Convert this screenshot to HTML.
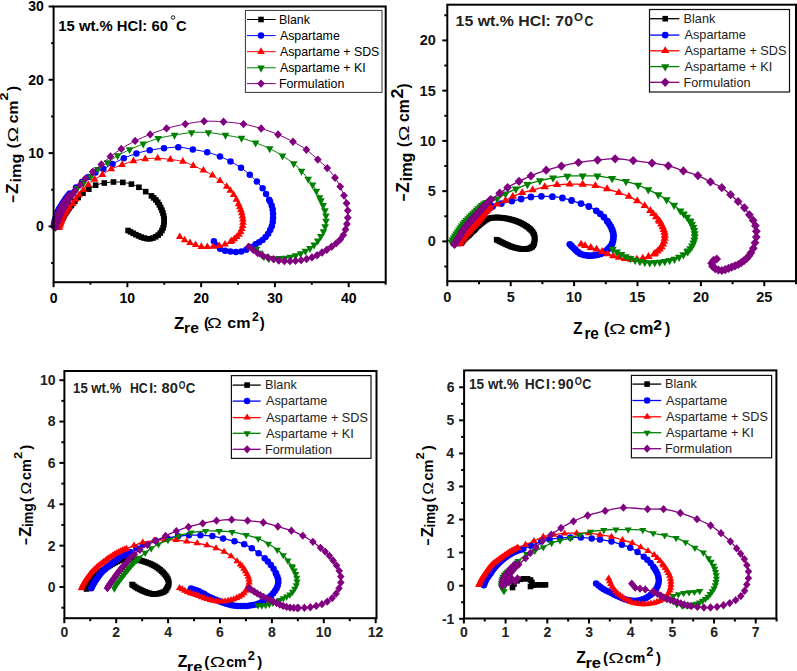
<!DOCTYPE html>
<html><head><meta charset="utf-8"><title>Nyquist plots</title>
<style>html,body{margin:0;padding:0;background:#fff;overflow:hidden}svg{display:block}text{font-family:"Liberation Sans",sans-serif;fill:#000}</style>
</head><body>
<svg width="797" height="671" viewBox="0 0 797 671">
<rect width="797" height="671" fill="#fff"/>
<g fill="#000000"><path d="M58 227 L58.17 226.64 L58.42 226.13 L58.7 225.56 L58.96 225.02 L59.21 224.53 L59.45 224.03 L59.69 223.54 L59.94 223.05 L60.19 222.56 L60.44 222.07 L60.69 221.58 L60.95 221.1 L61.21 220.61 L61.48 220.13 L61.75 219.65 L62.02 219.17 L62.29 218.7 L62.57 218.22 L62.85 217.75 L63.13 217.27 L63.41 216.8 L63.69 216.33 L63.98 215.86 L64.26 215.39 L64.55 214.92 L64.83 214.45 L65.12 213.98 L65.41 213.51 L65.7 213.04 L65.99 212.58 L66.28 212.11 L66.57 211.65 L66.87 211.18 L67.17 210.72 L67.48 210.26 L67.79 209.81 L68.1 209.36 L68.43 208.91 L68.75 208.47 L69.08 208.03 L69.43 207.59 L69.78 207.14 L70.13 206.71 L70.45 206.31 L70.68 206.01 L70.85 205.78 L71.09 205.49 L71.5 205 L72.16 204.25 L73 203.31 L73.92 202.29 L74.8 201.3 L75.61 200.37 L76.41 199.44 L77.25 198.49 L78.2 197.5 L79.28 196.43 L80.45 195.31 L81.7 194.18 L83 193.1 L84.36 192.09 L85.78 191.12 L87.26 190.17 L88.8 189.2 L90.39 188.16 L92.02 187.09 L93.74 186.08 L95.6 185.2 L97.63 184.5 L99.8 183.91 L102.05 183.42 L104.3 183 L106.56 182.63 L108.86 182.34 L111.18 182.12 L113.5 182 L115.83 181.97 L118.19 182.03 L120.52 182.18 L122.8 182.4 L125.02 182.7 L127.21 183.08 L129.34 183.54 L131.4 184.1 L133.37 184.77 L135.26 185.54 L137.1 186.39 L138.9 187.3 L140.67 188.3 L142.41 189.38 L144.09 190.5 L145.7 191.6 L147.28 192.73 L148.83 193.9 L150.24 194.99 L151.4 195.9 L152.21 196.55 L152.75 197.03 L153.18 197.43 L153.66 197.87 L154.22 198.37 L154.78 198.87 L155.33 199.38 L155.86 199.91 L156.36 200.47 L156.84 201.04 L157.3 201.63 L157.74 202.24 L158.15 202.87 L158.54 203.51 L158.91 204.16 L159.28 204.82 L159.64 205.47 L160 206.13 L160.36 206.79 L160.69 207.46 L161.02 208.14 L161.33 208.82 L161.63 209.51 L161.92 210.2 L162.2 210.9 L162.46 211.6 L162.71 212.31 L162.94 213.02 L163.16 213.74 L163.36 214.46 L163.54 215.19 L163.7 215.92 L163.85 216.65 L163.97 217.4 L164.07 218.14 L164.14 218.88 L164.19 219.63 L164.22 220.38 L164.22 221.13 L164.19 221.88 L164.13 222.63 L164.05 223.37 L163.94 224.12 L163.81 224.86 L163.66 225.59 L163.49 226.32 L163.3 227.05 L163.08 227.76 L162.83 228.47 L162.55 229.17 L162.25 229.86 L161.92 230.53 L161.55 231.18 L161.16 231.82 L160.73 232.44 L160.27 233.03 L159.79 233.59 L159.26 234.14 L158.72 234.65 L158.15 235.14 L157.55 235.59 L156.93 236.02 L156.3 236.42 L155.65 236.8 L154.99 237.16 L154.32 237.5 L153.64 237.81 L152.95 238.08 L152.24 238.32 L151.51 238.54 L150.78 238.7 L150.05 238.81 L149.3 238.85 L148.55 238.84 L147.8 238.78 L147.06 238.69 L146.32 238.57 L145.58 238.43 L144.85 238.25 L144.12 238.06 L143.41 237.85 L142.69 237.62 L141.98 237.37 L141.28 237.11 L140.59 236.83 L139.9 236.53 L139.21 236.22 L138.53 235.92 L137.84 235.61 L137.16 235.3 L136.48 234.98 L135.8 234.66 L135.13 234.33 L134.47 233.98 L133.8 233.63 L133.14 233.28 L132.47 232.93 L131.8 232.57 L131.14 232.21 L130.5 231.85 L129.83 231.48 L129.14 231.09 L128.53 230.74 L128.1 230.5" fill="none" stroke="#000000" stroke-width="1"/>
<rect x="55.2" y="224.2" width="5.6" height="5.6"/>
<rect x="56.16" y="222.22" width="5.6" height="5.6"/>
<rect x="57.14" y="220.25" width="5.6" height="5.6"/>
<rect x="58.15" y="218.3" width="5.6" height="5.6"/>
<rect x="59.22" y="216.37" width="5.6" height="5.6"/>
<rect x="60.33" y="214.47" width="5.6" height="5.6"/>
<rect x="61.46" y="212.59" width="5.6" height="5.6"/>
<rect x="62.61" y="210.71" width="5.6" height="5.6"/>
<rect x="63.77" y="208.85" width="5.6" height="5.6"/>
<rect x="64.99" y="207.01" width="5.6" height="5.6"/>
<rect x="66.28" y="205.23" width="5.6" height="5.6"/>
<rect x="67.65" y="203.51" width="5.6" height="5.6"/>
<rect x="68.7" y="202.2" width="5.6" height="5.6"/>
<rect x="72" y="198.5" width="5.6" height="5.6"/>
<rect x="75.4" y="194.7" width="5.6" height="5.6"/>
<rect x="80.2" y="190.3" width="5.6" height="5.6"/>
<rect x="86" y="186.4" width="5.6" height="5.6"/>
<rect x="92.8" y="182.4" width="5.6" height="5.6"/>
<rect x="101.5" y="180.2" width="5.6" height="5.6"/>
<rect x="110.7" y="179.2" width="5.6" height="5.6"/>
<rect x="120" y="179.6" width="5.6" height="5.6"/>
<rect x="128.6" y="181.3" width="5.6" height="5.6"/>
<rect x="136.1" y="184.5" width="5.6" height="5.6"/>
<rect x="142.9" y="188.8" width="5.6" height="5.6"/>
<rect x="148.6" y="193.1" width="5.6" height="5.6"/>
<rect x="150.86" y="195.07" width="5.6" height="5.6"/>
<rect x="153.06" y="197.11" width="5.6" height="5.6"/>
<rect x="154.94" y="199.44" width="5.6" height="5.6"/>
<rect x="156.48" y="202.02" width="5.6" height="5.6"/>
<rect x="157.89" y="204.66" width="5.6" height="5.6"/>
<rect x="159.12" y="207.4" width="5.6" height="5.6"/>
<rect x="160.14" y="210.22" width="5.6" height="5.6"/>
<rect x="160.9" y="213.12" width="5.6" height="5.6"/>
<rect x="161.34" y="216.08" width="5.6" height="5.6"/>
<rect x="161.39" y="219.08" width="5.6" height="5.6"/>
<rect x="161.01" y="222.06" width="5.6" height="5.6"/>
<rect x="160.28" y="224.96" width="5.6" height="5.6"/>
<rect x="159.12" y="227.73" width="5.6" height="5.6"/>
<rect x="157.47" y="230.23" width="5.6" height="5.6"/>
<rect x="155.35" y="232.34" width="5.6" height="5.6"/>
<rect x="152.85" y="234" width="5.6" height="5.6"/>
<rect x="150.15" y="235.28" width="5.6" height="5.6"/>
<rect x="147.25" y="236.01" width="5.6" height="5.6"/>
<rect x="144.26" y="235.89" width="5.6" height="5.6"/>
<rect x="141.32" y="235.26" width="5.6" height="5.6"/>
<rect x="138.48" y="234.31" width="5.6" height="5.6"/>
<rect x="135.73" y="233.12" width="5.6" height="5.6"/>
<rect x="133" y="231.86" width="5.6" height="5.6"/>
<rect x="130.34" y="230.48" width="5.6" height="5.6"/>
<rect x="127.7" y="229.05" width="5.6" height="5.6"/>
<rect x="125.3" y="227.7" width="5.6" height="5.6"/>
</g>
<g fill="#0000ff"><path d="M54 224 L54.1 223.62 L54.24 223.07 L54.39 222.45 L54.54 221.87 L54.68 221.33 L54.81 220.8 L54.95 220.27 L55.1 219.74 L55.25 219.21 L55.4 218.68 L55.56 218.15 L55.71 217.63 L55.87 217.1 L56.03 216.57 L56.19 216.05 L56.36 215.52 L56.52 215 L56.69 214.47 L56.86 213.95 L57.04 213.43 L57.23 212.92 L57.42 212.4 L57.62 211.89 L57.83 211.38 L58.06 210.88 L58.3 210.38 L58.54 209.89 L58.8 209.41 L59.07 208.92 L59.34 208.45 L59.63 207.98 L59.91 207.51 L60.2 207.04 L60.5 206.58 L60.79 206.11 L61.09 205.65 L61.38 205.18 L61.68 204.72 L61.97 204.25 L62.27 203.79 L62.56 203.33 L62.86 202.87 L63.16 202.4 L63.47 201.95 L63.77 201.49 L64.08 201.03 L64.39 200.58 L64.7 200.13 L65.02 199.68 L65.34 199.23 L65.66 198.78 L65.99 198.34 L66.32 197.9 L66.65 197.46 L66.99 197.03 L67.33 196.6 L67.68 196.16 L68.03 195.71 L68.37 195.28 L68.7 194.88 L68.87 194.62 L68.95 194.46 L69.17 194.16 L69.8 193.5 L71 192.31 L72.59 190.76 L74.34 189.07 L76 187.5 L77.5 186.08 L78.98 184.69 L80.47 183.33 L82 182 L83.58 180.7 L85.19 179.44 L86.83 178.2 L88.5 177 L90.19 175.82 L91.91 174.66 L93.67 173.55 L95.5 172.5 L97.38 171.57 L99.32 170.73 L101.32 169.87 L103.4 168.9 L105.54 167.79 L107.74 166.59 L110.04 165.32 L112.5 164 L115.14 162.59 L117.93 161.09 L120.83 159.59 L123.8 158.2 L126.84 156.91 L129.98 155.69 L133.17 154.55 L136.4 153.5 L139.65 152.55 L142.94 151.68 L146.29 150.9 L149.7 150.2 L153.2 149.59 L156.79 149.06 L160.4 148.6 L164 148.2 L167.57 147.8 L171.14 147.44 L174.71 147.2 L178.3 147.2 L181.91 147.51 L185.54 148.06 L189.18 148.73 L192.8 149.4 L196.44 150.02 L200.11 150.67 L203.71 151.38 L207.2 152.2 L210.57 153.15 L213.84 154.21 L217 155.34 L220 156.5 L222.79 157.67 L225.39 158.87 L227.93 160.14 L230.5 161.5 L233.16 162.97 L235.86 164.53 L238.49 166.15 L241 167.8 L243.36 169.51 L245.62 171.27 L247.77 173.05 L249.8 174.8 L251.7 176.52 L253.49 178.22 L255.18 179.91 L256.8 181.6 L258.39 183.31 L259.92 185.02 L261.34 186.7 L262.6 188.3 L263.63 189.78 L264.49 191.17 L265.26 192.53 L266.04 193.93 L266.9 195.46 L267.76 197.07 L268.55 198.56 L269.17 199.74 L269.54 200.44 L269.73 200.79 L269.87 201.08 L270.1 201.6 L270.46 202.43 L270.88 203.41 L271.3 204.46 L271.67 205.49 L271.98 206.5 L272.26 207.51 L272.5 208.53 L272.7 209.56 L272.84 210.6 L272.94 211.64 L273.01 212.69 L273.06 213.74 L273.09 214.79 L273.11 215.84 L273.11 216.89 L273.08 217.94 L273.03 218.99 L272.97 220.04 L272.88 221.09 L272.74 222.12 L272.56 223.16 L272.34 224.19 L272.09 225.21 L271.79 226.21 L271.44 227.2 L271.05 228.17 L270.63 229.14 L270.18 230.09 L269.71 231.02 L269.21 231.95 L268.69 232.86 L268.13 233.75 L267.54 234.61 L266.92 235.46 L266.26 236.29 L265.58 237.08 L264.87 237.85 L264.12 238.59 L263.35 239.3 L262.55 239.98 L261.71 240.62 L260.84 241.22 L259.96 241.79 L259.08 242.34 L258.24 242.84 L257.41 243.3 L256.55 243.76 L255.6 244.3 L254.52 244.94 L253.36 245.64 L252.16 246.37 L250.96 247.07 L249.8 247.75 L248.63 248.43 L247.44 249.08 L246.24 249.68 L245.01 250.25 L243.77 250.78 L242.5 251.24 L241.22 251.6 L239.9 251.83 L238.55 251.94 L237.19 251.99 L235.84 251.99 L234.49 251.96 L233.15 251.87 L231.8 251.74 L230.46 251.59 L229.12 251.42 L227.78 251.23 L226.45 250.99 L225.14 250.69 L223.83 250.34 L222.52 249.95 L221.26 249.47 L220.09 248.86 L219 248.07 L217.98 247.13 L217.05 246.12 L216.21 245.13 L215.47 244.07 L214.82 242.93 L214.28 241.91 L213.9 241.2" fill="none" stroke="#0000ff" stroke-width="1"/>
<circle cx="54" cy="224" r="3.25"/>
<circle cx="54.54" cy="221.87" r="3.25"/>
<circle cx="55.1" cy="219.74" r="3.25"/>
<circle cx="55.71" cy="217.63" r="3.25"/>
<circle cx="56.36" cy="215.52" r="3.25"/>
<circle cx="57.04" cy="213.43" r="3.25"/>
<circle cx="57.83" cy="211.38" r="3.25"/>
<circle cx="58.8" cy="209.41" r="3.25"/>
<circle cx="59.91" cy="207.51" r="3.25"/>
<circle cx="61.09" cy="205.65" r="3.25"/>
<circle cx="62.27" cy="203.79" r="3.25"/>
<circle cx="63.47" cy="201.95" r="3.25"/>
<circle cx="64.7" cy="200.13" r="3.25"/>
<circle cx="65.99" cy="198.34" r="3.25"/>
<circle cx="67.33" cy="196.6" r="3.25"/>
<circle cx="68.7" cy="194.88" r="3.25"/>
<circle cx="69.8" cy="193.5" r="3.25"/>
<circle cx="76" cy="187.5" r="3.25"/>
<circle cx="82" cy="182" r="3.25"/>
<circle cx="88.5" cy="177" r="3.25"/>
<circle cx="95.5" cy="172.5" r="3.25"/>
<circle cx="103.4" cy="168.9" r="3.25"/>
<circle cx="112.5" cy="164" r="3.25"/>
<circle cx="123.8" cy="158.2" r="3.25"/>
<circle cx="136.4" cy="153.5" r="3.25"/>
<circle cx="149.7" cy="150.2" r="3.25"/>
<circle cx="164" cy="148.2" r="3.25"/>
<circle cx="178.3" cy="147.2" r="3.25"/>
<circle cx="192.8" cy="149.4" r="3.25"/>
<circle cx="207.2" cy="152.2" r="3.25"/>
<circle cx="220" cy="156.5" r="3.25"/>
<circle cx="230.5" cy="161.5" r="3.25"/>
<circle cx="241" cy="167.8" r="3.25"/>
<circle cx="249.8" cy="174.8" r="3.25"/>
<circle cx="256.8" cy="181.6" r="3.25"/>
<circle cx="262.6" cy="188.3" r="3.25"/>
<circle cx="266.04" cy="193.93" r="3.25"/>
<circle cx="269.17" cy="199.74" r="3.25"/>
<circle cx="270.1" cy="201.6" r="3.25"/>
<circle cx="271.67" cy="205.49" r="3.25"/>
<circle cx="272.7" cy="209.56" r="3.25"/>
<circle cx="273.06" cy="213.74" r="3.25"/>
<circle cx="273.08" cy="217.94" r="3.25"/>
<circle cx="272.74" cy="222.12" r="3.25"/>
<circle cx="271.79" cy="226.21" r="3.25"/>
<circle cx="270.18" cy="230.09" r="3.25"/>
<circle cx="268.13" cy="233.75" r="3.25"/>
<circle cx="265.58" cy="237.08" r="3.25"/>
<circle cx="262.55" cy="239.98" r="3.25"/>
<circle cx="259.08" cy="242.34" r="3.25"/>
<circle cx="255.6" cy="244.3" r="3.25"/>
<circle cx="250.96" cy="247.07" r="3.25"/>
<circle cx="246.24" cy="249.68" r="3.25"/>
<circle cx="241.22" cy="251.6" r="3.25"/>
<circle cx="235.84" cy="251.99" r="3.25"/>
<circle cx="230.46" cy="251.59" r="3.25"/>
<circle cx="225.14" cy="250.69" r="3.25"/>
<circle cx="220.09" cy="248.86" r="3.25"/>
<circle cx="216.21" cy="245.13" r="3.25"/>
<circle cx="213.9" cy="241.2" r="3.25"/>
</g>
<g fill="#ff0000"><path d="M59.5 227.5 L59.61 227.12 L59.77 226.58 L59.95 225.97 L60.12 225.39 L60.27 224.86 L60.43 224.33 L60.59 223.81 L60.75 223.28 L60.92 222.76 L61.08 222.23 L61.26 221.71 L61.43 221.19 L61.62 220.67 L61.81 220.16 L62.01 219.64 L62.2 219.13 L62.41 218.62 L62.62 218.11 L62.83 217.6 L63.04 217.1 L63.26 216.59 L63.49 216.09 L63.72 215.59 L63.96 215.09 L64.2 214.6 L64.45 214.11 L64.7 213.62 L64.96 213.14 L65.23 212.66 L65.5 212.18 L65.78 211.7 L66.06 211.23 L66.34 210.76 L66.62 210.29 L66.91 209.82 L67.21 209.36 L67.52 208.88 L67.86 208.4 L68.18 207.94 L68.46 207.54 L68.61 207.27 L68.68 207.08 L68.82 206.86 L69.2 206.5 L69.92 205.98 L70.87 205.36 L71.88 204.63 L72.8 203.8 L73.56 202.82 L74.26 201.71 L74.96 200.54 L75.7 199.4 L76.49 198.32 L77.31 197.26 L78.17 196.16 L79.1 195 L80.12 193.73 L81.21 192.37 L82.35 191.01 L83.5 189.7 L84.64 188.48 L85.78 187.31 L86.99 186.13 L88.3 184.9 L89.73 183.58 L91.26 182.2 L92.88 180.82 L94.6 179.5 L96.42 178.28 L98.34 177.12 L100.34 175.95 L102.4 174.7 L104.5 173.31 L106.66 171.82 L108.92 170.35 L111.3 169 L113.85 167.81 L116.55 166.72 L119.32 165.7 L122.1 164.7 L124.88 163.69 L127.69 162.71 L130.53 161.79 L133.4 161 L136.3 160.35 L139.23 159.82 L142.19 159.38 L145.2 159 L148.27 158.67 L151.4 158.39 L154.55 158.22 L157.7 158.2 L160.85 158.36 L164 158.67 L167.15 159.08 L170.3 159.5 L173.48 159.9 L176.68 160.32 L179.82 160.83 L182.8 161.5 L185.57 162.39 L188.2 163.44 L190.75 164.57 L193.3 165.7 L195.88 166.81 L198.44 167.95 L200.96 169.11 L203.4 170.3 L205.76 171.51 L208.06 172.74 L210.27 174.01 L212.4 175.3 L214.42 176.63 L216.34 178 L218.2 179.39 L220 180.8 L221.81 182.27 L223.6 183.79 L225.26 185.27 L226.7 186.6 L227.83 187.72 L228.72 188.71 L229.5 189.64 L230.31 190.62 L231.16 191.66 L232.01 192.72 L232.82 193.79 L233.6 194.89 L234.35 196.03 L235.06 197.19 L235.73 198.36 L236.36 199.53 L236.96 200.71 L237.53 201.92 L238.04 203.07 L238.5 204.1 L238.87 204.95 L239.18 205.67 L239.45 206.35 L239.74 207.05 L240.03 207.79 L240.33 208.54 L240.61 209.29 L240.88 210.04 L241.13 210.8 L241.35 211.57 L241.57 212.34 L241.77 213.11 L241.95 213.89 L242.12 214.67 L242.28 215.46 L242.42 216.24 L242.56 217.03 L242.68 217.82 L242.79 218.62 L242.87 219.41 L242.94 220.21 L242.99 221.01 L243.02 221.81 L243.02 222.61 L242.97 223.4 L242.9 224.2 L242.79 224.99 L242.66 225.78 L242.51 226.57 L242.33 227.35 L242.13 228.12 L241.9 228.89 L241.64 229.65 L241.36 230.4 L241.05 231.14 L240.71 231.86 L240.34 232.56 L239.93 233.26 L239.49 233.93 L239.02 234.57 L238.51 235.18 L237.96 235.76 L237.39 236.32 L236.8 236.87 L236.21 237.4 L235.6 237.92 L234.98 238.43 L234.36 238.93 L233.69 239.44 L233 239.96 L232.35 240.44 L231.8 240.85 L231.48 241.12 L231.33 241.29 L231.09 241.48 L230.5 241.8 L229.44 242.34 L228.05 243.01 L226.53 243.7 L225.04 244.29 L223.62 244.75 L222.17 245.14 L220.71 245.48 L219.24 245.78 L217.77 246.04 L216.28 246.25 L214.79 246.42 L213.29 246.57 L211.8 246.68 L210.3 246.77 L208.8 246.83 L207.31 246.86 L205.8 246.89 L204.29 246.9 L202.79 246.85 L201.31 246.68 L199.86 246.35 L198.44 245.9 L197.03 245.39 L195.62 244.88 L194.21 244.39 L192.79 243.89 L191.39 243.37 L190 242.8 L188.63 242.19 L187.27 241.54 L185.93 240.86 L184.63 240.13 L183.27 239.26 L181.88 238.3 L180.66 237.41 L179.8 236.8" fill="none" stroke="#ff0000" stroke-width="1"/>
<path d="M59.5 223.1L63.3 229.7L55.7 229.7Z"/>
<path d="M60.12 220.99L63.92 227.59L56.32 227.59Z"/>
<path d="M60.75 218.88L64.55 225.48L56.95 225.48Z"/>
<path d="M61.43 216.79L65.23 223.39L57.63 223.39Z"/>
<path d="M62.2 214.73L66 221.33L58.4 221.33Z"/>
<path d="M63.04 212.7L66.84 219.3L59.24 219.3Z"/>
<path d="M63.96 210.69L67.76 217.29L60.16 217.29Z"/>
<path d="M64.96 208.74L68.76 215.34L61.16 215.34Z"/>
<path d="M66.06 206.83L69.86 213.43L62.26 213.43Z"/>
<path d="M67.21 204.96L71.01 211.56L63.41 211.56Z"/>
<path d="M68.46 203.14L72.26 209.74L64.66 209.74Z"/>
<path d="M69.2 202.1L73 208.7L65.4 208.7Z"/>
<path d="M72.8 199.4L76.6 206L69 206Z"/>
<path d="M75.7 195L79.5 201.6L71.9 201.6Z"/>
<path d="M79.1 190.6L82.9 197.2L75.3 197.2Z"/>
<path d="M83.5 185.3L87.3 191.9L79.7 191.9Z"/>
<path d="M88.3 180.5L92.1 187.1L84.5 187.1Z"/>
<path d="M94.6 175.1L98.4 181.7L90.8 181.7Z"/>
<path d="M102.4 170.3L106.2 176.9L98.6 176.9Z"/>
<path d="M111.3 164.6L115.1 171.2L107.5 171.2Z"/>
<path d="M122.1 160.3L125.9 166.9L118.3 166.9Z"/>
<path d="M133.4 156.6L137.2 163.2L129.6 163.2Z"/>
<path d="M145.2 154.6L149 161.2L141.4 161.2Z"/>
<path d="M157.7 153.8L161.5 160.4L153.9 160.4Z"/>
<path d="M170.3 155.1L174.1 161.7L166.5 161.7Z"/>
<path d="M182.8 157.1L186.6 163.7L179 163.7Z"/>
<path d="M193.3 161.3L197.1 167.9L189.5 167.9Z"/>
<path d="M203.4 165.9L207.2 172.5L199.6 172.5Z"/>
<path d="M212.4 170.9L216.2 177.5L208.6 177.5Z"/>
<path d="M220 176.4L223.8 183L216.2 183Z"/>
<path d="M226.7 182.2L230.5 188.8L222.9 188.8Z"/>
<path d="M230.31 186.22L234.11 192.82L226.51 192.82Z"/>
<path d="M233.6 190.49L237.4 197.09L229.8 197.09Z"/>
<path d="M236.36 195.13L240.16 201.73L232.56 201.73Z"/>
<path d="M238.5 199.7L242.3 206.3L234.7 206.3Z"/>
<path d="M239.74 202.65L243.54 209.25L235.94 209.25Z"/>
<path d="M240.88 205.64L244.68 212.24L237.08 212.24Z"/>
<path d="M241.77 208.71L245.57 215.31L237.97 215.31Z"/>
<path d="M242.42 211.84L246.22 218.44L238.62 218.44Z"/>
<path d="M242.87 215.01L246.67 221.61L239.07 221.61Z"/>
<path d="M243.02 218.21L246.82 224.81L239.22 224.81Z"/>
<path d="M242.66 221.38L246.46 227.98L238.86 227.98Z"/>
<path d="M241.9 224.49L245.7 231.09L238.1 231.09Z"/>
<path d="M240.71 227.46L244.51 234.06L236.91 234.06Z"/>
<path d="M239.02 230.17L242.82 236.77L235.22 236.77Z"/>
<path d="M236.8 232.47L240.6 239.07L233 239.07Z"/>
<path d="M234.36 234.53L238.16 241.13L230.56 241.13Z"/>
<path d="M231.8 236.45L235.6 243.05L228 243.05Z"/>
<path d="M230.5 237.4L234.3 244L226.7 244Z"/>
<path d="M225.04 239.89L228.84 246.49L221.24 246.49Z"/>
<path d="M219.24 241.38L223.04 247.98L215.44 247.98Z"/>
<path d="M213.29 242.17L217.09 248.77L209.49 248.77Z"/>
<path d="M207.31 242.46L211.11 249.06L203.51 249.06Z"/>
<path d="M201.31 242.28L205.11 248.88L197.51 248.88Z"/>
<path d="M195.62 240.48L199.42 247.08L191.82 247.08Z"/>
<path d="M190 238.4L193.8 245L186.2 245Z"/>
<path d="M184.63 235.73L188.43 242.33L180.83 242.33Z"/>
<path d="M179.8 232.4L183.6 239L176 239Z"/>
</g>
<g fill="#008000"><path d="M55 226 L55.13 225.59 L55.31 225 L55.52 224.34 L55.72 223.71 L55.9 223.14 L56.08 222.57 L56.27 222 L56.47 221.43 L56.67 220.87 L56.89 220.31 L57.11 219.75 L57.33 219.19 L57.57 218.64 L57.81 218.09 L58.06 217.54 L58.31 217 L58.56 216.45 L58.82 215.91 L59.08 215.37 L59.34 214.83 L59.6 214.29 L59.87 213.76 L60.14 213.22 L60.41 212.69 L60.69 212.15 L60.97 211.62 L61.25 211.09 L61.53 210.56 L61.82 210.04 L62.11 209.51 L62.4 208.98 L62.69 208.46 L62.98 207.93 L63.27 207.41 L63.56 206.89 L63.86 206.36 L64.15 205.84 L64.45 205.32 L64.74 204.8 L65.04 204.28 L65.34 203.76 L65.64 203.24 L65.95 202.72 L66.26 202.21 L66.57 201.7 L66.89 201.19 L67.21 200.68 L67.53 200.17 L67.86 199.67 L68.19 199.17 L68.52 198.67 L68.85 198.17 L69.2 197.65 L69.56 197.12 L69.9 196.62 L70.2 196.18 L70.31 195.96 L70.3 195.89 L70.43 195.66 L71 195 L72.16 193.69 L73.73 191.94 L75.48 190.05 L77.2 188.3 L78.86 186.77 L80.56 185.29 L82.29 183.85 L84 182.4 L85.7 180.98 L87.41 179.58 L89.11 178.15 L90.8 176.6 L92.4 174.89 L93.95 173.06 L95.6 171.2 L97.5 169.4 L99.77 167.7 L102.29 166.04 L104.92 164.38 L107.5 162.7 L109.97 160.95 L112.42 159.16 L114.94 157.39 L117.6 155.7 L120.43 154.12 L123.38 152.62 L126.44 151.16 L129.6 149.7 L132.85 148.23 L136.21 146.77 L139.66 145.32 L143.2 143.9 L146.82 142.45 L150.53 140.99 L154.33 139.61 L158.2 138.4 L162.16 137.4 L166.22 136.56 L170.34 135.82 L174.5 135.1 L178.73 134.36 L183.02 133.64 L187.33 133.03 L191.6 132.6 L195.81 132.37 L200 132.29 L204.19 132.37 L208.4 132.6 L212.68 133.04 L217 133.66 L221.3 134.37 L225.5 135.1 L229.62 135.8 L233.69 136.52 L237.66 137.31 L241.5 138.2 L245.16 139.22 L248.67 140.33 L252.12 141.53 L255.6 142.8 L259.16 144.13 L262.73 145.54 L266.27 147.02 L269.7 148.6 L273.03 150.29 L276.28 152.07 L279.44 153.93 L282.5 155.8 L285.49 157.72 L288.41 159.69 L291.18 161.66 L293.7 163.6 L295.91 165.46 L297.88 167.27 L299.71 169.1 L301.5 171 L303.31 173.05 L305.06 175.21 L306.71 177.31 L308.2 179.2 L309.48 180.79 L310.59 182.18 L311.6 183.5 L312.6 184.9 L313.6 186.39 L314.56 187.91 L315.49 189.46 L316.37 191.02 L317.25 192.69 L318.11 194.45 L318.89 196.1 L319.55 197.48 L319.99 198.43 L320.28 199.09 L320.55 199.69 L320.9 200.5 L321.4 201.59 L321.97 202.84 L322.56 204.14 L323.1 205.43 L323.59 206.69 L324.07 207.95 L324.51 209.23 L324.9 210.52 L325.24 211.82 L325.53 213.14 L325.77 214.47 L325.94 215.81 L326.05 217.15 L326.1 218.5 L326.08 219.86 L326.01 221.2 L325.86 222.54 L325.65 223.87 L325.39 225.2 L325.08 226.52 L324.74 227.82 L324.35 229.12 L323.91 230.39 L323.41 231.65 L322.85 232.87 L322.21 234.06 L321.54 235.23 L320.84 236.39 L320.12 237.53 L319.37 238.65 L318.58 239.75 L317.76 240.82 L316.91 241.87 L316.02 242.89 L315.1 243.88 L314.15 244.82 L313.15 245.73 L312.11 246.59 L311.04 247.43 L309.96 248.23 L308.85 249 L307.72 249.74 L306.57 250.45 L305.41 251.14 L304.23 251.79 L303.04 252.42 L301.83 253.03 L300.61 253.6 L299.38 254.15 L298.13 254.68 L296.88 255.17 L295.61 255.63 L294.33 256.06 L293.04 256.46 L291.73 256.82 L290.42 257.13 L289.1 257.4 L287.77 257.62 L286.43 257.81 L285.09 257.98 L283.75 258.12 L282.41 258.23 L281.06 258.33 L279.71 258.42 L278.36 258.5 L277.02 258.57 L275.67 258.62 L274.32 258.65 L272.96 258.67 L271.6 258.7 L270.25 258.65 L268.93 258.47 L267.64 258.13 L266.36 257.66 L265.12 257.1 L263.94 256.47 L262.81 255.75 L261.72 254.93 L260.7 254.05 L259.74 253.15 L258.81 252.11 L257.91 250.97 L257.14 249.92 L256.6 249.2" fill="none" stroke="#008000" stroke-width="1"/>
<path d="M51.2 223.67L58.8 223.67L55 230.67Z"/>
<path d="M51.92 221.38L59.52 221.38L55.72 228.38Z"/>
<path d="M52.67 219.1L60.27 219.1L56.47 226.1Z"/>
<path d="M53.53 216.86L61.13 216.86L57.33 223.86Z"/>
<path d="M54.51 214.66L62.11 214.66L58.31 221.66Z"/>
<path d="M55.54 212.5L63.14 212.5L59.34 219.5Z"/>
<path d="M56.61 210.35L64.21 210.35L60.41 217.35Z"/>
<path d="M57.73 208.23L65.33 208.23L61.53 215.23Z"/>
<path d="M58.89 206.13L66.49 206.13L62.69 213.13Z"/>
<path d="M60.06 204.03L67.66 204.03L63.86 211.03Z"/>
<path d="M61.24 201.94L68.84 201.94L65.04 208.94Z"/>
<path d="M62.46 199.87L70.06 199.87L66.26 206.87Z"/>
<path d="M63.73 197.84L71.33 197.84L67.53 204.84Z"/>
<path d="M65.05 195.84L72.65 195.84L68.85 202.84Z"/>
<path d="M66.4 193.85L74 193.85L70.2 200.85Z"/>
<path d="M67.2 192.67L74.8 192.67L71 199.67Z"/>
<path d="M73.4 185.97L81 185.97L77.2 192.97Z"/>
<path d="M80.2 180.07L87.8 180.07L84 187.07Z"/>
<path d="M87 174.27L94.6 174.27L90.8 181.27Z"/>
<path d="M93.7 167.07L101.3 167.07L97.5 174.07Z"/>
<path d="M103.7 160.37L111.3 160.37L107.5 167.37Z"/>
<path d="M113.8 153.37L121.4 153.37L117.6 160.37Z"/>
<path d="M125.8 147.37L133.4 147.37L129.6 154.37Z"/>
<path d="M139.4 141.57L147 141.57L143.2 148.57Z"/>
<path d="M154.4 136.07L162 136.07L158.2 143.07Z"/>
<path d="M170.7 132.77L178.3 132.77L174.5 139.77Z"/>
<path d="M187.8 130.27L195.4 130.27L191.6 137.27Z"/>
<path d="M204.6 130.27L212.2 130.27L208.4 137.27Z"/>
<path d="M221.7 132.77L229.3 132.77L225.5 139.77Z"/>
<path d="M237.7 135.87L245.3 135.87L241.5 142.87Z"/>
<path d="M251.8 140.47L259.4 140.47L255.6 147.47Z"/>
<path d="M265.9 146.27L273.5 146.27L269.7 153.27Z"/>
<path d="M278.7 153.47L286.3 153.47L282.5 160.47Z"/>
<path d="M289.9 161.27L297.5 161.27L293.7 168.27Z"/>
<path d="M297.7 168.67L305.3 168.67L301.5 175.67Z"/>
<path d="M304.4 176.87L312 176.87L308.2 183.87Z"/>
<path d="M308.8 182.56L316.4 182.56L312.6 189.56Z"/>
<path d="M312.57 188.69L320.17 188.69L316.37 195.69Z"/>
<path d="M315.75 195.15L323.35 195.15L319.55 202.15Z"/>
<path d="M317.1 198.17L324.7 198.17L320.9 205.17Z"/>
<path d="M319.3 203.1L326.9 203.1L323.1 210.1Z"/>
<path d="M321.1 208.19L328.7 208.19L324.9 215.19Z"/>
<path d="M322.14 213.48L329.74 213.48L325.94 220.48Z"/>
<path d="M322.21 218.87L329.81 218.87L326.01 225.87Z"/>
<path d="M321.28 224.18L328.88 224.18L325.08 231.18Z"/>
<path d="M319.61 229.31L327.21 229.31L323.41 236.31Z"/>
<path d="M317.04 234.06L324.64 234.06L320.84 241.06Z"/>
<path d="M313.96 238.49L321.56 238.49L317.76 245.49Z"/>
<path d="M310.35 242.49L317.95 242.49L314.15 249.49Z"/>
<path d="M306.16 245.9L313.76 245.9L309.96 252.9Z"/>
<path d="M301.61 248.8L309.21 248.8L305.41 255.8Z"/>
<path d="M296.81 251.27L304.41 251.27L300.61 258.27Z"/>
<path d="M291.81 253.3L299.41 253.3L295.61 260.3Z"/>
<path d="M286.62 254.8L294.22 254.8L290.42 261.8Z"/>
<path d="M281.29 255.64L288.89 255.64L285.09 262.64Z"/>
<path d="M275.91 256.08L283.51 256.08L279.71 263.08Z"/>
<path d="M270.52 256.31L278.12 256.31L274.32 263.31Z"/>
<path d="M265.13 256.13L272.73 256.13L268.93 263.13Z"/>
<path d="M260.14 254.13L267.74 254.13L263.94 261.13Z"/>
<path d="M255.94 250.81L263.54 250.81L259.74 257.81Z"/>
<path d="M252.8 246.87L260.4 246.87L256.6 253.87Z"/>
</g>
<g fill="#800080"><path d="M54 227 L54.08 226.58 L54.19 225.97 L54.32 225.29 L54.44 224.64 L54.56 224.05 L54.68 223.46 L54.81 222.88 L54.95 222.3 L55.1 221.72 L55.27 221.14 L55.44 220.57 L55.63 219.99 L55.82 219.43 L56.02 218.86 L56.23 218.3 L56.45 217.74 L56.66 217.18 L56.89 216.62 L57.11 216.07 L57.35 215.51 L57.58 214.96 L57.82 214.41 L58.06 213.86 L58.31 213.32 L58.56 212.77 L58.82 212.23 L59.08 211.69 L59.35 211.15 L59.62 210.62 L59.9 210.09 L60.18 209.56 L60.46 209.03 L60.75 208.5 L61.04 207.97 L61.33 207.45 L61.62 206.93 L61.92 206.41 L62.23 205.89 L62.54 205.37 L62.85 204.86 L63.16 204.35 L63.48 203.84 L63.8 203.33 L64.12 202.83 L64.45 202.33 L64.78 201.83 L65.12 201.33 L65.46 200.83 L65.8 200.34 L66.15 199.85 L66.5 199.37 L66.86 198.88 L67.23 198.38 L67.61 197.86 L67.98 197.37 L68.29 196.96 L68.85 195.89 L69.58 194.39 L69.84 193.93 L69 196 L66.29 202.38 L62.26 211.82 L58.22 221.23 L55.5 227.5 L54.66 229.33 L54.92 228.54 L55.63 226.7 L56.11 225.39 L56.26 224.86 L56.42 224.33 L56.58 223.8 L56.74 223.28 L56.9 222.75 L57.07 222.23 L57.25 221.71 L57.43 221.19 L57.62 220.67 L57.82 220.16 L58.02 219.65 L58.22 219.14 L58.43 218.63 L58.64 218.12 L58.86 217.61 L59.08 217.11 L59.3 216.61 L59.52 216.1 L59.75 215.6 L59.98 215.1 L60.21 214.61 L60.45 214.11 L60.69 213.61 L60.93 213.12 L61.18 212.63 L61.44 212.14 L61.69 211.66 L61.95 211.17 L62.22 210.69 L62.48 210.21 L62.75 209.73 L63.02 209.25 L63.29 208.77 L63.56 208.29 L63.83 207.81 L64.1 207.33 L64.37 206.85 L64.64 206.37 L64.91 205.89 L65.18 205.42 L65.46 204.94 L65.73 204.46 L66.01 203.99 L66.29 203.52 L66.57 203.04 L66.85 202.57 L67.14 202.1 L67.42 201.63 L67.71 201.16 L67.99 200.69 L68.28 200.22 L68.57 199.75 L68.86 199.29 L69.16 198.82 L69.45 198.36 L69.75 197.9 L70.05 197.43 L70.35 196.97 L70.65 196.52 L70.96 196.06 L71.27 195.6 L71.59 195.15 L71.9 194.7 L72.22 194.25 L72.54 193.81 L72.86 193.36 L73.18 192.92 L73.51 192.47 L73.74 192.12 L73.9 191.84 L74.2 191.43 L74.8 190.7 L75.84 189.54 L77.2 188.08 L78.68 186.48 L80.1 184.9 L81.38 183.37 L82.62 181.81 L83.93 180.22 L85.4 178.6 L87.05 176.95 L88.84 175.27 L90.74 173.55 L92.7 171.8 L94.74 170 L96.88 168.17 L99.08 166.3 L101.3 164.4 L103.52 162.45 L105.76 160.46 L108.07 158.47 L110.5 156.5 L113.02 154.59 L115.61 152.71 L118.35 150.82 L121.3 148.9 L124.51 146.89 L127.93 144.83 L131.49 142.8 L135.1 140.9 L138.76 139.16 L142.49 137.53 L146.31 135.95 L150.2 134.4 L154.13 132.83 L158.12 131.26 L162.22 129.77 L166.5 128.4 L171.02 127.17 L175.74 126.05 L180.54 125.03 L185.3 124.1 L189.99 123.22 L194.66 122.4 L199.36 121.73 L204.1 121.3 L208.89 121.15 L213.72 121.23 L218.59 121.47 L223.5 121.8 L228.51 122.2 L233.61 122.71 L238.65 123.34 L243.5 124.1 L248.11 125.01 L252.55 126.07 L256.89 127.24 L261.2 128.5 L265.51 129.86 L269.77 131.32 L273.95 132.88 L278 134.5 L281.91 136.2 L285.71 137.97 L289.4 139.82 L293 141.7 L296.51 143.6 L299.93 145.53 L303.23 147.55 L306.4 149.7 L309.44 152.07 L312.35 154.62 L315.14 157.18 L317.8 159.6 L320.33 161.8 L322.73 163.87 L325.01 165.93 L327.2 168.1 L329.32 170.44 L331.36 172.88 L333.27 175.32 L335 177.7 L336.52 179.97 L337.85 182.19 L339.06 184.38 L340.2 186.6 L341.28 188.88 L342.26 191.18 L343.17 193.45 L344 195.6 L344.77 197.61 L345.46 199.51 L346.08 201.35 L346.6 203.2 L347.03 205.05 L347.36 206.87 L347.62 208.69 L347.8 210.5 L347.91 212.33 L347.93 214.16 L347.89 215.97 L347.8 217.7 L347.65 219.36 L347.44 220.96 L347.18 222.5 L346.9 224 L346.6 225.43 L346.28 226.79 L345.92 228.14 L345.5 229.5 L345.03 230.92 L344.51 232.36 L343.93 233.78 L343.3 235.1 L342.61 236.32 L341.87 237.46 L341.07 238.55 L340.2 239.6 L339.25 240.61 L338.24 241.58 L337.17 242.5 L336.1 243.41 L335.01 244.28 L333.89 245.13 L332.76 245.95 L331.61 246.75 L330.44 247.53 L329.26 248.28 L328.07 249.02 L326.88 249.75 L325.68 250.47 L324.47 251.18 L323.26 251.87 L322.04 252.56 L320.81 253.24 L319.58 253.91 L318.35 254.57 L317.09 255.19 L315.83 255.79 L314.55 256.37 L313.26 256.91 L311.96 257.41 L310.64 257.88 L309.3 258.3 L307.96 258.7 L306.61 259.05 L305.24 259.37 L303.87 259.66 L302.49 259.91 L301.11 260.14 L299.73 260.33 L298.34 260.5 L296.94 260.64 L295.55 260.77 L294.16 260.89 L292.76 260.99 L291.36 261.07 L289.96 261.13 L288.56 261.17 L287.16 261.2 L285.76 261.19 L284.36 261.14 L282.97 261.04 L281.57 260.91 L280.18 260.74 L278.8 260.51 L277.44 260.21 L276.09 259.85 L274.74 259.47 L273.39 259.08 L272.04 258.72 L270.69 258.35 L269.34 257.97 L268 257.56 L266.67 257.13 L265.35 256.67 L264.03 256.19 L262.74 255.66 L261.46 255.09 L260.19 254.49 L258.95 253.84 L257.74 253.15 L256.57 252.38 L255.44 251.55 L254.33 250.71 L253.2 249.87 L251.95 248.98 L250.63 248.05 L249.45 247.22 L248.63 246.63" fill="none" stroke="#800080" stroke-width="1"/>
<path d="M54 222.8L57.9 227L54 231.2L50.1 227Z"/>
<path d="M54.44 220.44L58.34 224.64L54.44 228.84L50.54 224.64Z"/>
<path d="M54.95 218.1L58.85 222.3L54.95 226.5L51.05 222.3Z"/>
<path d="M55.63 215.79L59.53 219.99L55.63 224.19L51.73 219.99Z"/>
<path d="M56.45 213.54L60.35 217.74L56.45 221.94L52.55 217.74Z"/>
<path d="M57.35 211.31L61.25 215.51L57.35 219.71L53.45 215.51Z"/>
<path d="M58.31 209.12L62.21 213.32L58.31 217.52L54.41 213.32Z"/>
<path d="M59.35 206.95L63.25 211.15L59.35 215.35L55.45 211.15Z"/>
<path d="M60.46 204.83L64.36 209.03L60.46 213.23L56.56 209.03Z"/>
<path d="M61.62 202.73L65.52 206.93L61.62 211.13L57.72 206.93Z"/>
<path d="M62.85 200.66L66.75 204.86L62.85 209.06L58.95 204.86Z"/>
<path d="M64.12 198.63L68.02 202.83L64.12 207.03L60.22 202.83Z"/>
<path d="M65.46 196.63L69.36 200.83L65.46 205.03L61.56 200.83Z"/>
<path d="M66.86 194.68L70.76 198.88L66.86 203.08L62.96 198.88Z"/>
<path d="M68.29 192.76L72.19 196.96L68.29 201.16L64.39 196.96Z"/>
<path d="M69 191.8L72.9 196L69 200.2L65.1 196Z"/>
<path d="M55.5 223.3L59.4 227.5L55.5 231.7L51.6 227.5Z"/>
<path d="M56.11 221.19L60.01 225.39L56.11 229.59L52.21 225.39Z"/>
<path d="M56.74 219.08L60.64 223.28L56.74 227.48L52.84 223.28Z"/>
<path d="M57.43 216.99L61.33 221.19L57.43 225.39L53.53 221.19Z"/>
<path d="M58.22 214.94L62.12 219.14L58.22 223.34L54.32 219.14Z"/>
<path d="M59.08 212.91L62.98 217.11L59.08 221.31L55.18 217.11Z"/>
<path d="M59.98 210.9L63.88 215.1L59.98 219.3L56.08 215.1Z"/>
<path d="M60.93 208.92L64.83 213.12L60.93 217.32L57.03 213.12Z"/>
<path d="M61.95 206.97L65.85 211.17L61.95 215.37L58.05 211.17Z"/>
<path d="M63.02 205.05L66.92 209.25L63.02 213.45L59.12 209.25Z"/>
<path d="M64.1 203.13L68 207.33L64.1 211.53L60.2 207.33Z"/>
<path d="M65.18 201.22L69.08 205.42L65.18 209.62L61.28 205.42Z"/>
<path d="M66.29 199.32L70.19 203.52L66.29 207.72L62.39 203.52Z"/>
<path d="M67.42 197.43L71.32 201.63L67.42 205.83L63.52 201.63Z"/>
<path d="M68.57 195.55L72.47 199.75L68.57 203.95L64.67 199.75Z"/>
<path d="M69.75 193.7L73.65 197.9L69.75 202.1L65.85 197.9Z"/>
<path d="M70.96 191.86L74.86 196.06L70.96 200.26L67.06 196.06Z"/>
<path d="M72.22 190.05L76.12 194.25L72.22 198.45L68.32 194.25Z"/>
<path d="M73.51 188.27L77.41 192.47L73.51 196.67L69.61 192.47Z"/>
<path d="M74.8 186.5L78.7 190.7L74.8 194.9L70.9 190.7Z"/>
<path d="M80.1 180.7L84 184.9L80.1 189.1L76.2 184.9Z"/>
<path d="M85.4 174.4L89.3 178.6L85.4 182.8L81.5 178.6Z"/>
<path d="M92.7 167.6L96.6 171.8L92.7 176L88.8 171.8Z"/>
<path d="M101.3 160.2L105.2 164.4L101.3 168.6L97.4 164.4Z"/>
<path d="M110.5 152.3L114.4 156.5L110.5 160.7L106.6 156.5Z"/>
<path d="M121.3 144.7L125.2 148.9L121.3 153.1L117.4 148.9Z"/>
<path d="M135.1 136.7L139 140.9L135.1 145.1L131.2 140.9Z"/>
<path d="M150.2 130.2L154.1 134.4L150.2 138.6L146.3 134.4Z"/>
<path d="M166.5 124.2L170.4 128.4L166.5 132.6L162.6 128.4Z"/>
<path d="M185.3 119.9L189.2 124.1L185.3 128.3L181.4 124.1Z"/>
<path d="M204.1 117.1L208 121.3L204.1 125.5L200.2 121.3Z"/>
<path d="M223.5 117.6L227.4 121.8L223.5 126L219.6 121.8Z"/>
<path d="M243.5 119.9L247.4 124.1L243.5 128.3L239.6 124.1Z"/>
<path d="M261.2 124.3L265.1 128.5L261.2 132.7L257.3 128.5Z"/>
<path d="M278 130.3L281.9 134.5L278 138.7L274.1 134.5Z"/>
<path d="M293 137.5L296.9 141.7L293 145.9L289.1 141.7Z"/>
<path d="M306.4 145.5L310.3 149.7L306.4 153.9L302.5 149.7Z"/>
<path d="M317.8 155.4L321.7 159.6L317.8 163.8L313.9 159.6Z"/>
<path d="M327.2 163.9L331.1 168.1L327.2 172.3L323.3 168.1Z"/>
<path d="M335 173.5L338.9 177.7L335 181.9L331.1 177.7Z"/>
<path d="M340.2 182.4L344.1 186.6L340.2 190.8L336.3 186.6Z"/>
<path d="M344 191.4L347.9 195.6L344 199.8L340.1 195.6Z"/>
<path d="M346.6 199L350.5 203.2L346.6 207.4L342.7 203.2Z"/>
<path d="M347.8 206.3L351.7 210.5L347.8 214.7L343.9 210.5Z"/>
<path d="M347.8 213.5L351.7 217.7L347.8 221.9L343.9 217.7Z"/>
<path d="M346.9 219.8L350.8 224L346.9 228.2L343 224Z"/>
<path d="M345.5 225.3L349.4 229.5L345.5 233.7L341.6 229.5Z"/>
<path d="M343.3 230.9L347.2 235.1L343.3 239.3L339.4 235.1Z"/>
<path d="M340.2 235.4L344.1 239.6L340.2 243.8L336.3 239.6Z"/>
<path d="M336.1 239.21L340 243.41L336.1 247.61L332.2 243.41Z"/>
<path d="M331.61 242.55L335.51 246.75L331.61 250.95L327.71 246.75Z"/>
<path d="M326.88 245.55L330.78 249.75L326.88 253.95L322.98 249.75Z"/>
<path d="M322.04 248.36L325.94 252.56L322.04 256.76L318.14 252.56Z"/>
<path d="M317.09 250.99L320.99 255.19L317.09 259.39L313.19 255.19Z"/>
<path d="M311.96 253.21L315.86 257.41L311.96 261.61L308.06 257.41Z"/>
<path d="M306.61 254.85L310.51 259.05L306.61 263.25L302.71 259.05Z"/>
<path d="M301.11 255.94L305.01 260.14L301.11 264.34L297.21 260.14Z"/>
<path d="M295.55 256.57L299.45 260.77L295.55 264.97L291.65 260.77Z"/>
<path d="M289.96 256.93L293.86 261.13L289.96 265.33L286.06 261.13Z"/>
<path d="M284.36 256.94L288.26 261.14L284.36 265.34L280.46 261.14Z"/>
<path d="M278.8 256.31L282.7 260.51L278.8 264.71L274.9 260.51Z"/>
<path d="M273.39 254.88L277.29 259.08L273.39 263.28L269.49 259.08Z"/>
<path d="M268 253.36L271.9 257.56L268 261.76L264.1 257.56Z"/>
<path d="M262.74 251.46L266.64 255.66L262.74 259.86L258.84 255.66Z"/>
<path d="M257.74 248.95L261.64 253.15L257.74 257.35L253.84 253.15Z"/>
<path d="M253.2 245.67L257.1 249.87L253.2 254.07L249.3 249.87Z"/>
<path d="M248.63 242.43L252.53 246.63L248.63 250.83L244.73 246.63Z"/>
</g>
<rect x="53.6" y="6.5" width="332.1" height="275.7" fill="none" stroke="#000" stroke-width="2"/>
<line x1="51.1" y1="263.05" x2="53.6" y2="263.05" stroke="#000" stroke-width="2"/>
<line x1="48.6" y1="226.4" x2="53.6" y2="226.4" stroke="#000" stroke-width="2"/>
<line x1="51.1" y1="189.75" x2="53.6" y2="189.75" stroke="#000" stroke-width="2"/>
<line x1="48.6" y1="153.1" x2="53.6" y2="153.1" stroke="#000" stroke-width="2"/>
<line x1="51.1" y1="116.45" x2="53.6" y2="116.45" stroke="#000" stroke-width="2"/>
<line x1="48.6" y1="79.8" x2="53.6" y2="79.8" stroke="#000" stroke-width="2"/>
<line x1="51.1" y1="43.15" x2="53.6" y2="43.15" stroke="#000" stroke-width="2"/>
<line x1="48.6" y1="6.5" x2="53.6" y2="6.5" stroke="#000" stroke-width="2"/>
<line x1="53.6" y1="282.2" x2="53.6" y2="287.2" stroke="#000" stroke-width="2"/>
<line x1="90.48" y1="282.2" x2="90.48" y2="284.7" stroke="#000" stroke-width="2"/>
<line x1="127.37" y1="282.2" x2="127.37" y2="287.2" stroke="#000" stroke-width="2"/>
<line x1="164.25" y1="282.2" x2="164.25" y2="284.7" stroke="#000" stroke-width="2"/>
<line x1="201.14" y1="282.2" x2="201.14" y2="287.2" stroke="#000" stroke-width="2"/>
<line x1="238.02" y1="282.2" x2="238.02" y2="284.7" stroke="#000" stroke-width="2"/>
<line x1="274.91" y1="282.2" x2="274.91" y2="287.2" stroke="#000" stroke-width="2"/>
<line x1="311.8" y1="282.2" x2="311.8" y2="284.7" stroke="#000" stroke-width="2"/>
<line x1="348.68" y1="282.2" x2="348.68" y2="287.2" stroke="#000" stroke-width="2"/>
<line x1="385.56" y1="282.2" x2="385.56" y2="284.7" stroke="#000" stroke-width="2"/>
<text x="35.98" y="231.3" style="font-size:14px;font-weight:bold;">0</text>
<text x="28.19" y="158" style="font-size:14px;font-weight:bold;">10</text>
<text x="28.19" y="84.7" style="font-size:14px;font-weight:bold;">20</text>
<text x="28.19" y="11.4" style="font-size:14px;font-weight:bold;">30</text>
<text x="49.72" y="302.8" style="font-size:14px;font-weight:bold;">0</text>
<text x="119.43" y="302.8" style="font-size:14px;font-weight:bold;">10</text>
<text x="193.4" y="302.8" style="font-size:14px;font-weight:bold;">20</text>
<text x="267.25" y="302.8" style="font-size:14px;font-weight:bold;">30</text>
<text x="341.07" y="302.8" style="font-size:14px;font-weight:bold;">40</text>
<text transform="translate(58.28,30.7) scale(0.99,1)" style="font-size:15px;font-weight:bold;">15 wt.% HCl: 60</text>
<circle cx="173.1" cy="17.5" r="1.75" fill="none" stroke="#000" stroke-width="0.9"/>
<text transform="translate(175.9,30.7) scale(0.98,1)" style="font-size:15px;font-weight:bold;">C</text>
<g transform="translate(0,0)"><text transform="translate(174.02,328.6) scale(1.01,1)" style="font-size:16.5px;font-weight:bold;">Z</text><text transform="translate(184.09,333) scale(1.01,1)" style="font-size:15.5px;font-weight:bold;">re</text><text x="204.06" y="328.4" style="font-size:15px;font-weight:bold;">(</text><text transform="translate(207.06,328.4) scale(1.42,1)" style="font-size:14px;font-weight:normal;">Ω</text><text transform="translate(227.37,328.4) scale(1.07,1)" style="font-size:15px;font-weight:bold;">cm</text><text transform="translate(251.88,320.6) scale(0.99,1)" style="font-size:12.5px;font-weight:bold;">2</text><text x="259.79" y="328.4" style="font-size:15px;font-weight:bold;">)</text></g>
<g transform="translate(17.9,202.5) rotate(-90)"><text transform="translate(-0.26,0) scale(0.9,1)" style="font-size:15px;font-weight:bold;">−</text><text transform="translate(8.5,0.2) scale(1.05,1)" style="font-size:16.5px;font-weight:bold;">Z</text><text transform="translate(19.99,2.7) scale(1.08,1)" style="font-size:15px;font-weight:bold;">img</text><text x="54.27" y="0" style="font-size:15px;font-weight:bold;">(</text><text transform="translate(60.11,0) scale(1.51,1)" style="font-size:14px;font-weight:normal;">Ω</text><text transform="translate(79.29,0) scale(1.04,1)" style="font-size:15px;font-weight:bold;">cm</text><text transform="translate(101.91,-9.5) scale(1.26,1)" style="font-size:11.5px;font-weight:bold;">2</text><text x="111.58" y="0" style="font-size:15px;font-weight:bold;">)</text></g>
<rect x="245.4" y="10.4" width="136.6" height="82" fill="#fff" stroke="#333" stroke-width="1"/>
<line x1="247" y1="19.5" x2="275.7" y2="19.5" stroke="#000000" stroke-width="1"/>
<g fill="#000000"><rect x="258.2" y="16.7" width="5.6" height="5.6"/></g>
<text x="278.88" y="23.8" style="font-size:12.4px;font-weight:normal;">Blank</text>
<line x1="247" y1="35.6" x2="275.7" y2="35.6" stroke="#0000ff" stroke-width="1"/>
<g fill="#0000ff"><circle cx="261" cy="35.6" r="3.25"/></g>
<text x="279.88" y="39.9" style="font-size:12.4px;font-weight:normal;">Aspartame</text>
<line x1="247" y1="51.7" x2="275.7" y2="51.7" stroke="#ff0000" stroke-width="1"/>
<g fill="#ff0000"><path d="M261 47.3L264.8 53.9L257.2 53.9Z"/></g>
<text x="279.88" y="56" style="font-size:12.4px;font-weight:normal;">Aspartame + SDS</text>
<line x1="247" y1="67.8" x2="275.7" y2="67.8" stroke="#008000" stroke-width="1"/>
<g fill="#008000"><path d="M257.2 65.47L264.8 65.47L261 72.47Z"/></g>
<text x="279.88" y="72.1" style="font-size:12.4px;font-weight:normal;">Aspartame + KI</text>
<line x1="247" y1="83.6" x2="275.7" y2="83.6" stroke="#800080" stroke-width="1"/>
<g fill="#800080"><path d="M261 79.4L264.9 83.6L261 87.8L257.1 83.6Z"/></g>
<text x="278.88" y="87.9" style="font-size:12.4px;font-weight:normal;">Formulation</text>
<g fill="#000000"><path d="M461.5 243 L461.68 242.73 L461.93 242.34 L462.21 241.9 L462.48 241.49 L462.74 241.12 L463 240.75 L463.26 240.39 L463.54 240.04 L463.83 239.7 L464.14 239.37 L464.46 239.05 L464.78 238.74 L465.12 238.44 L465.46 238.15 L465.81 237.86 L466.15 237.57 L466.5 237.28 L466.85 237 L467.19 236.71 L467.54 236.42 L467.87 236.12 L468.2 235.81 L468.52 235.5 L468.85 235.18 L469.16 234.87 L469.48 234.55 L469.79 234.22 L470.11 233.9 L470.42 233.58 L470.74 233.26 L471.06 232.94 L471.38 232.62 L471.7 232.31 L472.03 232 L472.36 231.69 L472.68 231.39 L473.02 231.08 L473.35 230.78 L473.68 230.47 L474.01 230.17 L474.33 229.85 L474.65 229.54 L474.97 229.22 L475.28 228.9 L475.59 228.57 L475.89 228.23 L476.19 227.9 L476.49 227.56 L476.8 227.23 L477.1 226.9 L477.41 226.58 L477.73 226.26 L478.06 225.95 L478.39 225.65 L478.73 225.36 L479.08 225.07 L479.43 224.78 L479.78 224.5 L480.14 224.23 L480.49 223.95 L480.85 223.68 L481.21 223.4 L481.56 223.13 L481.92 222.85 L482.27 222.57 L482.62 222.29 L482.97 222.01 L483.32 221.73 L483.68 221.45 L484.04 221.18 L484.4 220.92 L484.77 220.66 L485.14 220.4 L485.52 220.15 L485.9 219.91 L486.28 219.68 L486.67 219.45 L487.06 219.23 L487.46 219.02 L487.86 218.83 L488.28 218.65 L488.7 218.5 L489.13 218.36 L489.56 218.23 L490 218.13 L490.44 218.04 L490.88 217.97 L491.33 217.9 L491.77 217.83 L492.22 217.77 L492.67 217.72 L493.11 217.67 L493.56 217.63 L494.01 217.6 L494.46 217.57 L494.91 217.55 L495.36 217.53 L495.81 217.51 L496.26 217.5 L496.71 217.49 L497.16 217.49 L497.61 217.49 L498.06 217.5 L498.51 217.51 L498.96 217.53 L499.41 217.56 L499.86 217.59 L500.3 217.62 L500.75 217.67 L501.2 217.71 L501.65 217.76 L502.1 217.81 L502.54 217.87 L502.99 217.93 L503.43 217.99 L503.88 218.05 L504.32 218.12 L504.77 218.19 L505.21 218.26 L505.66 218.34 L506.1 218.42 L506.54 218.5 L506.98 218.59 L507.42 218.68 L507.86 218.77 L508.3 218.87 L508.74 218.96 L509.18 219.06 L509.62 219.17 L510.06 219.27 L510.49 219.38 L510.93 219.49 L511.37 219.6 L511.8 219.72 L512.24 219.84 L512.67 219.96 L513.1 220.08 L513.53 220.21 L513.97 220.33 L514.4 220.47 L514.82 220.6 L515.25 220.74 L515.68 220.89 L516.1 221.04 L516.53 221.19 L516.95 221.35 L517.37 221.51 L517.79 221.67 L518.21 221.84 L518.62 222 L519.04 222.18 L519.45 222.36 L519.86 222.54 L520.27 222.73 L520.68 222.92 L521.08 223.11 L521.49 223.31 L521.89 223.52 L522.29 223.73 L522.68 223.94 L523.08 224.16 L523.47 224.38 L523.86 224.61 L524.24 224.84 L524.63 225.07 L525.01 225.31 L525.39 225.55 L525.77 225.79 L526.14 226.04 L526.51 226.3 L526.88 226.56 L527.25 226.82 L527.61 227.08 L527.97 227.35 L528.33 227.62 L528.69 227.9 L529.04 228.18 L529.39 228.47 L529.73 228.76 L530.06 229.06 L530.39 229.36 L530.72 229.68 L531.04 230 L531.34 230.32 L531.64 230.66 L531.93 231 L532.21 231.35 L532.48 231.72 L532.74 232.09 L532.98 232.47 L533.2 232.86 L533.42 233.25 L533.62 233.65 L533.82 234.06 L533.99 234.47 L534.15 234.89 L534.29 235.32 L534.42 235.75 L534.53 236.19 L534.61 236.63 L534.67 237.07 L534.71 237.52 L534.73 237.97 L534.74 238.42 L534.73 238.87 L534.7 239.32 L534.67 239.77 L534.63 240.22 L534.59 240.67 L534.54 241.12 L534.49 241.56 L534.42 242.01 L534.34 242.45 L534.25 242.89 L534.15 243.33 L534.02 243.76 L533.86 244.18 L533.69 244.6 L533.49 245 L533.27 245.39 L533.02 245.77 L532.75 246.13 L532.45 246.47 L532.13 246.78 L531.79 247.06 L531.42 247.32 L531.03 247.55 L530.63 247.77 L530.23 247.96 L529.82 248.14 L529.39 248.3 L528.97 248.45 L528.54 248.59 L528.11 248.71 L527.67 248.82 L527.23 248.91 L526.79 248.99 L526.34 249.04 L525.89 249.09 L525.45 249.11 L525 249.13 L524.55 249.12 L524.1 249.11 L523.65 249.09 L523.2 249.07 L522.75 249.04 L522.3 249 L521.85 248.96 L521.4 248.93 L520.95 248.88 L520.51 248.83 L520.06 248.78 L519.61 248.71 L519.17 248.64 L518.73 248.57 L518.29 248.48 L517.85 248.39 L517.41 248.28 L516.97 248.17 L516.53 248.06 L516.1 247.96 L515.66 247.85 L515.22 247.74 L514.79 247.63 L514.35 247.52 L513.91 247.42 L513.48 247.31 L513.04 247.19 L512.61 247.06 L512.18 246.92 L511.76 246.77 L511.34 246.62 L510.92 246.46 L510.5 246.28 L510.09 246.1 L509.68 245.92 L509.26 245.75 L508.85 245.57 L508.44 245.39 L508.02 245.21 L507.61 245.03 L507.2 244.85 L506.79 244.67 L506.37 244.49 L505.96 244.3 L505.55 244.12 L505.15 243.93 L504.74 243.74 L504.33 243.54 L503.93 243.35 L503.52 243.15 L503.12 242.95 L502.72 242.75 L502.31 242.55 L501.91 242.36 L501.5 242.16 L501.1 241.96 L500.7 241.76 L500.3 241.55 L499.89 241.35 L499.49 241.15 L499.09 240.95 L498.69 240.75 L498.29 240.54 L497.85 240.31 L497.39 240.07 L496.98 239.86 L496.69 239.71" fill="none" stroke="#000000" stroke-width="1.3"/>
<rect x="458.7" y="240.2" width="5.6" height="5.6"/>
<rect x="459.68" y="238.69" width="5.6" height="5.6"/>
<rect x="460.74" y="237.24" width="5.6" height="5.6"/>
<rect x="461.98" y="235.94" width="5.6" height="5.6"/>
<rect x="463.35" y="234.77" width="5.6" height="5.6"/>
<rect x="464.74" y="233.62" width="5.6" height="5.6"/>
<rect x="466.05" y="232.38" width="5.6" height="5.6"/>
<rect x="467.31" y="231.1" width="5.6" height="5.6"/>
<rect x="468.58" y="229.82" width="5.6" height="5.6"/>
<rect x="469.88" y="228.59" width="5.6" height="5.6"/>
<rect x="471.21" y="227.37" width="5.6" height="5.6"/>
<rect x="472.48" y="226.1" width="5.6" height="5.6"/>
<rect x="473.69" y="224.76" width="5.6" height="5.6"/>
<rect x="474.93" y="223.46" width="5.6" height="5.6"/>
<rect x="476.28" y="222.27" width="5.6" height="5.6"/>
<rect x="477.69" y="221.15" width="5.6" height="5.6"/>
<rect x="479.12" y="220.05" width="5.6" height="5.6"/>
<rect x="480.52" y="218.93" width="5.6" height="5.6"/>
<rect x="481.97" y="217.86" width="5.6" height="5.6"/>
<rect x="483.48" y="216.88" width="5.6" height="5.6"/>
<rect x="485.06" y="216.03" width="5.6" height="5.6"/>
<rect x="486.76" y="215.43" width="5.6" height="5.6"/>
<rect x="488.53" y="215.1" width="5.6" height="5.6"/>
<rect x="490.31" y="214.87" width="5.6" height="5.6"/>
<rect x="492.11" y="214.75" width="5.6" height="5.6"/>
<rect x="493.91" y="214.69" width="5.6" height="5.6"/>
<rect x="495.71" y="214.71" width="5.6" height="5.6"/>
<rect x="497.5" y="214.82" width="5.6" height="5.6"/>
<rect x="499.3" y="215.01" width="5.6" height="5.6"/>
<rect x="501.08" y="215.25" width="5.6" height="5.6"/>
<rect x="502.86" y="215.54" width="5.6" height="5.6"/>
<rect x="504.62" y="215.88" width="5.6" height="5.6"/>
<rect x="506.38" y="216.26" width="5.6" height="5.6"/>
<rect x="508.13" y="216.69" width="5.6" height="5.6"/>
<rect x="509.87" y="217.16" width="5.6" height="5.6"/>
<rect x="511.6" y="217.67" width="5.6" height="5.6"/>
<rect x="513.3" y="218.24" width="5.6" height="5.6"/>
<rect x="514.99" y="218.87" width="5.6" height="5.6"/>
<rect x="516.65" y="219.56" width="5.6" height="5.6"/>
<rect x="518.28" y="220.31" width="5.6" height="5.6"/>
<rect x="519.88" y="221.14" width="5.6" height="5.6"/>
<rect x="521.44" y="222.04" width="5.6" height="5.6"/>
<rect x="522.97" y="222.99" width="5.6" height="5.6"/>
<rect x="524.45" y="224.02" width="5.6" height="5.6"/>
<rect x="525.89" y="225.1" width="5.6" height="5.6"/>
<rect x="527.26" y="226.26" width="5.6" height="5.6"/>
<rect x="528.54" y="227.52" width="5.6" height="5.6"/>
<rect x="529.68" y="228.92" width="5.6" height="5.6"/>
<rect x="530.62" y="230.45" width="5.6" height="5.6"/>
<rect x="531.35" y="232.09" width="5.6" height="5.6"/>
<rect x="531.81" y="233.83" width="5.6" height="5.6"/>
<rect x="531.94" y="235.62" width="5.6" height="5.6"/>
<rect x="531.83" y="237.42" width="5.6" height="5.6"/>
<rect x="531.62" y="239.21" width="5.6" height="5.6"/>
<rect x="531.22" y="240.96" width="5.6" height="5.6"/>
<rect x="530.47" y="242.59" width="5.6" height="5.6"/>
<rect x="529.33" y="243.98" width="5.6" height="5.6"/>
<rect x="527.83" y="244.97" width="5.6" height="5.6"/>
<rect x="526.17" y="245.65" width="5.6" height="5.6"/>
<rect x="524.43" y="246.11" width="5.6" height="5.6"/>
<rect x="522.65" y="246.31" width="5.6" height="5.6"/>
<rect x="520.85" y="246.29" width="5.6" height="5.6"/>
<rect x="519.05" y="246.16" width="5.6" height="5.6"/>
<rect x="517.26" y="245.98" width="5.6" height="5.6"/>
<rect x="515.49" y="245.68" width="5.6" height="5.6"/>
<rect x="513.73" y="245.26" width="5.6" height="5.6"/>
<rect x="511.99" y="244.83" width="5.6" height="5.6"/>
<rect x="510.24" y="244.39" width="5.6" height="5.6"/>
<rect x="508.54" y="243.82" width="5.6" height="5.6"/>
<rect x="506.88" y="243.12" width="5.6" height="5.6"/>
<rect x="505.22" y="242.41" width="5.6" height="5.6"/>
<rect x="503.57" y="241.69" width="5.6" height="5.6"/>
<rect x="501.94" y="240.94" width="5.6" height="5.6"/>
<rect x="500.32" y="240.15" width="5.6" height="5.6"/>
<rect x="498.7" y="239.36" width="5.6" height="5.6"/>
<rect x="497.09" y="238.55" width="5.6" height="5.6"/>
<rect x="495.49" y="237.74" width="5.6" height="5.6"/>
<rect x="493.89" y="236.91" width="5.6" height="5.6"/>
</g>
<g fill="#0000ff"><path d="M459.5 243 L459.67 242.64 L459.92 242.13 L460.2 241.56 L460.46 241.02 L460.7 240.53 L460.94 240.03 L461.18 239.54 L461.42 239.04 L461.67 238.55 L461.92 238.06 L462.17 237.57 L462.42 237.08 L462.68 236.6 L462.94 236.11 L463.21 235.63 L463.48 235.15 L463.75 234.67 L464.02 234.2 L464.3 233.72 L464.58 233.25 L464.87 232.78 L465.16 232.31 L465.45 231.85 L465.74 231.38 L466.04 230.92 L466.35 230.46 L466.65 230.01 L466.96 229.55 L467.28 229.1 L467.6 228.65 L467.92 228.21 L468.24 227.76 L468.57 227.32 L468.9 226.88 L469.23 226.44 L469.57 226.01 L469.91 225.57 L470.25 225.14 L470.59 224.71 L470.94 224.28 L471.29 223.86 L471.64 223.43 L471.99 223.01 L472.35 222.59 L472.7 222.18 L473.07 221.76 L473.43 221.35 L473.8 220.94 L474.17 220.53 L474.54 220.13 L474.91 219.72 L475.29 219.32 L475.66 218.92 L476.04 218.52 L476.42 218.12 L476.8 217.73 L477.18 217.33 L477.56 216.93 L477.94 216.53 L478.32 216.14 L478.7 215.74 L479.08 215.34 L479.45 214.93 L479.83 214.54 L480.21 214.14 L480.59 213.74 L480.97 213.34 L481.35 212.95 L481.74 212.55 L482.12 212.16 L482.51 211.77 L482.91 211.39 L483.31 211.02 L483.72 210.64 L484.13 210.28 L484.56 209.93 L485 209.61 L485.46 209.3 L485.93 209.02 L486.41 208.76 L486.91 208.54 L487.43 208.34 L487.95 208.16 L488.47 207.98 L488.98 207.78 L489.49 207.58 L490 207.38 L490.52 207.19 L490.88 207.05 L491.14 206.95 L491.6 206.78 L492.59 206.45 L494.26 205.87 L496.42 205.13 L498.84 204.34 L501.3 203.6 L503.83 202.94 L506.51 202.3 L509.22 201.69 L511.8 201.1 L514.2 200.55 L516.49 200.02 L518.77 199.52 L521.1 199 L523.5 198.44 L525.93 197.86 L528.39 197.32 L530.9 196.9 L533.46 196.62 L536.07 196.44 L538.72 196.34 L541.4 196.3 L544.14 196.31 L546.93 196.38 L549.71 196.51 L552.4 196.7 L554.99 196.93 L557.51 197.22 L559.98 197.57 L562.4 198 L564.75 198.53 L567.04 199.14 L569.3 199.8 L571.6 200.5 L573.97 201.24 L576.39 202.02 L578.76 202.82 L581 203.6 L583.07 204.31 L585.02 204.97 L586.91 205.68 L588.8 206.5 L590.78 207.51 L592.79 208.64 L594.68 209.78 L596.3 210.8 L597.55 211.64 L598.53 212.37 L599.39 213.07 L600.28 213.82 L601.23 214.64 L602.16 215.47 L603.07 216.32 L603.95 217.21 L604.85 218.22 L605.75 219.31 L606.55 220.31 L607.15 221.05 L607.43 221.38 L607.47 221.41 L607.47 221.4 L607.6 221.6 L607.93 222.09 L608.35 222.73 L608.81 223.43 L609.25 224.11 L609.65 224.74 L610.05 225.37 L610.44 226.01 L610.81 226.67 L611.16 227.33 L611.49 228 L611.8 228.69 L612.09 229.38 L612.36 230.08 L612.61 230.79 L612.83 231.5 L613.03 232.23 L613.19 232.96 L613.33 233.7 L613.43 234.44 L613.5 235.18 L613.52 235.93 L613.51 236.68 L613.47 237.43 L613.41 238.18 L613.33 238.93 L613.23 239.67 L613.11 240.41 L612.96 241.14 L612.77 241.87 L612.56 242.59 L612.32 243.3 L612.03 243.99 L611.69 244.65 L611.3 245.29 L610.87 245.91 L610.42 246.51 L609.93 247.08 L609.41 247.62 L608.87 248.14 L608.34 248.67 L607.81 249.2 L607.27 249.73 L606.73 250.25 L606.17 250.75 L605.6 251.23 L605.01 251.7 L604.41 252.15 L603.78 252.55 L603.12 252.9 L602.44 253.21 L601.74 253.49 L601.04 253.74 L600.33 253.98 L599.6 254.19 L598.88 254.38 L598.15 254.56 L597.42 254.74 L596.69 254.91 L595.96 255.06 L595.22 255.2 L594.48 255.32 L593.74 255.42 L592.99 255.51 L592.25 255.58 L591.5 255.63 L590.75 255.65 L590 255.66 L589.25 255.64 L588.5 255.61 L587.75 255.54 L587.01 255.46 L586.26 255.37 L585.52 255.25 L584.78 255.12 L584.05 254.97 L583.32 254.79 L582.59 254.59 L581.87 254.38 L581.17 254.12 L580.49 253.82 L579.83 253.47 L579.2 253.06 L578.59 252.62 L577.99 252.17 L577.4 251.71 L576.83 251.22 L576.27 250.72 L575.72 250.21 L575.18 249.69 L574.65 249.17 L574.12 248.63 L573.59 248.1 L573.05 247.56 L572.5 247.01 L571.97 246.47 L571.47 245.97 L570.99 245.48 L570.5 245 L570.09 244.59 L569.8 244.3" fill="none" stroke="#0000ff" stroke-width="1.3"/>
<circle cx="459.5" cy="243" r="3.4"/>
<circle cx="460.46" cy="241.02" r="3.4"/>
<circle cx="461.42" cy="239.04" r="3.4"/>
<circle cx="462.42" cy="237.08" r="3.4"/>
<circle cx="463.48" cy="235.15" r="3.4"/>
<circle cx="464.58" cy="233.25" r="3.4"/>
<circle cx="465.74" cy="231.38" r="3.4"/>
<circle cx="466.96" cy="229.55" r="3.4"/>
<circle cx="468.24" cy="227.76" r="3.4"/>
<circle cx="469.57" cy="226.01" r="3.4"/>
<circle cx="470.94" cy="224.28" r="3.4"/>
<circle cx="472.35" cy="222.59" r="3.4"/>
<circle cx="473.8" cy="220.94" r="3.4"/>
<circle cx="475.29" cy="219.32" r="3.4"/>
<circle cx="476.8" cy="217.73" r="3.4"/>
<circle cx="478.32" cy="216.14" r="3.4"/>
<circle cx="479.83" cy="214.54" r="3.4"/>
<circle cx="481.35" cy="212.95" r="3.4"/>
<circle cx="482.91" cy="211.39" r="3.4"/>
<circle cx="484.56" cy="209.93" r="3.4"/>
<circle cx="486.41" cy="208.76" r="3.4"/>
<circle cx="488.47" cy="207.98" r="3.4"/>
<circle cx="490.52" cy="207.19" r="3.4"/>
<circle cx="492.59" cy="206.45" r="3.4"/>
<circle cx="501.3" cy="203.6" r="3.4"/>
<circle cx="511.8" cy="201.1" r="3.4"/>
<circle cx="521.1" cy="199" r="3.4"/>
<circle cx="530.9" cy="196.9" r="3.4"/>
<circle cx="541.4" cy="196.3" r="3.4"/>
<circle cx="552.4" cy="196.7" r="3.4"/>
<circle cx="562.4" cy="198" r="3.4"/>
<circle cx="571.6" cy="200.5" r="3.4"/>
<circle cx="581" cy="203.6" r="3.4"/>
<circle cx="588.8" cy="206.5" r="3.4"/>
<circle cx="596.3" cy="210.8" r="3.4"/>
<circle cx="600.28" cy="213.82" r="3.4"/>
<circle cx="603.95" cy="217.21" r="3.4"/>
<circle cx="607.15" cy="221.05" r="3.4"/>
<circle cx="607.6" cy="221.6" r="3.4"/>
<circle cx="609.25" cy="224.11" r="3.4"/>
<circle cx="610.81" cy="226.67" r="3.4"/>
<circle cx="612.09" cy="229.38" r="3.4"/>
<circle cx="613.03" cy="232.23" r="3.4"/>
<circle cx="613.5" cy="235.18" r="3.4"/>
<circle cx="613.41" cy="238.18" r="3.4"/>
<circle cx="612.96" cy="241.14" r="3.4"/>
<circle cx="612.03" cy="243.99" r="3.4"/>
<circle cx="610.42" cy="246.51" r="3.4"/>
<circle cx="608.34" cy="248.67" r="3.4"/>
<circle cx="606.17" cy="250.75" r="3.4"/>
<circle cx="603.78" cy="252.55" r="3.4"/>
<circle cx="601.04" cy="253.74" r="3.4"/>
<circle cx="598.15" cy="254.56" r="3.4"/>
<circle cx="595.22" cy="255.2" r="3.4"/>
<circle cx="592.25" cy="255.58" r="3.4"/>
<circle cx="589.25" cy="255.64" r="3.4"/>
<circle cx="586.26" cy="255.37" r="3.4"/>
<circle cx="583.32" cy="254.79" r="3.4"/>
<circle cx="580.49" cy="253.82" r="3.4"/>
<circle cx="577.99" cy="252.17" r="3.4"/>
<circle cx="575.72" cy="250.21" r="3.4"/>
<circle cx="573.59" cy="248.1" r="3.4"/>
<circle cx="571.47" cy="245.97" r="3.4"/>
<circle cx="569.8" cy="244.3" r="3.4"/>
</g>
<g fill="#ff0000"><path d="M459.5 244 L459.72 243.67 L460.02 243.19 L460.37 242.66 L460.7 242.16 L461 241.7 L461.3 241.24 L461.61 240.78 L461.92 240.33 L462.24 239.88 L462.56 239.43 L462.88 238.98 L463.21 238.54 L463.54 238.1 L463.87 237.66 L464.21 237.23 L464.54 236.79 L464.89 236.36 L465.23 235.94 L465.58 235.51 L465.93 235.09 L466.28 234.67 L466.64 234.25 L467 233.83 L467.37 233.42 L467.73 233.01 L468.1 232.6 L468.47 232.2 L468.84 231.79 L469.21 231.38 L469.58 230.97 L469.94 230.56 L470.31 230.15 L470.67 229.74 L471.03 229.32 L471.39 228.9 L471.75 228.49 L472.11 228.07 L472.48 227.66 L472.84 227.25 L473.21 226.84 L473.59 226.44 L473.97 226.04 L474.35 225.65 L474.75 225.27 L475.15 224.9 L475.57 224.53 L475.98 224.17 L476.39 223.8 L476.79 223.43 L477.19 223.05 L477.58 222.66 L477.96 222.26 L478.32 221.85 L478.67 221.43 L479.02 221 L479.35 220.56 L479.68 220.12 L480 219.67 L480.32 219.23 L480.64 218.78 L480.96 218.33 L481.28 217.88 L481.6 217.44 L481.93 216.99 L482.26 216.55 L482.59 216.12 L482.93 215.69 L483.27 215.25 L483.61 214.82 L483.95 214.39 L484.3 213.96 L484.64 213.53 L484.99 213.1 L485.34 212.68 L485.69 212.25 L486.04 211.83 L486.39 211.41 L486.75 210.99 L487.11 210.58 L487.48 210.17 L487.85 209.75 L488.24 209.32 L488.61 208.91 L488.95 208.54 L489.1 208.27 L489.13 208.06 L489.32 207.81 L490 207.4 L491.32 206.78 L493.09 206.02 L495.09 205.17 L497.1 204.3 L499.13 203.4 L501.29 202.46 L503.45 201.48 L505.5 200.5 L507.35 199.51 L509.09 198.49 L510.85 197.48 L512.8 196.5 L514.98 195.53 L517.31 194.57 L519.73 193.65 L522.2 192.8 L524.69 192.07 L527.23 191.42 L529.86 190.79 L532.6 190.1 L535.5 189.31 L538.53 188.46 L541.62 187.63 L544.7 186.9 L547.75 186.26 L550.81 185.69 L553.89 185.19 L557 184.8 L560.14 184.53 L563.31 184.36 L566.49 184.26 L569.7 184.2 L572.94 184.17 L576.2 184.18 L579.46 184.25 L582.7 184.4 L585.92 184.6 L589.13 184.86 L592.3 185.22 L595.4 185.7 L598.39 186.35 L601.31 187.14 L604.19 188.01 L607.1 188.9 L610.09 189.81 L613.11 190.76 L616.07 191.74 L618.9 192.7 L621.57 193.63 L624.12 194.56 L626.56 195.5 L628.9 196.5 L631.11 197.57 L633.21 198.69 L635.22 199.84 L637.2 201 L639.18 202.15 L641.12 203.31 L642.98 204.49 L644.7 205.7 L646.3 207 L647.78 208.36 L649.13 209.66 L650.3 210.8 L651.23 211.69 L651.95 212.42 L652.58 213.09 L653.24 213.8 L653.96 214.56 L654.68 215.33 L655.38 216.11 L656.07 216.9 L656.77 217.75 L657.49 218.65 L658.15 219.49 L658.69 220.18 L659.07 220.64 L659.32 220.93 L659.53 221.21 L659.8 221.6 L660.14 222.17 L660.52 222.83 L660.9 223.53 L661.27 224.22 L661.62 224.88 L661.97 225.54 L662.31 226.21 L662.62 226.89 L662.92 227.58 L663.19 228.28 L663.45 228.98 L663.69 229.69 L663.92 230.41 L664.13 231.13 L664.32 231.86 L664.47 232.59 L664.6 233.33 L664.7 234.07 L664.77 234.82 L664.81 235.57 L664.82 236.31 L664.8 237.06 L664.75 237.81 L664.68 238.56 L664.57 239.3 L664.44 240.04 L664.28 240.77 L664.09 241.5 L663.88 242.22 L663.65 242.93 L663.38 243.64 L663.08 244.32 L662.74 244.99 L662.37 245.64 L661.97 246.27 L661.55 246.89 L661.11 247.5 L660.63 248.08 L660.14 248.65 L659.64 249.21 L659.13 249.75 L658.6 250.28 L658.06 250.8 L657.51 251.31 L656.92 251.82 L656.29 252.34 L655.7 252.82 L655.2 253.23 L654.92 253.5 L654.8 253.68 L654.57 253.88 L654 254.2 L652.94 254.73 L651.55 255.38 L650.01 256.05 L648.52 256.64 L647.1 257.12 L645.66 257.55 L644.21 257.93 L642.75 258.28 L641.29 258.6 L639.81 258.89 L638.33 259.13 L636.85 259.31 L635.35 259.45 L633.86 259.54 L632.36 259.58 L630.86 259.56 L629.37 259.46 L627.87 259.3 L626.38 259.09 L624.9 258.85 L623.43 258.58 L621.96 258.27 L620.5 257.93 L619.04 257.58 L617.59 257.2 L616.14 256.8 L614.7 256.38 L613.27 255.94 L611.84 255.48 L610.42 255 L609.01 254.5 L607.61 253.97 L606.21 253.41 L604.83 252.82 L603.46 252.23 L602.08 251.64 L600.7 251.05 L599.32 250.45 L597.94 249.87 L596.54 249.34 L595.12 248.87 L593.68 248.45 L592.23 248.05 L590.79 247.63 L589.31 247.19 L587.81 246.73 L586.37 246.28 L585.06 245.84 L583.85 245.4 L582.72 244.96 L581.77 244.57 L581.1 244.3" fill="none" stroke="#ff0000" stroke-width="1.3"/>
<path d="M459.5 239.47L463.7 246.27L455.3 246.27Z"/>
<path d="M460.7 237.62L464.9 244.42L456.5 244.42Z"/>
<path d="M461.92 235.79L466.12 242.59L457.72 242.59Z"/>
<path d="M463.21 234.01L467.41 240.81L459.01 240.81Z"/>
<path d="M464.54 232.26L468.74 239.06L460.34 239.06Z"/>
<path d="M465.93 230.55L470.13 237.35L461.73 237.35Z"/>
<path d="M467.37 228.89L471.57 235.69L463.17 235.69Z"/>
<path d="M468.84 227.25L473.04 234.05L464.64 234.05Z"/>
<path d="M470.31 225.62L474.51 232.42L466.11 232.42Z"/>
<path d="M471.75 223.96L475.95 230.76L467.55 230.76Z"/>
<path d="M473.21 222.31L477.41 229.11L469.01 229.11Z"/>
<path d="M474.75 220.73L478.95 227.53L470.55 227.53Z"/>
<path d="M476.39 219.27L480.59 226.07L472.19 226.07Z"/>
<path d="M477.96 217.73L482.16 224.53L473.76 224.53Z"/>
<path d="M479.35 216.03L483.55 222.83L475.15 222.83Z"/>
<path d="M480.64 214.25L484.84 221.05L476.44 221.05Z"/>
<path d="M481.93 212.46L486.13 219.26L477.73 219.26Z"/>
<path d="M483.27 210.72L487.47 217.52L479.07 217.52Z"/>
<path d="M484.64 209L488.84 215.8L480.44 215.8Z"/>
<path d="M486.04 207.3L490.24 214.1L481.84 214.1Z"/>
<path d="M487.48 205.63L491.68 212.43L483.28 212.43Z"/>
<path d="M488.95 204L493.15 210.8L484.75 210.8Z"/>
<path d="M490 202.87L494.2 209.67L485.8 209.67Z"/>
<path d="M497.1 199.77L501.3 206.57L492.9 206.57Z"/>
<path d="M505.5 195.97L509.7 202.77L501.3 202.77Z"/>
<path d="M512.8 191.97L517 198.77L508.6 198.77Z"/>
<path d="M522.2 188.27L526.4 195.07L518 195.07Z"/>
<path d="M532.6 185.57L536.8 192.37L528.4 192.37Z"/>
<path d="M544.7 182.37L548.9 189.17L540.5 189.17Z"/>
<path d="M557 180.27L561.2 187.07L552.8 187.07Z"/>
<path d="M569.7 179.67L573.9 186.47L565.5 186.47Z"/>
<path d="M582.7 179.87L586.9 186.67L578.5 186.67Z"/>
<path d="M595.4 181.17L599.6 187.97L591.2 187.97Z"/>
<path d="M607.1 184.37L611.3 191.17L602.9 191.17Z"/>
<path d="M618.9 188.17L623.1 194.97L614.7 194.97Z"/>
<path d="M628.9 191.97L633.1 198.77L624.7 198.77Z"/>
<path d="M637.2 196.47L641.4 203.27L633 203.27Z"/>
<path d="M644.7 201.17L648.9 207.97L640.5 207.97Z"/>
<path d="M650.3 206.27L654.5 213.07L646.1 213.07Z"/>
<path d="M653.24 209.26L657.44 216.06L649.04 216.06Z"/>
<path d="M656.07 212.37L660.27 219.17L651.87 219.17Z"/>
<path d="M658.69 215.65L662.89 222.45L654.49 222.45Z"/>
<path d="M659.8 217.07L664 223.87L655.6 223.87Z"/>
<path d="M661.27 219.68L665.47 226.48L657.07 226.48Z"/>
<path d="M662.62 222.36L666.82 229.16L658.42 229.16Z"/>
<path d="M663.69 225.16L667.89 231.96L659.49 231.96Z"/>
<path d="M664.47 228.05L668.67 234.85L660.27 234.85Z"/>
<path d="M664.81 231.03L669.01 237.83L660.61 237.83Z"/>
<path d="M664.68 234.03L668.88 240.83L660.48 240.83Z"/>
<path d="M664.09 236.97L668.29 243.77L659.89 243.77Z"/>
<path d="M663.08 239.79L667.28 246.59L658.88 246.59Z"/>
<path d="M661.55 242.36L665.75 249.16L657.35 249.16Z"/>
<path d="M659.64 244.67L663.84 251.47L655.44 251.47Z"/>
<path d="M657.51 246.78L661.71 253.58L653.31 253.58Z"/>
<path d="M655.2 248.69L659.4 255.49L651 255.49Z"/>
<path d="M654 249.67L658.2 256.47L649.8 256.47Z"/>
<path d="M648.52 252.11L652.72 258.91L644.32 258.91Z"/>
<path d="M642.75 253.75L646.95 260.55L638.55 260.55Z"/>
<path d="M636.85 254.78L641.05 261.58L632.65 261.58Z"/>
<path d="M630.86 255.02L635.06 261.82L626.66 261.82Z"/>
<path d="M624.9 254.32L629.1 261.12L620.7 261.12Z"/>
<path d="M619.04 253.04L623.24 259.84L614.84 259.84Z"/>
<path d="M613.27 251.41L617.47 258.21L609.07 258.21Z"/>
<path d="M607.61 249.44L611.81 256.24L603.41 256.24Z"/>
<path d="M602.08 247.1L606.28 253.9L597.88 253.9Z"/>
<path d="M596.54 244.8L600.74 251.6L592.34 251.6Z"/>
<path d="M590.79 243.1L594.99 249.9L586.59 249.9Z"/>
<path d="M585.06 241.31L589.26 248.11L580.86 248.11Z"/>
<path d="M581.1 239.77L585.3 246.57L576.9 246.57Z"/>
</g>
<g fill="#008000"><path d="M451.5 242 L451.72 241.63 L452.04 241.1 L452.39 240.5 L452.73 239.94 L453.03 239.42 L453.34 238.91 L453.65 238.39 L453.96 237.88 L454.27 237.37 L454.59 236.86 L454.91 236.35 L455.22 235.84 L455.54 235.33 L455.86 234.82 L456.18 234.31 L456.5 233.81 L456.82 233.3 L457.15 232.8 L457.48 232.29 L457.81 231.79 L458.14 231.29 L458.47 230.79 L458.81 230.3 L459.15 229.8 L459.49 229.31 L459.83 228.82 L460.18 228.33 L460.53 227.84 L460.88 227.35 L461.23 226.87 L461.59 226.38 L461.94 225.9 L462.3 225.42 L462.65 224.93 L463.01 224.45 L463.38 223.98 L463.75 223.51 L464.12 223.04 L464.51 222.57 L464.9 222.12 L465.3 221.67 L465.71 221.24 L466.13 220.81 L466.55 220.38 L466.98 219.96 L467.42 219.55 L467.85 219.14 L468.28 218.72 L468.7 218.29 L469.12 217.86 L469.54 217.43 L469.96 217 L470.37 216.56 L470.78 216.12 L471.19 215.68 L471.6 215.25 L472.01 214.82 L472.43 214.38 L472.85 213.95 L473.27 213.53 L473.7 213.11 L474.13 212.69 L474.56 212.27 L474.99 211.85 L475.43 211.44 L475.86 211.03 L476.3 210.62 L476.74 210.21 L477.18 209.8 L477.62 209.39 L478.06 208.98 L478.5 208.58 L478.94 208.17 L479.38 207.76 L479.82 207.36 L480.27 206.96 L480.72 206.57 L481.18 206.17 L481.64 205.79 L482.11 205.42 L482.59 205.05 L483.07 204.7 L483.56 204.35 L484.05 204 L484.33 203.72 L484.47 203.48 L484.9 203.17 L486.03 202.65 L488.22 201.89 L491.17 200.96 L494.31 199.9 L497.1 198.8 L499.34 197.63 L501.34 196.36 L503.32 195.06 L505.5 193.8 L507.93 192.58 L510.51 191.38 L513.18 190.18 L515.9 189 L518.67 187.81 L521.52 186.63 L524.43 185.48 L527.4 184.4 L530.44 183.39 L533.55 182.43 L536.71 181.53 L539.9 180.7 L543.1 179.94 L546.33 179.24 L549.62 178.6 L553 178 L556.49 177.43 L560.06 176.89 L563.71 176.44 L567.4 176.1 L571.18 175.92 L575.03 175.87 L578.9 175.89 L582.7 175.9 L586.42 175.85 L590.09 175.79 L593.74 175.81 L597.4 176 L601.1 176.42 L604.81 177.02 L608.49 177.7 L612.1 178.4 L615.65 179.09 L619.15 179.81 L622.58 180.58 L625.9 181.4 L629.13 182.28 L632.28 183.21 L635.31 184.18 L638.2 185.2 L640.88 186.26 L643.39 187.37 L645.83 188.52 L648.3 189.7 L650.85 190.91 L653.41 192.17 L655.92 193.44 L658.3 194.7 L660.51 195.94 L662.61 197.17 L664.62 198.41 L666.6 199.7 L668.56 201.04 L670.48 202.41 L672.33 203.81 L674.1 205.2 L675.83 206.65 L677.5 208.15 L679.05 209.58 L680.4 210.8 L681.47 211.74 L682.31 212.47 L683.06 213.14 L683.84 213.85 L684.68 214.64 L685.52 215.43 L686.34 216.24 L687.11 217.08 L687.88 218.04 L688.64 219.09 L689.32 220.05 L689.83 220.79 L690.11 221.15 L690.19 221.25 L690.24 221.32 L690.4 221.6 L690.71 222.16 L691.09 222.89 L691.5 223.67 L691.88 224.43 L692.24 225.15 L692.59 225.87 L692.93 226.6 L693.23 227.34 L693.5 228.09 L693.74 228.85 L693.96 229.62 L694.15 230.4 L694.32 231.18 L694.46 231.97 L694.57 232.76 L694.66 233.56 L694.72 234.35 L694.75 235.15 L694.75 235.95 L694.72 236.75 L694.66 237.55 L694.57 238.35 L694.45 239.14 L694.31 239.92 L694.13 240.7 L693.92 241.48 L693.68 242.24 L693.42 243 L693.14 243.75 L692.84 244.49 L692.51 245.22 L692.14 245.92 L691.73 246.61 L691.29 247.27 L690.81 247.92 L690.32 248.55 L689.77 249.19 L689.17 249.84 L688.6 250.43 L688.15 250.9 L687.94 251.16 L687.89 251.26 L687.78 251.38 L687.4 251.7 L686.64 252.31 L685.64 253.11 L684.52 253.96 L683.42 254.73 L682.37 255.4 L681.29 256.03 L680.19 256.63 L679.08 257.19 L677.95 257.72 L676.8 258.21 L675.63 258.66 L674.45 259.08 L673.26 259.45 L672.06 259.79 L670.85 260.1 L669.63 260.39 L668.41 260.66 L667.19 260.91 L665.96 261.14 L664.73 261.36 L663.49 261.57 L662.26 261.77 L661.02 261.95 L659.78 262.11 L658.54 262.25 L657.3 262.36 L656.05 262.45 L654.8 262.52 L653.55 262.57 L652.3 262.6 L651.05 262.61 L649.8 262.59 L648.55 262.56 L647.3 262.51 L646.05 262.43 L644.81 262.3 L643.58 262.13 L642.34 261.92 L641.12 261.67 L639.9 261.4 L638.68 261.11 L637.48 260.78 L636.27 260.44 L635.08 260.08 L633.89 259.7 L632.7 259.3 L631.52 258.89 L630.35 258.45 L629.18 258.01 L628.02 257.54 L626.87 257.06 L625.72 256.56 L624.58 256.05 L623.45 255.52 L622.33 254.97 L621.21 254.4 L620.11 253.82 L619.01 253.22 L617.92 252.6 L616.85 251.97 L615.69 251.24 L614.48 250.46 L613.4 249.74 L612.65 249.25" fill="none" stroke="#008000" stroke-width="1.3"/>
<path d="M447.4 239.6L455.6 239.6L451.5 246.8Z"/>
<path d="M448.63 237.54L456.83 237.54L452.73 244.74Z"/>
<path d="M449.86 235.48L458.06 235.48L453.96 242.68Z"/>
<path d="M451.12 233.44L459.32 233.44L455.22 240.64Z"/>
<path d="M452.4 231.41L460.6 231.41L456.5 238.61Z"/>
<path d="M453.71 229.39L461.91 229.39L457.81 236.59Z"/>
<path d="M455.05 227.4L463.25 227.4L459.15 234.6Z"/>
<path d="M456.43 225.44L464.63 225.44L460.53 232.64Z"/>
<path d="M457.84 223.5L466.04 223.5L461.94 230.7Z"/>
<path d="M459.28 221.58L467.48 221.58L463.38 228.78Z"/>
<path d="M460.8 219.72L469 219.72L464.9 226.92Z"/>
<path d="M462.45 217.98L470.65 217.98L466.55 225.18Z"/>
<path d="M464.18 216.32L472.38 216.32L468.28 223.52Z"/>
<path d="M465.86 214.6L474.06 214.6L469.96 221.8Z"/>
<path d="M467.5 212.85L475.7 212.85L471.6 220.05Z"/>
<path d="M469.17 211.13L477.37 211.13L473.27 218.33Z"/>
<path d="M470.89 209.45L479.09 209.45L474.99 216.65Z"/>
<path d="M472.64 207.81L480.84 207.81L476.74 215.01Z"/>
<path d="M474.4 206.18L482.6 206.18L478.5 213.38Z"/>
<path d="M476.17 204.56L484.37 204.56L480.27 211.76Z"/>
<path d="M478.01 203.02L486.21 203.02L482.11 210.22Z"/>
<path d="M479.95 201.6L488.15 201.6L484.05 208.8Z"/>
<path d="M481.93 200.25L490.13 200.25L486.03 207.45Z"/>
<path d="M493 196.4L501.2 196.4L497.1 203.6Z"/>
<path d="M501.4 191.4L509.6 191.4L505.5 198.6Z"/>
<path d="M511.8 186.6L520 186.6L515.9 193.8Z"/>
<path d="M523.3 182L531.5 182L527.4 189.2Z"/>
<path d="M535.8 178.3L544 178.3L539.9 185.5Z"/>
<path d="M548.9 175.6L557.1 175.6L553 182.8Z"/>
<path d="M563.3 173.7L571.5 173.7L567.4 180.9Z"/>
<path d="M578.6 173.5L586.8 173.5L582.7 180.7Z"/>
<path d="M593.3 173.6L601.5 173.6L597.4 180.8Z"/>
<path d="M608 176L616.2 176L612.1 183.2Z"/>
<path d="M621.8 179L630 179L625.9 186.2Z"/>
<path d="M634.1 182.8L642.3 182.8L638.2 190Z"/>
<path d="M644.2 187.3L652.4 187.3L648.3 194.5Z"/>
<path d="M654.2 192.3L662.4 192.3L658.3 199.5Z"/>
<path d="M662.5 197.3L670.7 197.3L666.6 204.5Z"/>
<path d="M670 202.8L678.2 202.8L674.1 210Z"/>
<path d="M676.3 208.4L684.5 208.4L680.4 215.6Z"/>
<path d="M679.74 211.45L687.94 211.45L683.84 218.65Z"/>
<path d="M683.01 214.68L691.21 214.68L687.11 221.88Z"/>
<path d="M685.73 218.39L693.93 218.39L689.83 225.59Z"/>
<path d="M686.3 219.2L694.5 219.2L690.4 226.4Z"/>
<path d="M687.78 222.03L695.98 222.03L691.88 229.23Z"/>
<path d="M689.13 224.94L697.33 224.94L693.23 232.14Z"/>
<path d="M690.05 228L698.25 228L694.15 235.2Z"/>
<path d="M690.56 231.16L698.76 231.16L694.66 238.36Z"/>
<path d="M690.62 234.35L698.82 234.35L694.72 241.55Z"/>
<path d="M690.21 237.52L698.41 237.52L694.31 244.72Z"/>
<path d="M689.32 240.6L697.52 240.6L693.42 247.8Z"/>
<path d="M688.04 243.52L696.24 243.52L692.14 250.72Z"/>
<path d="M686.22 246.15L694.42 246.15L690.32 253.35Z"/>
<path d="M684.05 248.5L692.25 248.5L688.15 255.7Z"/>
<path d="M683.3 249.3L691.5 249.3L687.4 256.5Z"/>
<path d="M679.32 252.33L687.52 252.33L683.42 259.53Z"/>
<path d="M674.98 254.79L683.18 254.79L679.08 261.99Z"/>
<path d="M670.35 256.68L678.55 256.68L674.45 263.88Z"/>
<path d="M665.53 257.99L673.73 257.99L669.63 265.19Z"/>
<path d="M660.63 258.96L668.83 258.96L664.73 266.16Z"/>
<path d="M655.68 259.71L663.88 259.71L659.78 266.91Z"/>
<path d="M650.7 260.12L658.9 260.12L654.8 267.32Z"/>
<path d="M645.7 260.19L653.9 260.19L649.8 267.39Z"/>
<path d="M640.71 259.9L648.91 259.9L644.81 267.1Z"/>
<path d="M635.8 259L644 259L639.9 266.2Z"/>
<path d="M630.98 257.68L639.18 257.68L635.08 264.88Z"/>
<path d="M626.25 256.05L634.45 256.05L630.35 263.25Z"/>
<path d="M621.62 254.16L629.82 254.16L625.72 261.36Z"/>
<path d="M617.11 252L625.31 252L621.21 259.2Z"/>
<path d="M612.75 249.57L620.95 249.57L616.85 256.77Z"/>
<path d="M608.55 246.85L616.75 246.85L612.65 254.05Z"/>
</g>
<g fill="#800080"><path d="M454.5 244.5 L454.7 244.16 L454.99 243.67 L455.32 243.13 L455.62 242.61 L455.91 242.14 L456.19 241.66 L456.47 241.19 L456.75 240.72 L457.04 240.25 L457.33 239.78 L457.62 239.31 L457.91 238.85 L458.2 238.38 L458.49 237.92 L458.79 237.45 L459.09 236.99 L459.38 236.53 L459.68 236.06 L459.98 235.6 L460.27 235.14 L460.57 234.67 L460.86 234.21 L461.16 233.75 L461.45 233.28 L461.74 232.81 L462.03 232.35 L462.32 231.88 L462.61 231.41 L462.9 230.94 L463.19 230.48 L463.49 230.01 L463.79 229.55 L464.1 229.1 L464.41 228.64 L464.72 228.19 L465.04 227.74 L465.37 227.3 L465.7 226.86 L466.04 226.43 L466.38 226 L466.72 225.57 L467.06 225.14 L467.41 224.71 L467.76 224.29 L468.11 223.86 L468.47 223.44 L468.82 223.02 L469.18 222.61 L469.55 222.19 L469.91 221.78 L470.28 221.37 L470.64 220.96 L471.01 220.55 L471.37 220.14 L471.74 219.73 L472.1 219.32 L472.46 218.9 L472.83 218.49 L473.19 218.07 L473.55 217.66 L473.92 217.25 L474.28 216.84 L474.65 216.43 L475.02 216.02 L475.39 215.62 L475.77 215.22 L476.15 214.82 L476.53 214.42 L476.92 214.03 L477.3 213.64 L477.69 213.25 L478.08 212.86 L478.47 212.47 L478.85 212.08 L479.23 211.68 L479.61 211.28 L479.99 210.88 L480.36 210.47 L480.72 210.06 L481.09 209.66 L481.46 209.25 L481.83 208.84 L482.19 208.43 L482.56 208.02 L482.93 207.61 L483.31 207.21 L483.68 206.81 L484.06 206.41 L484.44 206.01 L484.82 205.62 L485.21 205.22 L485.59 204.83 L485.98 204.44 L486.36 204.04 L486.75 203.65 L487.14 203.26 L487.53 202.87 L487.91 202.48 L488.3 202.09 L488.69 201.7 L489.1 201.29 L489.53 200.87 L489.92 200.47 L490.25 200.15 L490.28 200.06 L490.12 200.12 L490.19 200.04 L490.9 199.5 L492.55 198.31 L494.85 196.66 L497.37 194.86 L499.7 193.2 L501.66 191.77 L503.49 190.4 L505.4 189.03 L507.6 187.6 L510.19 186.05 L513.05 184.44 L516.03 182.83 L519 181.3 L521.86 179.89 L524.71 178.56 L527.67 177.25 L530.9 175.9 L534.49 174.46 L538.34 172.97 L542.3 171.52 L546.2 170.2 L549.96 169.05 L553.69 168.02 L557.47 167.05 L561.4 166.1 L565.49 165.14 L569.71 164.19 L574.04 163.3 L578.5 162.5 L583.17 161.79 L588.02 161.16 L592.89 160.59 L597.6 160.1 L602.07 159.62 L606.41 159.19 L610.72 158.88 L615.1 158.8 L619.57 159.02 L624.07 159.46 L628.61 160.03 L633.2 160.6 L637.91 161.17 L642.71 161.79 L647.46 162.44 L652 163.1 L656.28 163.7 L660.38 164.29 L664.37 164.95 L668.3 165.8 L672.17 166.92 L675.96 168.22 L679.7 169.6 L683.4 170.9 L687.11 172.07 L690.81 173.17 L694.42 174.32 L697.9 175.6 L701.21 177.07 L704.4 178.68 L707.49 180.32 L710.5 181.9 L713.48 183.36 L716.39 184.76 L719.18 186.18 L721.8 187.7 L724.21 189.37 L726.44 191.14 L728.55 192.94 L730.6 194.7 L732.59 196.43 L734.51 198.14 L736.34 199.84 L738.1 201.5 L739.79 203.09 L741.41 204.64 L742.94 206.19 L744.4 207.8 L745.77 209.54 L747.06 211.35 L748.27 213.14 L749.4 214.8 L750.45 216.28 L751.42 217.65 L752.3 218.97 L753.1 220.3 L753.8 221.63 L754.42 222.95 L754.95 224.27 L755.39 225.63 L755.75 227.02 L756.01 228.45 L756.21 229.89 L756.34 231.33 L756.43 232.77 L756.46 234.23 L756.42 235.68 L756.3 237.12 L756.07 238.54 L755.76 239.96 L755.4 241.37 L755.02 242.77 L754.63 244.18 L754.22 245.6 L753.78 246.98 L753.29 248.29 L752.73 249.53 L752.1 250.71 L751.48 251.81 L750.9 252.8 L750.4 253.65 L749.95 254.39 L749.5 255.07 L749.01 255.75 L748.48 256.44 L747.92 257.11 L747.34 257.77 L746.73 258.39 L746.09 258.98 L745.41 259.53 L744.72 260.07 L744.02 260.61 L743.33 261.14 L742.63 261.66 L741.92 262.18 L741.2 262.67 L740.47 263.16 L739.73 263.63 L738.98 264.09 L738.22 264.5 L737.42 264.86 L736.61 265.19 L735.79 265.49 L734.97 265.81 L734.16 266.13 L733.35 266.45 L732.53 266.78 L731.72 267.11 L730.91 267.44 L730.11 267.78 L729.3 268.12 L728.49 268.45 L727.68 268.78 L726.87 269.12 L726.06 269.44 L725.23 269.72 L724.39 269.98 L723.54 270.22 L722.69 270.4 L721.83 270.49 L720.97 270.48 L720.1 270.38 L719.23 270.21 L718.39 270 L717.56 269.72 L716.74 269.39 L715.95 269 L715.2 268.57 L714.46 268.09 L713.73 267.55 L713.07 266.97 L712.53 266.32 L712.1 265.59 L711.75 264.78 L711.55 263.95 L711.56 263.17 L711.83 262.41 L712.32 261.66 L712.94 260.97 L713.6 260.38 L714.37 259.9 L715.28 259.51 L716.12 259.21 L716.7 259" fill="none" stroke="#800080" stroke-width="1.3"/>
<path d="M454.5 239.9L458.9 244.5L454.5 249.1L450.1 244.5Z"/>
<path d="M455.62 238.01L460.02 242.61L455.62 247.21L451.22 242.61Z"/>
<path d="M456.75 236.12L461.15 240.72L456.75 245.32L452.35 240.72Z"/>
<path d="M457.91 234.25L462.31 238.85L457.91 243.45L453.51 238.85Z"/>
<path d="M459.09 232.39L463.49 236.99L459.09 241.59L454.69 236.99Z"/>
<path d="M460.27 230.54L464.67 235.14L460.27 239.74L455.87 235.14Z"/>
<path d="M461.45 228.68L465.85 233.28L461.45 237.88L457.05 233.28Z"/>
<path d="M462.61 226.81L467.01 231.41L462.61 236.01L458.21 231.41Z"/>
<path d="M463.79 224.95L468.19 229.55L463.79 234.15L459.39 229.55Z"/>
<path d="M465.04 223.14L469.44 227.74L465.04 232.34L460.64 227.74Z"/>
<path d="M466.38 221.4L470.78 226L466.38 230.6L461.98 226Z"/>
<path d="M467.76 219.69L472.16 224.29L467.76 228.89L463.36 224.29Z"/>
<path d="M469.18 218.01L473.58 222.61L469.18 227.21L464.78 222.61Z"/>
<path d="M470.64 216.36L475.04 220.96L470.64 225.56L466.24 220.96Z"/>
<path d="M472.1 214.72L476.5 219.32L472.1 223.92L467.7 219.32Z"/>
<path d="M473.55 213.06L477.95 217.66L473.55 222.26L469.15 217.66Z"/>
<path d="M475.02 211.42L479.42 216.02L475.02 220.62L470.62 216.02Z"/>
<path d="M476.53 209.82L480.93 214.42L476.53 219.02L472.13 214.42Z"/>
<path d="M478.08 208.26L482.48 212.86L478.08 217.46L473.68 212.86Z"/>
<path d="M479.61 206.68L484.01 211.28L479.61 215.88L475.21 211.28Z"/>
<path d="M481.09 205.06L485.49 209.66L481.09 214.26L476.69 209.66Z"/>
<path d="M482.56 203.42L486.96 208.02L482.56 212.62L478.16 208.02Z"/>
<path d="M484.06 201.81L488.46 206.41L484.06 211.01L479.66 206.41Z"/>
<path d="M485.59 200.23L489.99 204.83L485.59 209.43L481.19 204.83Z"/>
<path d="M487.14 198.66L491.54 203.26L487.14 207.86L482.74 203.26Z"/>
<path d="M488.69 197.1L493.09 201.7L488.69 206.3L484.29 201.7Z"/>
<path d="M490.25 195.55L494.65 200.15L490.25 204.75L485.85 200.15Z"/>
<path d="M490.9 194.9L495.3 199.5L490.9 204.1L486.5 199.5Z"/>
<path d="M499.7 188.6L504.1 193.2L499.7 197.8L495.3 193.2Z"/>
<path d="M507.6 183L512 187.6L507.6 192.2L503.2 187.6Z"/>
<path d="M519 176.7L523.4 181.3L519 185.9L514.6 181.3Z"/>
<path d="M530.9 171.3L535.3 175.9L530.9 180.5L526.5 175.9Z"/>
<path d="M546.2 165.6L550.6 170.2L546.2 174.8L541.8 170.2Z"/>
<path d="M561.4 161.5L565.8 166.1L561.4 170.7L557 166.1Z"/>
<path d="M578.5 157.9L582.9 162.5L578.5 167.1L574.1 162.5Z"/>
<path d="M597.6 155.5L602 160.1L597.6 164.7L593.2 160.1Z"/>
<path d="M615.1 154.2L619.5 158.8L615.1 163.4L610.7 158.8Z"/>
<path d="M633.2 156L637.6 160.6L633.2 165.2L628.8 160.6Z"/>
<path d="M652 158.5L656.4 163.1L652 167.7L647.6 163.1Z"/>
<path d="M668.3 161.2L672.7 165.8L668.3 170.4L663.9 165.8Z"/>
<path d="M683.4 166.3L687.8 170.9L683.4 175.5L679 170.9Z"/>
<path d="M697.9 171L702.3 175.6L697.9 180.2L693.5 175.6Z"/>
<path d="M710.5 177.3L714.9 181.9L710.5 186.5L706.1 181.9Z"/>
<path d="M721.8 183.1L726.2 187.7L721.8 192.3L717.4 187.7Z"/>
<path d="M730.6 190.1L735 194.7L730.6 199.3L726.2 194.7Z"/>
<path d="M738.1 196.9L742.5 201.5L738.1 206.1L733.7 201.5Z"/>
<path d="M744.4 203.2L748.8 207.8L744.4 212.4L740 207.8Z"/>
<path d="M749.4 210.2L753.8 214.8L749.4 219.4L745 214.8Z"/>
<path d="M753.1 215.7L757.5 220.3L753.1 224.9L748.7 220.3Z"/>
<path d="M755.39 221.03L759.79 225.63L755.39 230.23L750.99 225.63Z"/>
<path d="M756.34 226.73L760.74 231.33L756.34 235.93L751.94 231.33Z"/>
<path d="M756.3 232.52L760.7 237.12L756.3 241.72L751.9 237.12Z"/>
<path d="M755.02 238.17L759.42 242.77L755.02 247.37L750.62 242.77Z"/>
<path d="M753.29 243.69L757.69 248.29L753.29 252.89L748.89 248.29Z"/>
<path d="M750.9 248.2L755.3 252.8L750.9 257.4L746.5 252.8Z"/>
<path d="M749.01 251.15L753.41 255.75L749.01 260.35L744.61 255.75Z"/>
<path d="M746.73 253.79L751.13 258.39L746.73 262.99L742.33 258.39Z"/>
<path d="M744.02 256.01L748.42 260.61L744.02 265.21L739.62 260.61Z"/>
<path d="M741.2 258.07L745.6 262.67L741.2 267.27L736.8 262.67Z"/>
<path d="M738.22 259.9L742.62 264.5L738.22 269.1L733.82 264.5Z"/>
<path d="M734.97 261.21L739.37 265.81L734.97 270.41L730.57 265.81Z"/>
<path d="M731.72 262.51L736.12 267.11L731.72 271.71L727.32 267.11Z"/>
<path d="M728.49 263.85L732.89 268.45L728.49 273.05L724.09 268.45Z"/>
<path d="M725.23 265.12L729.63 269.72L725.23 274.32L720.83 269.72Z"/>
<path d="M721.83 265.89L726.23 270.49L721.83 275.09L717.43 270.49Z"/>
<path d="M718.39 265.4L722.79 270L718.39 274.6L713.99 270Z"/>
<path d="M715.2 263.97L719.6 268.57L715.2 273.17L710.8 268.57Z"/>
<path d="M712.53 261.72L716.93 266.32L712.53 270.92L708.13 266.32Z"/>
<path d="M711.56 258.57L715.96 263.17L711.56 267.77L707.16 263.17Z"/>
<path d="M713.6 255.78L718 260.38L713.6 264.98L709.2 260.38Z"/>
<path d="M716.7 254.4L721.1 259L716.7 263.6L712.3 259Z"/>
</g>
<rect x="447.3" y="4.7" width="348.7" height="276.5" fill="none" stroke="#000" stroke-width="2"/>
<line x1="444.3" y1="266.52" x2="447.3" y2="266.52" stroke="#000" stroke-width="2"/>
<line x1="442.3" y1="241.4" x2="447.3" y2="241.4" stroke="#000" stroke-width="2"/>
<line x1="444.3" y1="216.28" x2="447.3" y2="216.28" stroke="#000" stroke-width="2"/>
<line x1="442.3" y1="191.15" x2="447.3" y2="191.15" stroke="#000" stroke-width="2"/>
<line x1="444.3" y1="166.03" x2="447.3" y2="166.03" stroke="#000" stroke-width="2"/>
<line x1="442.3" y1="140.9" x2="447.3" y2="140.9" stroke="#000" stroke-width="2"/>
<line x1="444.3" y1="115.77" x2="447.3" y2="115.77" stroke="#000" stroke-width="2"/>
<line x1="442.3" y1="90.65" x2="447.3" y2="90.65" stroke="#000" stroke-width="2"/>
<line x1="444.3" y1="65.53" x2="447.3" y2="65.53" stroke="#000" stroke-width="2"/>
<line x1="442.3" y1="40.4" x2="447.3" y2="40.4" stroke="#000" stroke-width="2"/>
<line x1="444.3" y1="15.27" x2="447.3" y2="15.27" stroke="#000" stroke-width="2"/>
<line x1="447.3" y1="281.2" x2="447.3" y2="286.2" stroke="#000" stroke-width="2"/>
<line x1="479" y1="281.2" x2="479" y2="284.2" stroke="#000" stroke-width="2"/>
<line x1="510.7" y1="281.2" x2="510.7" y2="286.2" stroke="#000" stroke-width="2"/>
<line x1="542.4" y1="281.2" x2="542.4" y2="284.2" stroke="#000" stroke-width="2"/>
<line x1="574.1" y1="281.2" x2="574.1" y2="286.2" stroke="#000" stroke-width="2"/>
<line x1="605.8" y1="281.2" x2="605.8" y2="284.2" stroke="#000" stroke-width="2"/>
<line x1="637.5" y1="281.2" x2="637.5" y2="286.2" stroke="#000" stroke-width="2"/>
<line x1="669.2" y1="281.2" x2="669.2" y2="284.2" stroke="#000" stroke-width="2"/>
<line x1="700.9" y1="281.2" x2="700.9" y2="286.2" stroke="#000" stroke-width="2"/>
<line x1="732.6" y1="281.2" x2="732.6" y2="284.2" stroke="#000" stroke-width="2"/>
<line x1="764.3" y1="281.2" x2="764.3" y2="286.2" stroke="#000" stroke-width="2"/>
<line x1="796" y1="281.2" x2="796" y2="284.2" stroke="#000" stroke-width="2"/>
<text x="427.82" y="246.4" style="font-size:14.5px;font-weight:bold;fill:#111;">0</text>
<text x="427.63" y="196.15" style="font-size:14.5px;font-weight:bold;fill:#111;">5</text>
<text x="419.76" y="145.9" style="font-size:14.5px;font-weight:bold;fill:#111;">10</text>
<text x="419.57" y="95.65" style="font-size:14.5px;font-weight:bold;fill:#111;">15</text>
<text x="419.76" y="45.4" style="font-size:14.5px;font-weight:bold;fill:#111;">20</text>
<text x="443.28" y="301.6" style="font-size:14.5px;font-weight:bold;fill:#111;">0</text>
<text x="506.65" y="301.6" style="font-size:14.5px;font-weight:bold;fill:#111;">5</text>
<text x="565.88" y="301.6" style="font-size:14.5px;font-weight:bold;fill:#111;">10</text>
<text x="629.18" y="301.6" style="font-size:14.5px;font-weight:bold;fill:#111;">15</text>
<text x="692.88" y="301.6" style="font-size:14.5px;font-weight:bold;fill:#111;">20</text>
<text x="756.19" y="301.6" style="font-size:14.5px;font-weight:bold;fill:#111;">25</text>
<text transform="translate(455.61,25.6) scale(1.06,1)" style="font-size:15px;font-weight:bold;fill:#222;">15 wt.% HCl: 70</text>
<text transform="translate(573.93,21.2) scale(1.1,1)" style="font-size:10.5px;font-weight:bold;fill:#222;">O</text>
<text transform="translate(584.5,25.6) scale(0.82,1)" style="font-size:15px;font-weight:bold;fill:#222;">C</text>
<g transform="translate(0,0)"><text transform="translate(573.16,334.3) scale(0.95,1)" style="font-size:16px;font-weight:bold;">Z</text><text transform="translate(584.4,338.7) scale(0.96,1)" style="font-size:16px;font-weight:bold;">re</text><text x="604.02" y="334.3" style="font-size:16px;font-weight:bold;">(</text><text transform="translate(608.96,334.1) scale(1.59,1)" style="font-size:14px;font-weight:normal;">Ω</text><text transform="translate(629.56,334.3) scale(1.03,1)" style="font-size:16px;font-weight:bold;">cm</text><text transform="translate(653.37,329.8) scale(1.09,1)" style="font-size:14.5px;font-weight:bold;">2</text><text x="664.98" y="334.3" style="font-size:16px;font-weight:bold;">)</text></g>
<g transform="translate(409.2,201.3) rotate(-90) scale(1,1.08)"><text transform="translate(-0.26,0) scale(0.9,1)" style="font-size:15px;font-weight:bold;">−</text><text transform="translate(8.5,0.2) scale(1.05,1)" style="font-size:16.5px;font-weight:bold;">Z</text><text transform="translate(19.99,2.7) scale(1.08,1)" style="font-size:15px;font-weight:bold;">img</text><text x="54.27" y="0" style="font-size:15px;font-weight:bold;">(</text><text transform="translate(60.11,0) scale(1.51,1)" style="font-size:14px;font-weight:normal;">Ω</text><text transform="translate(79.29,0) scale(1.04,1)" style="font-size:15px;font-weight:bold;">cm</text><text transform="translate(102.79,-5.6) scale(1.19,1)" style="font-size:15px;font-weight:bold;">2</text><text x="112.78" y="0" style="font-size:15px;font-weight:bold;">)</text></g>
<rect x="649.5" y="9.5" width="140" height="82.5" fill="#fff" stroke="#111" stroke-width="1.2"/>
<line x1="649.8" y1="18.7" x2="679.4" y2="18.7" stroke="#000000" stroke-width="1.3"/>
<g fill="#000000"><rect x="662.4" y="15.9" width="5.6" height="5.6"/></g>
<text transform="translate(683.56,23) scale(1.04,1)" style="font-size:12.2px;font-weight:normal;fill:#222;">Blank</text>
<line x1="649.8" y1="35.1" x2="679.4" y2="35.1" stroke="#0000ff" stroke-width="1.3"/>
<g fill="#0000ff"><circle cx="665.2" cy="35.1" r="3.4"/></g>
<text transform="translate(684.57,39.4) scale(1.04,1)" style="font-size:12.2px;font-weight:normal;fill:#222;">Aspartame</text>
<line x1="649.8" y1="50.8" x2="679.4" y2="50.8" stroke="#ff0000" stroke-width="1.3"/>
<g fill="#ff0000"><path d="M665.2 46.27L669.4 53.07L661 53.07Z"/></g>
<text transform="translate(684.57,55.1) scale(1.04,1)" style="font-size:12.2px;font-weight:normal;fill:#222;">Aspartame + SDS</text>
<line x1="649.8" y1="66.6" x2="679.4" y2="66.6" stroke="#008000" stroke-width="1.3"/>
<g fill="#008000"><path d="M661.1 64.2L669.3 64.2L665.2 71.4Z"/></g>
<text transform="translate(684.57,70.9) scale(1.04,1)" style="font-size:12.2px;font-weight:normal;fill:#222;">Aspartame + KI</text>
<line x1="649.8" y1="82.3" x2="679.4" y2="82.3" stroke="#800080" stroke-width="1.3"/>
<g fill="#800080"><path d="M665.2 77.7L669.6 82.3L665.2 86.9L660.8 82.3Z"/></g>
<text transform="translate(683.56,86.6) scale(1.04,1)" style="font-size:12.2px;font-weight:normal;fill:#222;">Formulation</text>
<g fill="#000000"><path d="M86.5 589 L86.68 588.69 L86.94 588.25 L87.24 587.75 L87.51 587.28 L87.77 586.84 L88.02 586.41 L88.27 585.98 L88.53 585.55 L88.79 585.13 L89.05 584.7 L89.31 584.28 L89.58 583.85 L89.86 583.44 L90.14 583.02 L90.43 582.61 L90.72 582.2 L91.01 581.8 L91.31 581.4 L91.62 581.01 L91.93 580.61 L92.24 580.22 L92.55 579.83 L92.87 579.45 L93.19 579.07 L93.52 578.69 L93.85 578.31 L94.18 577.93 L94.51 577.56 L94.85 577.19 L95.19 576.83 L95.53 576.46 L95.88 576.11 L96.23 575.75 L96.59 575.4 L96.95 575.05 L97.31 574.71 L97.68 574.37 L98.05 574.03 L98.42 573.69 L98.79 573.36 L99.17 573.03 L99.55 572.71 L99.93 572.38 L100.31 572.06 L100.7 571.75 L101.09 571.43 L101.48 571.12 L101.88 570.82 L102.28 570.52 L102.68 570.23 L103.09 569.94 L103.5 569.65 L103.92 569.37 L104.33 569.1 L104.75 568.82 L105.17 568.55 L105.59 568.27 L106 568 L106.42 567.72 L106.84 567.45 L107.26 567.17 L107.68 566.9 L108.1 566.63 L108.52 566.36 L108.94 566.1 L109.37 565.83 L109.79 565.57 L110.22 565.31 L110.65 565.05 L111.08 564.79 L111.51 564.54 L111.94 564.28 L112.37 564.03 L112.8 563.77 L113.23 563.52 L113.66 563.27 L114.1 563.02 L114.53 562.78 L114.97 562.54 L115.41 562.3 L115.85 562.07 L116.3 561.84 L116.75 561.62 L117.2 561.41 L117.65 561.2 L118.11 560.99 L118.57 560.79 L119.03 560.59 L119.49 560.4 L119.95 560.22 L120.42 560.04 L120.89 559.87 L121.36 559.7 L121.84 559.55 L122.32 559.41 L122.8 559.28 L123.28 559.16 L123.77 559.05 L124.26 558.96 L124.76 558.88 L125.25 558.81 L125.75 558.76 L126.25 558.71 L126.75 558.67 L127.25 558.64 L127.74 558.61 L128.24 558.59 L128.74 558.57 L129.24 558.56 L129.74 558.55 L130.24 558.55 L130.74 558.55 L131.24 558.57 L131.74 558.59 L132.24 558.61 L132.74 558.65 L133.24 558.71 L133.73 558.77 L134.23 558.84 L134.72 558.93 L135.21 559.02 L135.7 559.14 L136.18 559.26 L136.67 559.38 L137.15 559.51 L137.63 559.65 L138.11 559.79 L138.59 559.93 L139.07 560.07 L139.55 560.21 L140.03 560.35 L140.51 560.49 L140.99 560.62 L141.47 560.76 L141.95 560.9 L142.43 561.04 L142.91 561.18 L143.39 561.33 L143.87 561.47 L144.35 561.62 L144.82 561.78 L145.3 561.93 L145.77 562.09 L146.25 562.25 L146.72 562.42 L147.19 562.58 L147.66 562.75 L148.13 562.92 L148.6 563.1 L149.06 563.28 L149.53 563.47 L149.99 563.66 L150.45 563.86 L150.9 564.07 L151.35 564.28 L151.8 564.5 L152.25 564.72 L152.7 564.94 L153.14 565.17 L153.59 565.41 L154.02 565.65 L154.46 565.89 L154.9 566.14 L155.33 566.39 L155.75 566.65 L156.18 566.92 L156.6 567.19 L157.01 567.47 L157.43 567.75 L157.84 568.03 L158.24 568.33 L158.64 568.63 L159.04 568.93 L159.43 569.24 L159.82 569.56 L160.2 569.88 L160.58 570.21 L160.95 570.54 L161.32 570.88 L161.69 571.22 L162.05 571.56 L162.41 571.91 L162.77 572.26 L163.12 572.61 L163.47 572.97 L163.81 573.33 L164.16 573.7 L164.49 574.07 L164.81 574.45 L165.13 574.84 L165.44 575.23 L165.74 575.63 L166.04 576.03 L166.33 576.44 L166.6 576.86 L166.87 577.28 L167.13 577.71 L167.37 578.14 L167.6 578.59 L167.82 579.04 L168.01 579.5 L168.19 579.97 L168.36 580.44 L168.49 580.92 L168.61 581.4 L168.71 581.9 L168.78 582.39 L168.81 582.89 L168.79 583.39 L168.75 583.88 L168.67 584.38 L168.56 584.87 L168.43 585.35 L168.26 585.82 L168.07 586.28 L167.86 586.74 L167.62 587.17 L167.35 587.59 L167.07 588.01 L166.8 588.43 L166.56 588.87 L166.34 589.32 L166.1 589.77 L165.83 590.18 L165.52 590.56 L165.19 590.93 L164.83 591.27 L164.44 591.57 L164.01 591.81 L163.55 592.01 L163.08 592.18 L162.6 592.36 L162.13 592.53 L161.66 592.69 L161.18 592.84 L160.71 592.99 L160.23 593.13 L159.75 593.27 L159.26 593.4 L158.78 593.52 L158.29 593.62 L157.8 593.71 L157.3 593.8 L156.81 593.87 L156.31 593.93 L155.82 593.98 L155.32 594.02 L154.82 594.04 L154.32 594.05 L153.82 594.05 L153.32 594.04 L152.82 594 L152.32 593.95 L151.83 593.87 L151.34 593.78 L150.85 593.68 L150.36 593.57 L149.87 593.45 L149.39 593.32 L148.91 593.18 L148.43 593.04 L147.95 592.89 L147.48 592.74 L147 592.58 L146.53 592.41 L146.06 592.24 L145.6 592.05 L145.13 591.87 L144.67 591.68 L144.21 591.49 L143.75 591.29 L143.29 591.09 L142.84 590.88 L142.39 590.67 L141.93 590.45 L141.48 590.24 L141.04 590.02 L140.59 589.79 L140.14 589.57 L139.69 589.35 L139.24 589.13 L138.79 588.91 L138.35 588.69 L137.9 588.46 L137.46 588.22 L137.02 587.99 L136.58 587.75 L136.15 587.49 L135.73 587.22 L135.32 586.94 L134.91 586.66 L134.5 586.36 L134.08 586.05 L133.65 585.73 L133.25 585.42 L132.91 585.15 L132.63 584.94 L132.4 584.75 L132.23 584.6 L132.1 584.5" fill="none" stroke="#000000" stroke-width="1.3"/>
<rect x="83.7" y="586.2" width="5.6" height="5.6"/>
<rect x="84.71" y="584.48" width="5.6" height="5.6"/>
<rect x="85.73" y="582.75" width="5.6" height="5.6"/>
<rect x="86.78" y="581.05" width="5.6" height="5.6"/>
<rect x="87.92" y="579.4" width="5.6" height="5.6"/>
<rect x="89.13" y="577.81" width="5.6" height="5.6"/>
<rect x="90.39" y="576.27" width="5.6" height="5.6"/>
<rect x="91.71" y="574.76" width="5.6" height="5.6"/>
<rect x="93.08" y="573.31" width="5.6" height="5.6"/>
<rect x="94.51" y="571.91" width="5.6" height="5.6"/>
<rect x="95.99" y="570.56" width="5.6" height="5.6"/>
<rect x="97.51" y="569.26" width="5.6" height="5.6"/>
<rect x="99.08" y="568.02" width="5.6" height="5.6"/>
<rect x="100.7" y="566.85" width="5.6" height="5.6"/>
<rect x="102.37" y="565.75" width="5.6" height="5.6"/>
<rect x="104.04" y="564.65" width="5.6" height="5.6"/>
<rect x="105.72" y="563.56" width="5.6" height="5.6"/>
<rect x="107.42" y="562.51" width="5.6" height="5.6"/>
<rect x="109.14" y="561.48" width="5.6" height="5.6"/>
<rect x="110.86" y="560.47" width="5.6" height="5.6"/>
<rect x="112.61" y="559.5" width="5.6" height="5.6"/>
<rect x="114.4" y="558.61" width="5.6" height="5.6"/>
<rect x="116.23" y="557.79" width="5.6" height="5.6"/>
<rect x="118.09" y="557.07" width="5.6" height="5.6"/>
<rect x="120" y="556.48" width="5.6" height="5.6"/>
<rect x="121.96" y="556.08" width="5.6" height="5.6"/>
<rect x="123.95" y="555.87" width="5.6" height="5.6"/>
<rect x="125.94" y="555.77" width="5.6" height="5.6"/>
<rect x="127.94" y="555.75" width="5.6" height="5.6"/>
<rect x="129.94" y="555.85" width="5.6" height="5.6"/>
<rect x="131.92" y="556.13" width="5.6" height="5.6"/>
<rect x="133.87" y="556.58" width="5.6" height="5.6"/>
<rect x="135.79" y="557.13" width="5.6" height="5.6"/>
<rect x="137.71" y="557.69" width="5.6" height="5.6"/>
<rect x="139.63" y="558.24" width="5.6" height="5.6"/>
<rect x="141.55" y="558.82" width="5.6" height="5.6"/>
<rect x="143.45" y="559.45" width="5.6" height="5.6"/>
<rect x="145.33" y="560.12" width="5.6" height="5.6"/>
<rect x="147.19" y="560.86" width="5.6" height="5.6"/>
<rect x="149" y="561.7" width="5.6" height="5.6"/>
<rect x="150.79" y="562.61" width="5.6" height="5.6"/>
<rect x="152.53" y="563.59" width="5.6" height="5.6"/>
<rect x="154.21" y="564.67" width="5.6" height="5.6"/>
<rect x="155.84" y="565.83" width="5.6" height="5.6"/>
<rect x="157.4" y="567.08" width="5.6" height="5.6"/>
<rect x="158.89" y="568.42" width="5.6" height="5.6"/>
<rect x="160.32" y="569.81" width="5.6" height="5.6"/>
<rect x="161.69" y="571.27" width="5.6" height="5.6"/>
<rect x="162.94" y="572.83" width="5.6" height="5.6"/>
<rect x="164.07" y="574.48" width="5.6" height="5.6"/>
<rect x="165.02" y="576.24" width="5.6" height="5.6"/>
<rect x="165.69" y="578.12" width="5.6" height="5.6"/>
<rect x="166.01" y="580.09" width="5.6" height="5.6"/>
<rect x="165.76" y="582.07" width="5.6" height="5.6"/>
<rect x="165.06" y="583.94" width="5.6" height="5.6"/>
<rect x="164" y="585.63" width="5.6" height="5.6"/>
<rect x="163.03" y="587.38" width="5.6" height="5.6"/>
<rect x="161.64" y="588.77" width="5.6" height="5.6"/>
<rect x="159.8" y="589.56" width="5.6" height="5.6"/>
<rect x="157.91" y="590.19" width="5.6" height="5.6"/>
<rect x="155.98" y="590.72" width="5.6" height="5.6"/>
<rect x="154.01" y="591.07" width="5.6" height="5.6"/>
<rect x="152.02" y="591.24" width="5.6" height="5.6"/>
<rect x="150.02" y="591.2" width="5.6" height="5.6"/>
<rect x="148.05" y="590.88" width="5.6" height="5.6"/>
<rect x="146.11" y="590.38" width="5.6" height="5.6"/>
<rect x="144.2" y="589.78" width="5.6" height="5.6"/>
<rect x="142.33" y="589.07" width="5.6" height="5.6"/>
<rect x="140.49" y="588.29" width="5.6" height="5.6"/>
<rect x="138.68" y="587.44" width="5.6" height="5.6"/>
<rect x="136.89" y="586.55" width="5.6" height="5.6"/>
<rect x="135.1" y="585.66" width="5.6" height="5.6"/>
<rect x="133.35" y="584.69" width="5.6" height="5.6"/>
<rect x="131.7" y="583.56" width="5.6" height="5.6"/>
<rect x="130.11" y="582.35" width="5.6" height="5.6"/>
<rect x="129.3" y="581.7" width="5.6" height="5.6"/>
</g>
<g fill="#0000ff"><path d="M91.3 588.3 L91.47 587.94 L91.72 587.43 L92 586.86 L92.26 586.32 L92.51 585.83 L92.75 585.33 L93 584.84 L93.25 584.36 L93.51 583.87 L93.78 583.39 L94.05 582.92 L94.34 582.44 L94.63 581.98 L94.92 581.51 L95.22 581.05 L95.53 580.59 L95.84 580.14 L96.15 579.68 L96.46 579.23 L96.77 578.78 L97.09 578.33 L97.4 577.88 L97.72 577.43 L98.03 576.98 L98.35 576.53 L98.66 576.07 L98.98 575.62 L99.3 575.18 L99.63 574.73 L99.96 574.29 L100.29 573.86 L100.64 573.43 L100.99 573.01 L101.36 572.6 L101.73 572.19 L102.11 571.79 L102.49 571.4 L102.88 571.01 L103.27 570.63 L103.67 570.25 L104.07 569.87 L104.47 569.49 L104.87 569.11 L105.27 568.74 L105.68 568.37 L106.09 568 L106.5 567.64 L106.91 567.27 L107.33 566.91 L107.75 566.56 L108.17 566.2 L108.59 565.85 L109.01 565.49 L109.43 565.14 L109.85 564.79 L110.28 564.44 L110.7 564.09 L111.13 563.75 L111.56 563.4 L112 563.07 L112.43 562.73 L112.87 562.4 L113.31 562.07 L113.75 561.74 L114.19 561.41 L114.64 561.09 L115.09 560.77 L115.53 560.45 L115.98 560.13 L116.43 559.81 L116.87 559.49 L117.32 559.17 L117.77 558.84 L118.21 558.52 L118.65 558.19 L119.1 557.87 L119.54 557.55 L119.99 557.23 L120.44 556.92 L120.9 556.61 L121.37 556.32 L121.84 556.04 L122.32 555.77 L122.8 555.5 L123.29 555.25 L123.78 555 L124.27 554.75 L124.76 554.51 L125.26 554.27 L125.75 554.02 L126.24 553.78 L126.74 553.54 L127.25 553.3 L127.76 553.05 L128.26 552.81 L128.72 552.59 L129.02 552.47 L129.19 552.41 L129.5 552.27 L130.2 551.9 L131.43 551.2 L133.04 550.28 L134.8 549.27 L136.5 548.3 L137.97 547.41 L139.36 546.54 L140.95 545.64 L143 544.7 L145.73 543.65 L148.94 542.53 L152.3 541.44 L155.5 540.5 L158.46 539.74 L161.34 539.09 L164.18 538.53 L167 538 L169.79 537.5 L172.54 537.06 L175.27 536.66 L178 536.3 L180.72 535.98 L183.42 535.69 L186.14 535.46 L188.9 535.3 L191.72 535.21 L194.58 535.19 L197.48 535.22 L200.4 535.3 L203.4 535.4 L206.45 535.54 L209.48 535.76 L212.4 536.1 L215.15 536.6 L217.79 537.24 L220.41 537.93 L223.1 538.6 L225.94 539.23 L228.86 539.87 L231.75 540.52 L234.5 541.2 L237.09 541.9 L239.59 542.61 L241.96 543.37 L244.2 544.2 L246.27 545.11 L248.18 546.08 L250.01 547.11 L251.8 548.2 L253.57 549.38 L255.29 550.64 L256.97 551.93 L258.6 553.2 L260.24 554.49 L261.88 555.8 L263.4 557.06 L264.7 558.2 L265.69 559.16 L266.44 559.99 L267.1 560.78 L267.8 561.6 L268.57 562.46 L269.33 563.32 L270.08 564.19 L270.82 565.07 L271.54 565.96 L272.25 566.87 L272.94 567.79 L273.58 568.74 L274.19 569.81 L274.77 570.95 L275.28 572.01 L275.68 572.83 L275.91 573.27 L276 573.45 L276.06 573.58 L276.2 573.9 L276.45 574.47 L276.76 575.17 L277.08 575.93 L277.36 576.66 L277.62 577.37 L277.87 578.08 L278.08 578.8 L278.24 579.53 L278.32 580.27 L278.36 581.02 L278.34 581.77 L278.29 582.52 L278.2 583.26 L278.07 584 L277.9 584.73 L277.7 585.45 L277.47 586.17 L277.21 586.87 L276.92 587.57 L276.6 588.25 L276.26 588.91 L275.89 589.56 L275.5 590.2 L275.09 590.83 L274.65 591.44 L274.19 592.03 L273.71 592.61 L273.22 593.18 L272.73 593.74 L272.23 594.3 L271.72 594.85 L271.19 595.39 L270.66 595.91 L270.11 596.43 L269.56 596.93 L268.99 597.43 L268.42 597.91 L267.83 598.38 L267.24 598.83 L266.64 599.28 L266.02 599.71 L265.4 600.13 L264.77 600.54 L264.13 600.93 L263.48 601.3 L262.82 601.65 L262.15 601.99 L261.47 602.31 L260.79 602.62 L260.1 602.92 L259.4 603.2 L258.7 603.47 L258 603.72 L257.29 603.97 L256.57 604.2 L255.86 604.41 L255.13 604.6 L254.4 604.78 L253.67 604.94 L252.93 605.09 L252.2 605.23 L251.46 605.36 L250.72 605.48 L249.98 605.58 L249.23 605.68 L248.49 605.76 L247.74 605.83 L246.99 605.89 L246.24 605.94 L245.5 605.99 L244.75 606.02 L244 606.05 L243.25 606.06 L242.5 606.07 L241.75 606.07 L241 606.06 L240.25 606.04 L239.5 606.01 L238.75 605.98 L238 605.93 L237.25 605.88 L236.5 605.82 L235.76 605.75 L235.01 605.67 L234.27 605.57 L233.53 605.46 L232.79 605.34 L232.05 605.21 L231.31 605.06 L230.58 604.9 L229.85 604.73 L229.12 604.55 L228.4 604.36 L227.67 604.16 L226.95 603.96 L226.23 603.75 L225.51 603.53 L224.8 603.3 L224.09 603.07 L223.38 602.83 L222.67 602.58 L221.96 602.33 L221.26 602.06 L220.56 601.79 L219.87 601.5 L219.18 601.21 L218.49 600.91 L217.81 600.6 L217.12 600.3 L216.44 599.99 L215.75 599.68 L215.07 599.39 L214.37 599.1 L213.68 598.81 L212.98 598.53 L212.29 598.25 L211.6 597.96 L210.9 597.67 L210.22 597.37 L209.54 597.06 L208.86 596.72 L208.2 596.37 L207.54 596.01 L206.89 595.65 L206.24 595.27 L205.6 594.89 L204.95 594.5 L204.31 594.12 L203.65 593.76 L202.99 593.4 L202.33 593.05 L201.66 592.7 L201 592.36 L200.33 592.02 L199.65 591.69 L198.98 591.37 L198.29 591.06 L197.61 590.76 L196.91 590.47 L196.22 590.2 L195.5 589.94 L194.77 589.69 L194.05 589.46 L193.37 589.24 L192.69 589.02 L192.01 588.81 L191.42 588.63 L191 588.5" fill="none" stroke="#0000ff" stroke-width="1.3"/>
<circle cx="91.3" cy="588.3" r="3.25"/>
<circle cx="92.26" cy="586.32" r="3.25"/>
<circle cx="93.25" cy="584.36" r="3.25"/>
<circle cx="94.34" cy="582.44" r="3.25"/>
<circle cx="95.53" cy="580.59" r="3.25"/>
<circle cx="96.77" cy="578.78" r="3.25"/>
<circle cx="98.03" cy="576.98" r="3.25"/>
<circle cx="99.3" cy="575.18" r="3.25"/>
<circle cx="100.64" cy="573.43" r="3.25"/>
<circle cx="102.11" cy="571.79" r="3.25"/>
<circle cx="103.67" cy="570.25" r="3.25"/>
<circle cx="105.27" cy="568.74" r="3.25"/>
<circle cx="106.91" cy="567.27" r="3.25"/>
<circle cx="108.59" cy="565.85" r="3.25"/>
<circle cx="110.28" cy="564.44" r="3.25"/>
<circle cx="112" cy="563.07" r="3.25"/>
<circle cx="113.75" cy="561.74" r="3.25"/>
<circle cx="115.53" cy="560.45" r="3.25"/>
<circle cx="117.32" cy="559.17" r="3.25"/>
<circle cx="119.1" cy="557.87" r="3.25"/>
<circle cx="120.9" cy="556.61" r="3.25"/>
<circle cx="122.8" cy="555.5" r="3.25"/>
<circle cx="124.76" cy="554.51" r="3.25"/>
<circle cx="126.74" cy="553.54" r="3.25"/>
<circle cx="128.72" cy="552.59" r="3.25"/>
<circle cx="130.2" cy="551.9" r="3.25"/>
<circle cx="136.5" cy="548.3" r="3.25"/>
<circle cx="143" cy="544.7" r="3.25"/>
<circle cx="155.5" cy="540.5" r="3.25"/>
<circle cx="167" cy="538" r="3.25"/>
<circle cx="178" cy="536.3" r="3.25"/>
<circle cx="188.9" cy="535.3" r="3.25"/>
<circle cx="200.4" cy="535.3" r="3.25"/>
<circle cx="212.4" cy="536.1" r="3.25"/>
<circle cx="223.1" cy="538.6" r="3.25"/>
<circle cx="234.5" cy="541.2" r="3.25"/>
<circle cx="244.2" cy="544.2" r="3.25"/>
<circle cx="251.8" cy="548.2" r="3.25"/>
<circle cx="258.6" cy="553.2" r="3.25"/>
<circle cx="264.7" cy="558.2" r="3.25"/>
<circle cx="267.8" cy="561.6" r="3.25"/>
<circle cx="270.82" cy="565.07" r="3.25"/>
<circle cx="273.58" cy="568.74" r="3.25"/>
<circle cx="275.68" cy="572.83" r="3.25"/>
<circle cx="276.2" cy="573.9" r="3.25"/>
<circle cx="277.36" cy="576.66" r="3.25"/>
<circle cx="278.24" cy="579.53" r="3.25"/>
<circle cx="278.29" cy="582.52" r="3.25"/>
<circle cx="277.7" cy="585.45" r="3.25"/>
<circle cx="276.6" cy="588.25" r="3.25"/>
<circle cx="275.09" cy="590.83" r="3.25"/>
<circle cx="273.22" cy="593.18" r="3.25"/>
<circle cx="271.19" cy="595.39" r="3.25"/>
<circle cx="268.99" cy="597.43" r="3.25"/>
<circle cx="266.64" cy="599.28" r="3.25"/>
<circle cx="264.13" cy="600.93" r="3.25"/>
<circle cx="261.47" cy="602.31" r="3.25"/>
<circle cx="258.7" cy="603.47" r="3.25"/>
<circle cx="255.86" cy="604.41" r="3.25"/>
<circle cx="252.93" cy="605.09" r="3.25"/>
<circle cx="249.98" cy="605.58" r="3.25"/>
<circle cx="246.99" cy="605.89" r="3.25"/>
<circle cx="244" cy="606.05" r="3.25"/>
<circle cx="241" cy="606.06" r="3.25"/>
<circle cx="238" cy="605.93" r="3.25"/>
<circle cx="235.01" cy="605.67" r="3.25"/>
<circle cx="232.05" cy="605.21" r="3.25"/>
<circle cx="229.12" cy="604.55" r="3.25"/>
<circle cx="226.23" cy="603.75" r="3.25"/>
<circle cx="223.38" cy="602.83" r="3.25"/>
<circle cx="220.56" cy="601.79" r="3.25"/>
<circle cx="217.81" cy="600.6" r="3.25"/>
<circle cx="215.07" cy="599.39" r="3.25"/>
<circle cx="212.29" cy="598.25" r="3.25"/>
<circle cx="209.54" cy="597.06" r="3.25"/>
<circle cx="206.89" cy="595.65" r="3.25"/>
<circle cx="204.31" cy="594.12" r="3.25"/>
<circle cx="201.66" cy="592.7" r="3.25"/>
<circle cx="198.98" cy="591.37" r="3.25"/>
<circle cx="196.22" cy="590.2" r="3.25"/>
<circle cx="193.37" cy="589.24" r="3.25"/>
<circle cx="191" cy="588.5" r="3.25"/>
</g>
<g fill="#ff0000"><path d="M81.3 588.3 L81.47 587.94 L81.72 587.43 L82 586.86 L82.27 586.32 L82.51 585.83 L82.75 585.34 L83 584.85 L83.26 584.36 L83.52 583.87 L83.78 583.39 L84.05 582.91 L84.33 582.44 L84.61 581.97 L84.9 581.5 L85.2 581.04 L85.49 580.57 L85.79 580.11 L86.1 579.65 L86.4 579.2 L86.71 578.74 L87.02 578.29 L87.34 577.83 L87.65 577.38 L87.97 576.93 L88.29 576.49 L88.61 576.04 L88.94 575.6 L89.27 575.16 L89.6 574.72 L89.94 574.29 L90.28 573.86 L90.63 573.43 L90.99 573.02 L91.35 572.6 L91.72 572.19 L92.09 571.79 L92.47 571.39 L92.86 571 L93.25 570.61 L93.64 570.22 L94.03 569.84 L94.42 569.45 L94.82 569.07 L95.22 568.69 L95.62 568.31 L96.02 567.94 L96.42 567.57 L96.83 567.2 L97.24 566.83 L97.66 566.47 L98.07 566.11 L98.49 565.76 L98.92 565.41 L99.35 565.06 L99.78 564.72 L100.21 564.38 L100.65 564.05 L101.09 563.72 L101.53 563.4 L101.98 563.07 L102.42 562.74 L102.85 562.41 L103.29 562.07 L103.73 561.74 L104.17 561.41 L104.61 561.07 L105.04 560.74 L105.48 560.41 L105.93 560.08 L106.37 559.76 L106.81 559.44 L107.26 559.11 L107.71 558.8 L108.16 558.48 L108.61 558.17 L109.07 557.86 L109.52 557.55 L109.98 557.25 L110.44 556.94 L110.9 556.63 L111.35 556.33 L111.81 556.02 L112.27 555.72 L112.73 555.42 L113.19 555.12 L113.65 554.83 L114.12 554.53 L114.59 554.24 L115.06 553.96 L115.54 553.69 L116.02 553.42 L116.5 553.15 L116.98 552.89 L117.46 552.63 L117.95 552.37 L118.44 552.13 L118.94 551.89 L119.44 551.65 L119.94 551.42 L120.44 551.2 L120.94 550.98 L121.45 550.77 L121.96 550.56 L122.47 550.35 L122.98 550.15 L123.5 549.94 L124.01 549.73 L124.51 549.54 L124.86 549.4 L125.11 549.32 L125.53 549.16 L126.4 548.8 L127.87 548.17 L129.77 547.35 L131.89 546.45 L134 545.6 L136.03 544.79 L138.09 543.98 L140.28 543.2 L142.7 542.5 L145.46 541.89 L148.49 541.34 L151.58 540.88 L154.5 540.5 L157.18 540.23 L159.74 540.06 L162.28 539.96 L164.9 539.9 L167.63 539.87 L170.43 539.87 L173.23 539.95 L176 540.1 L178.73 540.36 L181.44 540.71 L184.14 541.1 L186.8 541.5 L189.44 541.9 L192.06 542.31 L194.65 542.75 L197.2 543.2 L199.71 543.66 L202.18 544.12 L204.61 544.62 L207 545.2 L209.35 545.87 L211.66 546.6 L213.92 547.38 L216.1 548.2 L218.2 549.04 L220.23 549.91 L222.2 550.83 L224.1 551.8 L225.94 552.83 L227.72 553.91 L229.44 555.04 L231.1 556.2 L232.74 557.45 L234.34 558.78 L235.82 560.06 L237.1 561.2 L238.12 562.15 L238.95 562.98 L239.64 563.72 L240.28 564.38 L240.86 564.94 L241.34 565.38 L241.77 565.81 L242.2 566.3 L242.63 566.88 L243.05 567.51 L243.45 568.16 L243.86 568.8 L244.26 569.43 L244.67 570.06 L245.07 570.69 L245.47 571.33 L245.85 571.98 L246.23 572.62 L246.6 573.28 L246.95 573.94 L247.31 574.6 L247.65 575.27 L247.97 575.95 L248.26 576.64 L248.51 577.34 L248.73 578.06 L248.92 578.79 L249.06 579.52 L249.15 580.26 L249.21 581.02 L249.22 581.77 L249.18 582.51 L249.08 583.25 L248.93 583.99 L248.74 584.71 L248.52 585.43 L248.28 586.14 L248.01 586.84 L247.71 587.53 L247.39 588.21 L247.05 588.87 L246.69 589.53 L246.31 590.18 L245.9 590.81 L245.46 591.41 L244.99 592 L244.5 592.57 L244 593.13 L243.47 593.66 L242.93 594.18 L242.36 594.67 L241.78 595.14 L241.18 595.59 L240.56 596.01 L239.93 596.42 L239.28 596.8 L238.62 597.15 L237.95 597.48 L237.26 597.79 L236.58 598.09 L235.88 598.38 L235.19 598.66 L234.49 598.92 L233.78 599.18 L233.07 599.42 L232.36 599.66 L231.64 599.88 L230.92 600.09 L230.2 600.29 L229.48 600.48 L228.75 600.65 L228.01 600.82 L227.28 600.97 L226.54 601.11 L225.8 601.23 L225.06 601.34 L224.32 601.43 L223.57 601.5 L222.82 601.56 L222.07 601.59 L221.32 601.6 L220.57 601.58 L219.82 601.55 L219.08 601.5 L218.33 601.44 L217.58 601.35 L216.84 601.26 L216.1 601.15 L215.36 601.04 L214.61 600.92 L213.88 600.78 L213.14 600.64 L212.41 600.48 L211.68 600.31 L210.95 600.13 L210.23 599.94 L209.5 599.74 L208.78 599.53 L208.06 599.32 L207.35 599.1 L206.63 598.86 L205.92 598.62 L205.21 598.37 L204.51 598.13 L203.8 597.88 L203.09 597.63 L202.38 597.39 L201.68 597.13 L200.97 596.88 L200.26 596.62 L199.56 596.37 L198.86 596.11 L198.15 595.85 L197.45 595.6 L196.74 595.34 L196.03 595.09 L195.33 594.83 L194.63 594.58 L193.92 594.32 L193.21 594.07 L192.5 593.84 L191.78 593.62 L191.07 593.39 L190.36 593.15 L189.66 592.88 L188.96 592.61 L188.27 592.31 L187.58 592.01 L186.9 591.7 L186.23 591.37 L185.56 591.03 L184.89 590.7 L184.22 590.36 L183.55 590.02 L182.88 589.69 L182.21 589.34 L181.48 588.97 L180.71 588.56 L180.03 588.2 L179.55 587.95" fill="none" stroke="#ff0000" stroke-width="1.3"/>
<path d="M81.3 584.3L85 590.3L77.6 590.3Z"/>
<path d="M82.27 582.32L85.97 588.32L78.57 588.32Z"/>
<path d="M83.26 580.36L86.96 586.36L79.56 586.36Z"/>
<path d="M84.33 578.44L88.03 584.44L80.63 584.44Z"/>
<path d="M85.49 576.57L89.19 582.57L81.79 582.57Z"/>
<path d="M86.71 574.74L90.41 580.74L83.01 580.74Z"/>
<path d="M87.97 572.93L91.67 578.93L84.27 578.93Z"/>
<path d="M89.27 571.16L92.97 577.16L85.57 577.16Z"/>
<path d="M90.63 569.43L94.33 575.43L86.93 575.43Z"/>
<path d="M92.09 567.79L95.79 573.79L88.39 573.79Z"/>
<path d="M93.64 566.22L97.34 572.22L89.94 572.22Z"/>
<path d="M95.22 564.69L98.92 570.69L91.52 570.69Z"/>
<path d="M96.83 563.2L100.53 569.2L93.13 569.2Z"/>
<path d="M98.49 561.76L102.19 567.76L94.79 567.76Z"/>
<path d="M100.21 560.38L103.91 566.38L96.51 566.38Z"/>
<path d="M101.98 559.07L105.68 565.07L98.28 565.07Z"/>
<path d="M103.73 557.74L107.43 563.74L100.03 563.74Z"/>
<path d="M105.48 556.41L109.18 562.41L101.78 562.41Z"/>
<path d="M107.26 555.11L110.96 561.11L103.56 561.11Z"/>
<path d="M109.07 553.86L112.77 559.86L105.37 559.86Z"/>
<path d="M110.9 552.63L114.6 558.63L107.2 558.63Z"/>
<path d="M112.73 551.42L116.43 557.42L109.03 557.42Z"/>
<path d="M114.59 550.24L118.29 556.24L110.89 556.24Z"/>
<path d="M116.5 549.15L120.2 555.15L112.8 555.15Z"/>
<path d="M118.44 548.13L122.14 554.13L114.74 554.13Z"/>
<path d="M120.44 547.2L124.14 553.2L116.74 553.2Z"/>
<path d="M122.47 546.35L126.17 552.35L118.77 552.35Z"/>
<path d="M124.51 545.54L128.21 551.54L120.81 551.54Z"/>
<path d="M126.4 544.8L130.1 550.8L122.7 550.8Z"/>
<path d="M134 541.6L137.7 547.6L130.3 547.6Z"/>
<path d="M142.7 538.5L146.4 544.5L139 544.5Z"/>
<path d="M154.5 536.5L158.2 542.5L150.8 542.5Z"/>
<path d="M164.9 535.9L168.6 541.9L161.2 541.9Z"/>
<path d="M176 536.1L179.7 542.1L172.3 542.1Z"/>
<path d="M186.8 537.5L190.5 543.5L183.1 543.5Z"/>
<path d="M197.2 539.2L200.9 545.2L193.5 545.2Z"/>
<path d="M207 541.2L210.7 547.2L203.3 547.2Z"/>
<path d="M216.1 544.2L219.8 550.2L212.4 550.2Z"/>
<path d="M224.1 547.8L227.8 553.8L220.4 553.8Z"/>
<path d="M231.1 552.2L234.8 558.2L227.4 558.2Z"/>
<path d="M237.1 557.2L240.8 563.2L233.4 563.2Z"/>
<path d="M240.28 560.38L243.98 566.38L236.58 566.38Z"/>
<path d="M242.2 562.3L245.9 568.3L238.5 568.3Z"/>
<path d="M243.86 564.8L247.56 570.8L240.16 570.8Z"/>
<path d="M245.47 567.33L249.17 573.33L241.77 573.33Z"/>
<path d="M246.95 569.94L250.65 575.94L243.25 575.94Z"/>
<path d="M248.26 572.64L251.96 578.64L244.56 578.64Z"/>
<path d="M249.06 575.52L252.76 581.52L245.36 581.52Z"/>
<path d="M249.18 578.51L252.88 584.51L245.48 584.51Z"/>
<path d="M248.52 581.43L252.22 587.43L244.82 587.43Z"/>
<path d="M247.39 584.21L251.09 590.21L243.69 590.21Z"/>
<path d="M245.9 586.81L249.6 592.81L242.2 592.81Z"/>
<path d="M244 589.13L247.7 595.13L240.3 595.13Z"/>
<path d="M241.78 591.14L245.48 597.14L238.08 597.14Z"/>
<path d="M239.28 592.8L242.98 598.8L235.58 598.8Z"/>
<path d="M236.58 594.09L240.28 600.09L232.88 600.09Z"/>
<path d="M233.78 595.18L237.48 601.18L230.08 601.18Z"/>
<path d="M230.92 596.09L234.62 602.09L227.22 602.09Z"/>
<path d="M228.01 596.82L231.71 602.82L224.31 602.82Z"/>
<path d="M225.06 597.34L228.76 603.34L221.36 603.34Z"/>
<path d="M222.07 597.59L225.77 603.59L218.37 603.59Z"/>
<path d="M219.08 597.5L222.78 603.5L215.38 603.5Z"/>
<path d="M216.1 597.15L219.8 603.15L212.4 603.15Z"/>
<path d="M213.14 596.64L216.84 602.64L209.44 602.64Z"/>
<path d="M210.23 595.94L213.93 601.94L206.53 601.94Z"/>
<path d="M207.35 595.1L211.05 601.1L203.65 601.1Z"/>
<path d="M204.51 594.13L208.21 600.13L200.81 600.13Z"/>
<path d="M201.68 593.13L205.38 599.13L197.98 599.13Z"/>
<path d="M198.86 592.11L202.56 598.11L195.16 598.11Z"/>
<path d="M196.03 591.09L199.73 597.09L192.33 597.09Z"/>
<path d="M193.21 590.07L196.91 596.07L189.51 596.07Z"/>
<path d="M190.36 589.15L194.06 595.15L186.66 595.15Z"/>
<path d="M187.58 588.01L191.28 594.01L183.88 594.01Z"/>
<path d="M184.89 586.7L188.59 592.7L181.19 592.7Z"/>
<path d="M182.21 585.34L185.91 591.34L178.51 591.34Z"/>
<path d="M179.55 583.95L183.25 589.95L175.85 589.95Z"/>
</g>
<g fill="#008000"><path d="M114.3 588.6 L114.48 588.21 L114.73 587.64 L115.03 587.01 L115.32 586.43 L115.59 585.89 L115.88 585.37 L116.18 584.85 L116.51 584.35 L116.87 583.87 L117.25 583.41 L117.64 582.95 L118.02 582.49 L118.4 582.02 L118.77 581.55 L119.14 581.07 L119.5 580.6 L119.86 580.11 L120.21 579.63 L120.56 579.14 L120.92 578.66 L121.27 578.17 L121.62 577.69 L121.98 577.2 L122.33 576.72 L122.69 576.24 L123.05 575.76 L123.42 575.28 L123.78 574.8 L124.14 574.33 L124.5 573.85 L124.87 573.37 L125.23 572.9 L125.6 572.42 L125.97 571.95 L126.34 571.48 L126.71 571.01 L127.08 570.54 L127.46 570.07 L127.83 569.6 L128.21 569.13 L128.59 568.67 L128.98 568.21 L129.36 567.75 L129.75 567.29 L130.14 566.83 L130.53 566.38 L130.93 565.93 L131.33 565.48 L131.73 565.03 L132.13 564.59 L132.53 564.14 L132.94 563.71 L133.35 563.27 L133.77 562.84 L134.19 562.41 L134.61 561.98 L135.04 561.56 L135.47 561.15 L135.91 560.73 L136.34 560.32 L136.79 559.88 L137.26 559.44 L137.71 559.02 L138.08 558.67 L138.25 558.49 L138.26 558.44 L138.42 558.29 L139 557.8 L140.18 556.83 L141.78 555.53 L143.54 554.11 L145.2 552.8 L146.68 551.63 L148.13 550.49 L149.61 549.39 L151.2 548.3 L152.88 547.25 L154.63 546.23 L156.49 545.22 L158.5 544.2 L160.7 543.18 L163.05 542.16 L165.5 541.13 L168 540.1 L170.51 539.04 L173.06 537.95 L175.71 536.89 L178.5 535.9 L181.44 534.97 L184.49 534.08 L187.68 533.28 L191 532.6 L194.53 532.06 L198.24 531.64 L201.98 531.33 L205.6 531.1 L209.06 530.97 L212.45 530.94 L215.79 530.99 L219.1 531.1 L222.36 531.23 L225.56 531.41 L228.78 531.69 L232.1 532.1 L235.6 532.7 L239.21 533.44 L242.8 534.27 L246.2 535.1 L249.39 535.9 L252.45 536.71 L255.38 537.59 L258.2 538.6 L260.88 539.76 L263.44 541.04 L265.9 542.4 L268.3 543.8 L270.7 545.26 L273.06 546.79 L275.29 548.32 L277.3 549.8 L279.04 551.19 L280.58 552.54 L281.97 553.87 L283.3 555.2 L284.56 556.52 L285.71 557.83 L286.8 559.15 L287.86 560.51 L288.96 562.04 L290.06 563.68 L291.04 565.18 L291.77 566.31 L292.13 566.84 L292.22 566.96 L292.24 567 L292.4 567.3 L292.77 567.97 L293.23 568.82 L293.73 569.75 L294.18 570.66 L294.59 571.51 L294.99 572.38 L295.36 573.25 L295.71 574.13 L296.02 575.03 L296.31 575.94 L296.56 576.86 L296.76 577.78 L296.91 578.72 L297.01 579.67 L297.05 580.62 L297.02 581.56 L296.91 582.49 L296.73 583.43 L296.48 584.35 L296.2 585.26 L295.88 586.15 L295.51 587.03 L295.1 587.89 L294.65 588.72 L294.18 589.54 L293.66 590.35 L293.11 591.12 L292.53 591.87 L291.91 592.58 L291.25 593.27 L290.56 593.93 L289.84 594.54 L289.09 595.11 L288.29 595.64 L287.48 596.14 L286.67 596.62 L285.84 597.1 L285.01 597.55 L284.16 597.99 L283.31 598.41 L282.45 598.82 L281.59 599.2 L280.71 599.58 L279.84 599.96 L278.98 600.35 L278.11 600.75 L277.25 601.14 L276.38 601.52 L275.51 601.9 L274.63 602.27 L273.75 602.63 L272.87 602.98 L271.99 603.33 L271.1 603.68 L270.21 604.01 L269.31 604.31 L268.4 604.57 L267.48 604.8 L266.55 605.01 L265.62 605.19 L264.68 605.34 L263.74 605.47 L262.79 605.57 L261.84 605.61 L260.81 605.58 L259.72 605.49 L258.74 605.39 L258.06 605.32" fill="none" stroke="#008000" stroke-width="1.3"/>
<path d="M110.7 586.53L117.9 586.53L114.3 592.73Z"/>
<path d="M111.72 584.36L118.92 584.36L115.32 590.56Z"/>
<path d="M112.91 582.28L120.11 582.28L116.51 588.48Z"/>
<path d="M114.42 580.42L121.62 580.42L118.02 586.62Z"/>
<path d="M115.9 578.53L123.1 578.53L119.5 584.73Z"/>
<path d="M117.32 576.59L124.52 576.59L120.92 582.79Z"/>
<path d="M118.73 574.65L125.93 574.65L122.33 580.85Z"/>
<path d="M120.18 572.74L127.38 572.74L123.78 578.94Z"/>
<path d="M121.63 570.83L128.83 570.83L125.23 577.03Z"/>
<path d="M123.11 568.94L130.31 568.94L126.71 575.14Z"/>
<path d="M124.61 567.07L131.81 567.07L128.21 573.27Z"/>
<path d="M126.15 565.22L133.35 565.22L129.75 571.42Z"/>
<path d="M127.73 563.41L134.93 563.41L131.33 569.61Z"/>
<path d="M129.34 561.64L136.54 561.64L132.94 567.84Z"/>
<path d="M131.01 559.92L138.21 559.92L134.61 566.12Z"/>
<path d="M132.74 558.25L139.94 558.25L136.34 564.45Z"/>
<path d="M134.48 556.6L141.68 556.6L138.08 562.8Z"/>
<path d="M135.4 555.73L142.6 555.73L139 561.93Z"/>
<path d="M141.6 550.73L148.8 550.73L145.2 556.93Z"/>
<path d="M147.6 546.23L154.8 546.23L151.2 552.43Z"/>
<path d="M154.9 542.13L162.1 542.13L158.5 548.33Z"/>
<path d="M164.4 538.03L171.6 538.03L168 544.23Z"/>
<path d="M174.9 533.83L182.1 533.83L178.5 540.03Z"/>
<path d="M187.4 530.53L194.6 530.53L191 536.73Z"/>
<path d="M202 529.03L209.2 529.03L205.6 535.23Z"/>
<path d="M215.5 529.03L222.7 529.03L219.1 535.23Z"/>
<path d="M228.5 530.03L235.7 530.03L232.1 536.23Z"/>
<path d="M242.6 533.03L249.8 533.03L246.2 539.23Z"/>
<path d="M254.6 536.53L261.8 536.53L258.2 542.73Z"/>
<path d="M264.7 541.73L271.9 541.73L268.3 547.93Z"/>
<path d="M273.7 547.73L280.9 547.73L277.3 553.93Z"/>
<path d="M279.7 553.13L286.9 553.13L283.3 559.33Z"/>
<path d="M284.26 558.44L291.46 558.44L287.86 564.64Z"/>
<path d="M288.17 564.24L295.37 564.24L291.77 570.44Z"/>
<path d="M288.8 565.23L296 565.23L292.4 571.43Z"/>
<path d="M290.58 568.59L297.78 568.59L294.18 574.79Z"/>
<path d="M292.11 572.07L299.31 572.07L295.71 578.27Z"/>
<path d="M293.16 575.71L300.36 575.71L296.76 581.91Z"/>
<path d="M293.42 579.49L300.62 579.49L297.02 585.69Z"/>
<path d="M292.6 583.19L299.8 583.19L296.2 589.39Z"/>
<path d="M291.05 586.66L298.25 586.66L294.65 592.86Z"/>
<path d="M288.93 589.8L296.13 589.8L292.53 596Z"/>
<path d="M286.24 592.48L293.44 592.48L289.84 598.68Z"/>
<path d="M283.07 594.56L290.27 594.56L286.67 600.76Z"/>
<path d="M279.71 596.34L286.91 596.34L283.31 602.54Z"/>
<path d="M276.24 597.9L283.44 597.9L279.84 604.1Z"/>
<path d="M272.78 599.46L279.98 599.46L276.38 605.66Z"/>
<path d="M269.27 600.91L276.47 600.91L272.87 607.11Z"/>
<path d="M265.71 602.24L272.91 602.24L269.31 608.44Z"/>
<path d="M262.02 603.12L269.22 603.12L265.62 609.32Z"/>
<path d="M258.24 603.54L265.44 603.54L261.84 609.74Z"/>
<path d="M254.46 603.26L261.66 603.26L258.06 609.46Z"/>
</g>
<g fill="#800080"><path d="M107.4 588 L107.63 587.61 L107.95 587.05 L108.32 586.43 L108.67 585.85 L109 585.31 L109.33 584.78 L109.67 584.26 L110.01 583.74 L110.37 583.23 L110.74 582.72 L111.12 582.22 L111.49 581.72 L111.85 581.21 L112.22 580.71 L112.59 580.2 L112.96 579.7 L113.32 579.19 L113.68 578.68 L114.03 578.16 L114.39 577.65 L114.75 577.14 L115.11 576.63 L115.47 576.12 L115.84 575.61 L116.2 575.1 L116.56 574.59 L116.92 574.08 L117.28 573.57 L117.65 573.07 L118.02 572.56 L118.39 572.06 L118.77 571.56 L119.16 571.07 L119.55 570.59 L119.95 570.11 L120.35 569.63 L120.75 569.15 L121.16 568.67 L121.57 568.2 L121.98 567.73 L122.39 567.25 L122.79 566.78 L123.2 566.31 L123.61 565.83 L124.02 565.36 L124.44 564.9 L124.85 564.43 L125.26 563.95 L125.66 563.48 L126.07 563 L126.46 562.52 L126.86 562.03 L127.24 561.54 L127.63 561.05 L128.01 560.55 L128.39 560.06 L128.7 559.6 L128.96 559.17 L129.32 558.69 L129.9 558.06 L130.77 557.26 L131.84 556.34 L133.05 555.33 L134.3 554.3 L135.57 553.24 L136.91 552.12 L138.34 550.97 L139.9 549.8 L141.62 548.58 L143.48 547.31 L145.42 546.06 L147.4 544.9 L149.38 543.91 L151.41 543.02 L153.5 542.12 L155.7 541.1 L158.02 539.89 L160.44 538.56 L162.94 537.2 L165.5 535.9 L168.12 534.66 L170.81 533.44 L173.56 532.25 L176.4 531.1 L179.29 529.99 L182.24 528.92 L185.3 527.89 L188.5 526.9 L191.91 525.96 L195.49 525.06 L199.13 524.2 L202.7 523.4 L206.15 522.63 L209.54 521.89 L212.96 521.24 L216.5 520.7 L220.19 520.28 L223.97 519.97 L227.82 519.77 L231.7 519.7 L235.63 519.79 L239.62 520.03 L243.62 520.35 L247.6 520.7 L251.56 521.04 L255.53 521.41 L259.46 521.88 L263.3 522.5 L267.05 523.34 L270.74 524.35 L274.35 525.43 L277.9 526.5 L281.4 527.52 L284.85 528.54 L288.2 529.59 L291.4 530.7 L294.43 531.87 L297.31 533.08 L300.09 534.35 L302.8 535.7 L305.48 537.15 L308.09 538.69 L310.58 540.26 L312.9 541.8 L315.05 543.36 L317.04 544.94 L318.87 546.46 L320.5 547.8 L321.88 548.89 L323.03 549.81 L324.08 550.67 L325.14 551.6 L326.24 552.62 L327.31 553.68 L328.35 554.75 L329.36 555.86 L330.35 556.99 L331.3 558.15 L332.23 559.32 L333.14 560.52 L334.04 561.72 L334.92 562.94 L335.76 564.18 L336.55 565.45 L337.3 566.75 L338 568.08 L338.64 569.44 L339.2 570.82 L339.7 572.24 L340.12 573.68 L340.47 575.14 L340.72 576.61 L340.89 578.1 L340.98 579.6 L340.96 581.1 L340.82 582.58 L340.52 584.03 L340.08 585.47 L339.55 586.89 L338.98 588.28 L338.36 589.65 L337.68 590.99 L336.93 592.29 L336.12 593.54 L335.23 594.75 L334.27 595.9 L333.25 597.01 L332.18 598.05 L331.04 599.01 L329.83 599.91 L328.59 600.75 L327.31 601.54 L326.02 602.29 L324.69 602.99 L323.33 603.64 L321.95 604.22 L320.55 604.74 L319.11 605.18 L317.67 605.59 L316.21 605.97 L314.76 606.34 L313.3 606.69 L311.83 607 L310.36 607.25 L308.87 607.44 L307.38 607.57 L305.88 607.67 L304.38 607.75 L302.77 607.83 L301.08 607.89 L299.54 607.93 L298.39 607.97 L297.83 607.99 L297.69 608.01 L297.63 608.01 L297.3 608 L296.58 607.99 L295.66 607.96 L294.66 607.93 L293.7 607.88 L292.8 607.82 L291.91 607.75 L291.01 607.66 L290.12 607.55 L289.23 607.43 L288.34 607.29 L287.45 607.13 L286.57 606.94 L285.7 606.73 L284.83 606.48 L283.97 606.21 L283.12 605.92 L282.28 605.61 L281.45 605.27 L280.62 604.92 L279.79 604.56 L278.97 604.19 L278.16 603.81 L277.35 603.42 L276.54 603.02 L275.73 602.62 L274.93 602.21 L274.13 601.8 L273.32 601.41 L272.5 601.03 L271.68 600.66 L270.86 600.29 L270.04 599.93 L269.22 599.56 L268.4 599.19 L267.58 598.82 L266.76 598.44 L265.95 598.05 L265.14 597.66 L264.33 597.27 L263.52 596.86 L262.72 596.45 L261.92 596.04 L261.13 595.61 L260.34 595.18 L259.55 594.74 L258.77 594.3 L257.99 593.85 L257.22 593.39 L256.45 592.93 L255.68 592.46 L254.91 591.98 L254.15 591.5 L253.38 591 L252.59 590.49 L251.83 589.98 L251.14 589.53 L250.5 589.1 L249.88 588.69 L249.36 588.34 L249 588.1" fill="none" stroke="#800080" stroke-width="1.3"/>
<path d="M107.4 583.85L111.15 588L107.4 592.15L103.65 588Z"/>
<path d="M108.67 581.7L112.42 585.85L108.67 590L104.92 585.85Z"/>
<path d="M110.01 579.59L113.76 583.74L110.01 587.89L106.26 583.74Z"/>
<path d="M111.49 577.57L115.24 581.72L111.49 585.87L107.74 581.72Z"/>
<path d="M112.96 575.55L116.71 579.7L112.96 583.85L109.21 579.7Z"/>
<path d="M114.39 573.5L118.14 577.65L114.39 581.8L110.64 577.65Z"/>
<path d="M115.84 571.46L119.59 575.61L115.84 579.76L112.09 575.61Z"/>
<path d="M117.28 569.42L121.03 573.57L117.28 577.72L113.53 573.57Z"/>
<path d="M118.77 567.41L122.52 571.56L118.77 575.71L115.02 571.56Z"/>
<path d="M120.35 565.48L124.1 569.63L120.35 573.78L116.6 569.63Z"/>
<path d="M121.98 563.58L125.73 567.73L121.98 571.88L118.23 567.73Z"/>
<path d="M123.61 561.68L127.36 565.83L123.61 569.98L119.86 565.83Z"/>
<path d="M125.26 559.8L129.01 563.95L125.26 568.1L121.51 563.95Z"/>
<path d="M126.86 557.88L130.61 562.03L126.86 566.18L123.11 562.03Z"/>
<path d="M128.39 555.91L132.14 560.06L128.39 564.21L124.64 560.06Z"/>
<path d="M129.9 553.91L133.65 558.06L129.9 562.21L126.15 558.06Z"/>
<path d="M134.3 550.15L138.05 554.3L134.3 558.45L130.55 554.3Z"/>
<path d="M139.9 545.65L143.65 549.8L139.9 553.95L136.15 549.8Z"/>
<path d="M147.4 540.75L151.15 544.9L147.4 549.05L143.65 544.9Z"/>
<path d="M155.7 536.95L159.45 541.1L155.7 545.25L151.95 541.1Z"/>
<path d="M165.5 531.75L169.25 535.9L165.5 540.05L161.75 535.9Z"/>
<path d="M176.4 526.95L180.15 531.1L176.4 535.25L172.65 531.1Z"/>
<path d="M188.5 522.75L192.25 526.9L188.5 531.05L184.75 526.9Z"/>
<path d="M202.7 519.25L206.45 523.4L202.7 527.55L198.95 523.4Z"/>
<path d="M216.5 516.55L220.25 520.7L216.5 524.85L212.75 520.7Z"/>
<path d="M231.7 515.55L235.45 519.7L231.7 523.85L227.95 519.7Z"/>
<path d="M247.6 516.55L251.35 520.7L247.6 524.85L243.85 520.7Z"/>
<path d="M263.3 518.35L267.05 522.5L263.3 526.65L259.55 522.5Z"/>
<path d="M277.9 522.35L281.65 526.5L277.9 530.65L274.15 526.5Z"/>
<path d="M291.4 526.55L295.15 530.7L291.4 534.85L287.65 530.7Z"/>
<path d="M302.8 531.55L306.55 535.7L302.8 539.85L299.05 535.7Z"/>
<path d="M312.9 537.65L316.65 541.8L312.9 545.95L309.15 541.8Z"/>
<path d="M320.5 543.65L324.25 547.8L320.5 551.95L316.75 547.8Z"/>
<path d="M325.14 547.45L328.89 551.6L325.14 555.75L321.39 551.6Z"/>
<path d="M329.36 551.71L333.11 555.86L329.36 560.01L325.61 555.86Z"/>
<path d="M333.14 556.37L336.89 560.52L333.14 564.67L329.39 560.52Z"/>
<path d="M336.55 561.3L340.3 565.45L336.55 569.6L332.8 565.45Z"/>
<path d="M339.2 566.67L342.95 570.82L339.2 574.97L335.45 570.82Z"/>
<path d="M340.72 572.46L344.47 576.61L340.72 580.76L336.97 576.61Z"/>
<path d="M340.82 578.43L344.57 582.58L340.82 586.73L337.07 582.58Z"/>
<path d="M338.98 584.13L342.73 588.28L338.98 592.43L335.23 588.28Z"/>
<path d="M336.12 589.39L339.87 593.54L336.12 597.69L332.37 593.54Z"/>
<path d="M332.18 593.9L335.93 598.05L332.18 602.2L328.43 598.05Z"/>
<path d="M327.31 597.39L331.06 601.54L327.31 605.69L323.56 601.54Z"/>
<path d="M321.95 600.07L325.7 604.22L321.95 608.37L318.2 604.22Z"/>
<path d="M316.21 601.82L319.96 605.97L316.21 610.12L312.46 605.97Z"/>
<path d="M310.36 603.1L314.11 607.25L310.36 611.4L306.61 607.25Z"/>
<path d="M304.38 603.6L308.13 607.75L304.38 611.9L300.63 607.75Z"/>
<path d="M298.39 603.82L302.14 607.97L298.39 612.12L294.64 607.97Z"/>
<path d="M297.3 603.85L301.05 608L297.3 612.15L293.55 608Z"/>
<path d="M293.7 603.73L297.45 607.88L293.7 612.03L289.95 607.88Z"/>
<path d="M290.12 603.4L293.87 607.55L290.12 611.7L286.37 607.55Z"/>
<path d="M286.57 602.79L290.32 606.94L286.57 611.09L282.82 606.94Z"/>
<path d="M283.12 601.77L286.87 605.92L283.12 610.07L279.37 605.92Z"/>
<path d="M279.79 600.41L283.54 604.56L279.79 608.71L276.04 604.56Z"/>
<path d="M276.54 598.87L280.29 603.02L276.54 607.17L272.79 603.02Z"/>
<path d="M273.32 597.26L277.07 601.41L273.32 605.56L269.57 601.41Z"/>
<path d="M270.04 595.78L273.79 599.93L270.04 604.08L266.29 599.93Z"/>
<path d="M266.76 594.29L270.51 598.44L266.76 602.59L263.01 598.44Z"/>
<path d="M263.52 592.71L267.27 596.86L263.52 601.01L259.77 596.86Z"/>
<path d="M260.34 591.03L264.09 595.18L260.34 599.33L256.59 595.18Z"/>
<path d="M257.22 589.24L260.97 593.39L257.22 597.54L253.47 593.39Z"/>
<path d="M254.15 587.35L257.9 591.5L254.15 595.65L250.4 591.5Z"/>
<path d="M251.14 585.38L254.89 589.53L251.14 593.68L247.39 589.53Z"/>
<path d="M249 583.95L252.75 588.1L249 592.25L245.25 588.1Z"/>
</g>
<rect x="64.4" y="371" width="312.1" height="247.2" fill="none" stroke="#000" stroke-width="2"/>
<line x1="61.4" y1="607.68" x2="64.4" y2="607.68" stroke="#000" stroke-width="2"/>
<line x1="59.4" y1="587" x2="64.4" y2="587" stroke="#000" stroke-width="2"/>
<line x1="61.4" y1="566.32" x2="64.4" y2="566.32" stroke="#000" stroke-width="2"/>
<line x1="59.4" y1="545.64" x2="64.4" y2="545.64" stroke="#000" stroke-width="2"/>
<line x1="61.4" y1="524.96" x2="64.4" y2="524.96" stroke="#000" stroke-width="2"/>
<line x1="59.4" y1="504.28" x2="64.4" y2="504.28" stroke="#000" stroke-width="2"/>
<line x1="61.4" y1="483.6" x2="64.4" y2="483.6" stroke="#000" stroke-width="2"/>
<line x1="59.4" y1="462.92" x2="64.4" y2="462.92" stroke="#000" stroke-width="2"/>
<line x1="61.4" y1="442.24" x2="64.4" y2="442.24" stroke="#000" stroke-width="2"/>
<line x1="59.4" y1="421.56" x2="64.4" y2="421.56" stroke="#000" stroke-width="2"/>
<line x1="61.4" y1="400.88" x2="64.4" y2="400.88" stroke="#000" stroke-width="2"/>
<line x1="59.4" y1="380.2" x2="64.4" y2="380.2" stroke="#000" stroke-width="2"/>
<line x1="64.3" y1="618.2" x2="64.3" y2="623.2" stroke="#000" stroke-width="2"/>
<line x1="90.25" y1="618.2" x2="90.25" y2="621.2" stroke="#000" stroke-width="2"/>
<line x1="116.2" y1="618.2" x2="116.2" y2="623.2" stroke="#000" stroke-width="2"/>
<line x1="142.15" y1="618.2" x2="142.15" y2="621.2" stroke="#000" stroke-width="2"/>
<line x1="168.1" y1="618.2" x2="168.1" y2="623.2" stroke="#000" stroke-width="2"/>
<line x1="194.05" y1="618.2" x2="194.05" y2="621.2" stroke="#000" stroke-width="2"/>
<line x1="220" y1="618.2" x2="220" y2="623.2" stroke="#000" stroke-width="2"/>
<line x1="245.95" y1="618.2" x2="245.95" y2="621.2" stroke="#000" stroke-width="2"/>
<line x1="271.9" y1="618.2" x2="271.9" y2="623.2" stroke="#000" stroke-width="2"/>
<line x1="297.85" y1="618.2" x2="297.85" y2="621.2" stroke="#000" stroke-width="2"/>
<line x1="323.8" y1="618.2" x2="323.8" y2="623.2" stroke="#000" stroke-width="2"/>
<line x1="349.75" y1="618.2" x2="349.75" y2="621.2" stroke="#000" stroke-width="2"/>
<line x1="375.7" y1="618.2" x2="375.7" y2="623.2" stroke="#000" stroke-width="2"/>
<text x="47.78" y="591.9" style="font-size:14px;font-weight:bold;fill:#222;">0</text>
<text x="47.76" y="550.54" style="font-size:14px;font-weight:bold;fill:#222;">2</text>
<text x="47.29" y="509.18" style="font-size:14px;font-weight:bold;fill:#222;">4</text>
<text x="47.71" y="467.82" style="font-size:14px;font-weight:bold;fill:#222;">6</text>
<text x="47.64" y="426.46" style="font-size:14px;font-weight:bold;fill:#222;">8</text>
<text x="39.99" y="385.1" style="font-size:14px;font-weight:bold;fill:#222;">10</text>
<text x="60.41" y="636.8" style="font-size:14px;font-weight:bold;fill:#222;">0</text>
<text x="112.34" y="636.8" style="font-size:14px;font-weight:bold;fill:#222;">2</text>
<text x="164.14" y="636.8" style="font-size:14px;font-weight:bold;fill:#222;">4</text>
<text x="216.1" y="636.8" style="font-size:14px;font-weight:bold;fill:#222;">6</text>
<text x="268" y="636.8" style="font-size:14px;font-weight:bold;fill:#222;">8</text>
<text x="315.86" y="636.8" style="font-size:14px;font-weight:bold;fill:#222;">10</text>
<text x="367.75" y="636.8" style="font-size:14px;font-weight:bold;fill:#222;">12</text>
<g transform="translate(0,0)"><text transform="translate(73.08,392.8) scale(0.94,1)" style="font-size:14px;font-weight:bold;fill:#222;">15 wt.%</text><text transform="translate(129.89,392.8) scale(0.88,1)" style="font-size:14px;font-weight:bold;fill:#222;">HC</text><text x="149.28" y="392.8" style="font-size:14px;font-weight:bold;fill:#222;">I</text><text x="152.86" y="392.8" style="font-size:14px;font-weight:bold;fill:#222;">:</text><text transform="translate(161.54,392.8) scale(1.05,1)" style="font-size:14px;font-weight:bold;fill:#222;">80</text><text transform="translate(178.75,389.2) scale(0.86,1)" style="font-size:10px;font-weight:bold;fill:#222;">O</text><text transform="translate(185.86,392.8) scale(0.94,1)" style="font-size:14px;font-weight:bold;fill:#222;">C</text></g>
<g transform="translate(0,0)"><text transform="translate(177.74,667.4) scale(0.99,1)" style="font-size:16px;font-weight:bold;">Z</text><text transform="translate(186.82,671.6) scale(1.1,1)" style="font-size:15px;font-weight:bold;">re</text><text x="204.36" y="667.2" style="font-size:15px;font-weight:bold;">(</text><text transform="translate(209.73,667.2) scale(1.49,1)" style="font-size:14px;font-weight:normal;">Ω</text><text transform="translate(226.25,667.2) scale(0.94,1)" style="font-size:15px;font-weight:bold;">cm</text><text transform="translate(247.76,660.2) scale(1.07,1)" style="font-size:12px;font-weight:bold;">2</text><text x="257.29" y="667.2" style="font-size:15px;font-weight:bold;">)</text></g>
<g transform="translate(30.6,544.8) rotate(-90)"><text transform="translate(-0.19,0) scale(0.8,1)" style="font-size:15px;font-weight:bold;">−</text><text transform="translate(7.93,0.2) scale(1.02,1)" style="font-size:16px;font-weight:bold;">Z</text><text transform="translate(17.68,2.7) scale(0.89,1)" style="font-size:15px;font-weight:bold;">img</text><text x="42.87" y="0" style="font-size:15px;font-weight:bold;">(</text><text transform="translate(50.39,0) scale(1.21,1)" style="font-size:14px;font-weight:normal;">Ω</text><text transform="translate(64.74,0) scale(0.96,1)" style="font-size:15px;font-weight:bold;">cm</text><text transform="translate(85.76,-8.6) scale(1.12,1)" style="font-size:11.5px;font-weight:bold;">2</text><text x="94.98" y="0" style="font-size:15px;font-weight:bold;">)</text></g>
<rect x="231.4" y="375.6" width="139.6" height="82.8" fill="#fff" stroke="#111" stroke-width="1.2"/>
<line x1="232.6" y1="385.1" x2="260.7" y2="385.1" stroke="#000000" stroke-width="1.3"/>
<g fill="#000000"><rect x="244.3" y="382.3" width="5.6" height="5.6"/></g>
<text transform="translate(265.06,389.4) scale(1.04,1)" style="font-size:12.2px;font-weight:normal;fill:#222;">Blank</text>
<line x1="232.6" y1="401.1" x2="260.7" y2="401.1" stroke="#0000ff" stroke-width="1.3"/>
<g fill="#0000ff"><circle cx="247.1" cy="401.1" r="3.25"/></g>
<text transform="translate(266.07,405.4) scale(1.04,1)" style="font-size:12.2px;font-weight:normal;fill:#222;">Aspartame</text>
<line x1="232.6" y1="417.6" x2="260.7" y2="417.6" stroke="#ff0000" stroke-width="1.3"/>
<g fill="#ff0000"><path d="M247.1 413.6L250.8 419.6L243.4 419.6Z"/></g>
<text transform="translate(266.07,421.9) scale(1.04,1)" style="font-size:12.2px;font-weight:normal;fill:#222;">Aspartame + SDS</text>
<line x1="232.6" y1="433.3" x2="260.7" y2="433.3" stroke="#008000" stroke-width="1.3"/>
<g fill="#008000"><path d="M243.5 431.23L250.7 431.23L247.1 437.43Z"/></g>
<text transform="translate(266.07,437.6) scale(1.04,1)" style="font-size:12.2px;font-weight:normal;fill:#222;">Aspartame + KI</text>
<line x1="232.6" y1="449.3" x2="260.7" y2="449.3" stroke="#800080" stroke-width="1.3"/>
<g fill="#800080"><path d="M247.1 445.15L250.85 449.3L247.1 453.45L243.35 449.3Z"/></g>
<text transform="translate(265.06,453.6) scale(1.04,1)" style="font-size:12.2px;font-weight:normal;fill:#222;">Formulation</text>
<g fill="#000000"><path d="M512.5 587.5 L512.73 586.86 L513.06 585.95 L513.48 584.94 L514 584 L514.63 583.14 L515.38 582.27 L516.18 581.47 L517 580.8 L517.84 580.28 L518.72 579.88 L519.61 579.56 L520.5 579.3 L521.38 579.09 L522.25 578.96 L523.12 578.87 L524 578.8 L524.89 578.74 L525.78 578.69 L526.66 578.7 L527.5 578.8 L528.32 578.99 L529.12 579.24 L529.87 579.58 L530.5 580 L531.05 580.5 L531.53 581.08 L531.87 581.74 L532 582.5 L531.73 583.52 L531.16 584.74 L530.63 585.84 L530.5 586.5 L530.93 586.53 L531.72 586.12 L532.64 585.59 L533.5 585.2 L534.25 585.03 L535 584.92 L535.75 584.85 L536.5 584.8 L537.25 584.77 L538 584.77 L538.75 584.79 L539.5 584.8 L540.25 584.8 L541 584.8 L541.75 584.8 L542.5 584.8 L543.32 584.8 L544.19 584.8 L544.96 584.8 L545.5 584.8" fill="none" stroke="#000000" stroke-width="1.3"/>
<rect x="509.7" y="584.7" width="5.6" height="5.6"/>
<rect x="511.2" y="581.2" width="5.6" height="5.6"/>
<rect x="514.2" y="578" width="5.6" height="5.6"/>
<rect x="517.7" y="576.5" width="5.6" height="5.6"/>
<rect x="521.2" y="576" width="5.6" height="5.6"/>
<rect x="524.7" y="576" width="5.6" height="5.6"/>
<rect x="527.7" y="577.2" width="5.6" height="5.6"/>
<rect x="529.2" y="579.7" width="5.6" height="5.6"/>
<rect x="527.7" y="583.7" width="5.6" height="5.6"/>
<rect x="530.7" y="582.4" width="5.6" height="5.6"/>
<rect x="533.7" y="582" width="5.6" height="5.6"/>
<rect x="536.7" y="582" width="5.6" height="5.6"/>
<rect x="539.7" y="582" width="5.6" height="5.6"/>
<rect x="542.7" y="582" width="5.6" height="5.6"/>
</g>
<g fill="#0000ff"><path d="M483.8 585.3 L483.93 584.97 L484.12 584.49 L484.34 583.95 L484.54 583.44 L484.72 582.98 L484.91 582.51 L485.1 582.05 L485.29 581.59 L485.49 581.13 L485.68 580.67 L485.89 580.21 L486.11 579.76 L486.34 579.32 L486.58 578.88 L486.83 578.45 L487.09 578.02 L487.36 577.6 L487.65 577.19 L487.94 576.79 L488.24 576.39 L488.54 575.99 L488.84 575.59 L489.15 575.19 L489.45 574.79 L489.74 574.39 L490.03 573.98 L490.32 573.57 L490.61 573.16 L490.89 572.75 L491.17 572.33 L491.44 571.92 L491.72 571.5 L492 571.09 L492.28 570.68 L492.57 570.26 L492.86 569.86 L493.16 569.46 L493.46 569.06 L493.77 568.66 L494.08 568.27 L494.39 567.88 L494.71 567.5 L495.04 567.12 L495.36 566.74 L495.69 566.37 L496.03 565.99 L496.36 565.62 L496.7 565.25 L497.04 564.89 L497.38 564.52 L497.72 564.16 L498.07 563.8 L498.42 563.44 L498.77 563.08 L499.12 562.73 L499.48 562.38 L499.84 562.03 L500.2 561.68 L500.57 561.34 L500.94 561.01 L501.31 560.67 L501.68 560.34 L502.06 560.02 L502.45 559.7 L502.83 559.38 L503.22 559.07 L503.62 558.76 L504.01 558.45 L504.41 558.15 L504.81 557.85 L505.21 557.55 L505.62 557.26 L506.02 556.97 L506.43 556.68 L506.84 556.39 L507.25 556.1 L507.66 555.82 L508.08 555.54 L508.49 555.26 L508.91 554.99 L509.33 554.72 L509.75 554.45 L510.18 554.19 L510.6 553.93 L511.03 553.67 L511.46 553.41 L511.89 553.15 L512.33 552.91 L512.77 552.67 L513.21 552.44 L513.65 552.21 L514.11 552 L514.56 551.8 L515.03 551.61 L515.49 551.42 L515.96 551.25 L516.43 551.07 L516.9 550.91 L517.37 550.75 L517.85 550.59 L518.32 550.43 L518.79 550.27 L519.27 550.11 L519.74 549.95 L520.22 549.8 L520.71 549.64 L521.18 549.49 L521.65 549.35 L521.97 549.27 L522.18 549.23 L522.57 549.11 L523.4 548.8 L524.78 548.23 L526.56 547.48 L528.61 546.61 L530.8 545.7 L533.24 544.68 L535.94 543.54 L538.68 542.43 L541.2 541.5 L543.37 540.81 L545.34 540.27 L547.32 539.83 L549.5 539.4 L551.97 538.98 L554.62 538.61 L557.33 538.28 L560 538 L562.61 537.78 L565.21 537.61 L567.8 537.49 L570.4 537.4 L572.99 537.33 L575.57 537.3 L578.16 537.32 L580.8 537.4 L583.55 537.58 L586.38 537.84 L589.15 538.13 L591.7 538.4 L593.88 538.62 L595.81 538.83 L597.76 539.07 L600 539.4 L602.68 539.82 L605.62 540.31 L608.63 540.87 L611.5 541.5 L614.23 542.23 L616.9 543.04 L619.47 543.88 L621.9 544.7 L624.15 545.46 L626.24 546.19 L628.24 546.95 L630.2 547.8 L632.12 548.76 L633.98 549.79 L635.77 550.88 L637.5 552 L639.21 553.2 L640.89 554.48 L642.44 555.71 L643.8 556.8 L644.88 557.66 L645.75 558.38 L646.52 559.05 L647.31 559.77 L648.17 560.54 L649.01 561.33 L649.83 562.13 L650.6 562.98 L651.36 563.91 L652.09 564.9 L652.75 565.86 L653.33 566.68 L653.76 567.29 L654.09 567.76 L654.38 568.19 L654.7 568.7 L655.06 569.31 L655.43 569.97 L655.79 570.65 L656.15 571.33 L656.49 571.99 L656.84 572.66 L657.17 573.33 L657.47 574.02 L657.73 574.72 L657.96 575.44 L658.17 576.16 L658.34 576.89 L658.5 577.62 L658.63 578.36 L658.72 579.11 L658.78 579.85 L658.79 580.6 L658.78 581.35 L658.72 582.1 L658.61 582.84 L658.45 583.56 L658.23 584.28 L657.98 584.99 L657.7 585.69 L657.41 586.38 L657.1 587.06 L656.76 587.73 L656.39 588.39 L656.02 589.03 L655.62 589.67 L655.2 590.29 L654.75 590.9 L654.29 591.49 L653.8 592.06 L653.3 592.61 L652.78 593.15 L652.24 593.67 L651.68 594.17 L651.11 594.66 L650.52 595.12 L649.92 595.57 L649.3 596 L648.68 596.41 L648.04 596.81 L647.39 597.19 L646.73 597.55 L646.07 597.89 L645.39 598.21 L644.71 598.52 L644.02 598.81 L643.32 599.09 L642.61 599.34 L641.9 599.58 L641.18 599.8 L640.46 600 L639.73 600.18 L639 600.34 L638.26 600.48 L637.52 600.59 L636.78 600.68 L636.03 600.74 L635.28 600.77 L634.53 600.78 L633.78 600.77 L633.03 600.75 L632.28 600.7 L631.54 600.63 L630.79 600.54 L630.05 600.44 L629.31 600.32 L628.57 600.19 L627.84 600.04 L627.1 599.87 L626.38 599.69 L625.65 599.49 L624.93 599.28 L624.22 599.05 L623.52 598.79 L622.81 598.53 L622.12 598.25 L621.42 597.97 L620.74 597.67 L620.05 597.36 L619.37 597.05 L618.68 596.74 L618 596.43 L617.32 596.11 L616.65 595.78 L615.98 595.45 L615.31 595.11 L614.64 594.78 L613.97 594.44 L613.3 594.1 L612.63 593.77 L611.95 593.43 L611.28 593.1 L610.61 592.77 L609.94 592.44 L609.26 592.11 L608.59 591.77 L607.92 591.43 L607.26 591.09 L606.59 590.75 L605.92 590.4 L605.26 590.06 L604.59 589.71 L603.93 589.35 L603.28 588.98 L602.64 588.59 L602.01 588.19 L601.39 587.77 L600.78 587.33 L600.19 586.86 L599.62 586.38 L599.06 585.88 L598.48 585.4 L597.84 584.89 L597.16 584.35 L596.55 583.88 L596.12 583.55" fill="none" stroke="#0000ff" stroke-width="1.3"/>
<circle cx="483.8" cy="585.3" r="3.25"/>
<circle cx="484.54" cy="583.44" r="3.25"/>
<circle cx="485.29" cy="581.59" r="3.25"/>
<circle cx="486.11" cy="579.76" r="3.25"/>
<circle cx="487.09" cy="578.02" r="3.25"/>
<circle cx="488.24" cy="576.39" r="3.25"/>
<circle cx="489.45" cy="574.79" r="3.25"/>
<circle cx="490.61" cy="573.16" r="3.25"/>
<circle cx="491.72" cy="571.5" r="3.25"/>
<circle cx="492.86" cy="569.86" r="3.25"/>
<circle cx="494.08" cy="568.27" r="3.25"/>
<circle cx="495.36" cy="566.74" r="3.25"/>
<circle cx="496.7" cy="565.25" r="3.25"/>
<circle cx="498.07" cy="563.8" r="3.25"/>
<circle cx="499.48" cy="562.38" r="3.25"/>
<circle cx="500.94" cy="561.01" r="3.25"/>
<circle cx="502.45" cy="559.7" r="3.25"/>
<circle cx="504.01" cy="558.45" r="3.25"/>
<circle cx="505.62" cy="557.26" r="3.25"/>
<circle cx="507.25" cy="556.1" r="3.25"/>
<circle cx="508.91" cy="554.99" r="3.25"/>
<circle cx="510.6" cy="553.93" r="3.25"/>
<circle cx="512.33" cy="552.91" r="3.25"/>
<circle cx="514.11" cy="552" r="3.25"/>
<circle cx="515.96" cy="551.25" r="3.25"/>
<circle cx="517.85" cy="550.59" r="3.25"/>
<circle cx="519.74" cy="549.95" r="3.25"/>
<circle cx="521.65" cy="549.35" r="3.25"/>
<circle cx="523.4" cy="548.8" r="3.25"/>
<circle cx="530.8" cy="545.7" r="3.25"/>
<circle cx="541.2" cy="541.5" r="3.25"/>
<circle cx="549.5" cy="539.4" r="3.25"/>
<circle cx="560" cy="538" r="3.25"/>
<circle cx="570.4" cy="537.4" r="3.25"/>
<circle cx="580.8" cy="537.4" r="3.25"/>
<circle cx="591.7" cy="538.4" r="3.25"/>
<circle cx="600" cy="539.4" r="3.25"/>
<circle cx="611.5" cy="541.5" r="3.25"/>
<circle cx="621.9" cy="544.7" r="3.25"/>
<circle cx="630.2" cy="547.8" r="3.25"/>
<circle cx="637.5" cy="552" r="3.25"/>
<circle cx="643.8" cy="556.8" r="3.25"/>
<circle cx="647.31" cy="559.77" r="3.25"/>
<circle cx="650.6" cy="562.98" r="3.25"/>
<circle cx="653.33" cy="566.68" r="3.25"/>
<circle cx="654.7" cy="568.7" r="3.25"/>
<circle cx="656.15" cy="571.33" r="3.25"/>
<circle cx="657.47" cy="574.02" r="3.25"/>
<circle cx="658.34" cy="576.89" r="3.25"/>
<circle cx="658.78" cy="579.85" r="3.25"/>
<circle cx="658.61" cy="582.84" r="3.25"/>
<circle cx="657.7" cy="585.69" r="3.25"/>
<circle cx="656.39" cy="588.39" r="3.25"/>
<circle cx="654.75" cy="590.9" r="3.25"/>
<circle cx="652.78" cy="593.15" r="3.25"/>
<circle cx="650.52" cy="595.12" r="3.25"/>
<circle cx="648.04" cy="596.81" r="3.25"/>
<circle cx="645.39" cy="598.21" r="3.25"/>
<circle cx="642.61" cy="599.34" r="3.25"/>
<circle cx="639.73" cy="600.18" r="3.25"/>
<circle cx="636.78" cy="600.68" r="3.25"/>
<circle cx="633.78" cy="600.77" r="3.25"/>
<circle cx="630.79" cy="600.54" r="3.25"/>
<circle cx="627.84" cy="600.04" r="3.25"/>
<circle cx="624.93" cy="599.28" r="3.25"/>
<circle cx="622.12" cy="598.25" r="3.25"/>
<circle cx="619.37" cy="597.05" r="3.25"/>
<circle cx="616.65" cy="595.78" r="3.25"/>
<circle cx="613.97" cy="594.44" r="3.25"/>
<circle cx="611.28" cy="593.1" r="3.25"/>
<circle cx="608.59" cy="591.77" r="3.25"/>
<circle cx="605.92" cy="590.4" r="3.25"/>
<circle cx="603.28" cy="588.98" r="3.25"/>
<circle cx="600.78" cy="587.33" r="3.25"/>
<circle cx="598.48" cy="585.4" r="3.25"/>
<circle cx="596.12" cy="583.55" r="3.25"/>
</g>
<g fill="#ff0000"><path d="M478.8 584.9 L478.95 584.57 L479.17 584.11 L479.41 583.58 L479.64 583.09 L479.85 582.63 L480.06 582.18 L480.28 581.73 L480.5 581.28 L480.72 580.83 L480.94 580.38 L481.17 579.94 L481.41 579.5 L481.66 579.06 L481.91 578.63 L482.16 578.2 L482.42 577.77 L482.68 577.35 L482.95 576.93 L483.22 576.5 L483.49 576.08 L483.76 575.66 L484.04 575.25 L484.31 574.83 L484.59 574.41 L484.87 574 L485.16 573.59 L485.44 573.18 L485.73 572.77 L486.02 572.36 L486.31 571.96 L486.6 571.55 L486.9 571.14 L487.19 570.74 L487.47 570.33 L487.76 569.92 L488.05 569.51 L488.35 569.11 L488.64 568.71 L488.94 568.31 L489.25 567.91 L489.56 567.52 L489.88 567.13 L490.2 566.75 L490.53 566.37 L490.85 565.99 L491.19 565.62 L491.53 565.25 L491.88 564.9 L492.24 564.55 L492.61 564.21 L492.98 563.89 L493.37 563.57 L493.76 563.26 L494.16 562.96 L494.57 562.67 L494.97 562.37 L495.37 562.08 L495.78 561.78 L496.18 561.48 L496.58 561.19 L496.98 560.88 L497.38 560.58 L497.77 560.27 L498.17 559.97 L498.57 559.67 L498.97 559.37 L499.37 559.07 L499.77 558.77 L500.17 558.48 L500.58 558.18 L500.99 557.9 L501.4 557.61 L501.81 557.32 L502.22 557.04 L502.63 556.76 L503.05 556.48 L503.46 556.19 L503.87 555.91 L504.29 555.63 L504.7 555.35 L505.11 555.07 L505.53 554.79 L505.94 554.51 L506.36 554.23 L506.77 553.95 L507.19 553.67 L507.6 553.4 L508.02 553.12 L508.44 552.85 L508.86 552.57 L509.28 552.3 L509.7 552.03 L510.12 551.77 L510.55 551.51 L510.98 551.26 L511.42 551.01 L511.86 550.77 L512.3 550.55 L512.75 550.32 L513.2 550.1 L513.64 549.87 L514.09 549.65 L514.54 549.43 L514.99 549.2 L515.45 548.97 L515.93 548.73 L516.38 548.51 L516.78 548.31 L516.93 548.22 L516.92 548.19 L517.09 548.1 L517.8 547.8 L519.24 547.22 L521.19 546.44 L523.37 545.57 L525.5 544.7 L527.53 543.85 L529.59 542.98 L531.71 542.07 L533.9 541.1 L536.16 540 L538.47 538.8 L540.86 537.65 L543.3 536.7 L545.82 536.01 L548.41 535.51 L551.05 535.09 L553.7 534.7 L556.34 534.3 L558.99 533.94 L561.7 533.63 L564.5 533.4 L567.43 533.27 L570.47 533.22 L573.54 533.21 L576.6 533.2 L579.64 533.15 L582.7 533.09 L585.73 533.09 L588.7 533.2 L591.58 533.46 L594.39 533.83 L597.18 534.25 L600 534.7 L602.87 535.13 L605.77 535.58 L608.66 536.09 L611.5 536.7 L614.31 537.46 L617.11 538.34 L619.85 539.25 L622.5 540.1 L625.07 540.83 L627.56 541.5 L629.98 542.2 L632.3 543 L634.52 543.97 L636.66 545.05 L638.71 546.15 L640.7 547.2 L642.63 548.15 L644.49 549.05 L646.28 549.95 L648 550.9 L649.7 551.94 L651.37 553.05 L652.9 554.13 L654.2 555.1 L655.18 555.92 L655.91 556.64 L656.54 557.32 L657.21 558.03 L657.94 558.78 L658.67 559.54 L659.39 560.31 L660.09 561.09 L660.8 561.94 L661.52 562.85 L662.18 563.69 L662.71 564.36 L663.04 564.77 L663.21 564.99 L663.36 565.18 L663.6 565.5 L663.98 566.01 L664.43 566.63 L664.91 567.29 L665.36 567.93 L665.79 568.54 L666.22 569.16 L666.63 569.79 L667.03 570.42 L667.42 571.06 L667.78 571.72 L668.14 572.38 L668.48 573.05 L668.81 573.72 L669.13 574.4 L669.42 575.09 L669.69 575.79 L669.93 576.5 L670.14 577.22 L670.32 577.95 L670.48 578.68 L670.62 579.42 L670.72 580.16 L670.8 580.91 L670.87 581.65 L670.91 582.4 L670.94 583.15 L670.94 583.9 L670.92 584.65 L670.87 585.4 L670.81 586.15 L670.72 586.89 L670.59 587.63 L670.44 588.36 L670.26 589.09 L670.06 589.82 L669.83 590.53 L669.57 591.23 L669.29 591.93 L668.98 592.62 L668.64 593.28 L668.26 593.92 L667.85 594.55 L667.4 595.16 L666.93 595.74 L666.44 596.3 L665.91 596.83 L665.36 597.34 L664.79 597.83 L664.19 598.29 L663.58 598.72 L662.95 599.13 L662.31 599.52 L661.66 599.89 L661 600.24 L660.32 600.57 L659.64 600.89 L658.96 601.19 L658.26 601.48 L657.57 601.75 L656.86 602.01 L656.15 602.25 L655.44 602.48 L654.72 602.69 L654 602.89 L653.27 603.08 L652.54 603.25 L651.81 603.41 L651.07 603.56 L650.33 603.69 L649.59 603.8 L648.85 603.9 L648.1 603.99 L647.36 604.06 L646.61 604.12 L645.86 604.17 L645.11 604.2 L644.36 604.22 L643.61 604.22 L642.86 604.21 L642.11 604.19 L641.36 604.15 L640.61 604.1 L639.87 604.03 L639.12 603.95 L638.38 603.87 L637.63 603.77 L636.89 603.65 L636.15 603.51 L635.42 603.35 L634.69 603.17 L633.97 602.97 L633.26 602.75 L632.55 602.51 L631.85 602.24 L631.15 601.96 L630.46 601.67 L629.77 601.36 L629.1 601.04 L628.42 600.71 L627.75 600.37 L627.09 600.02 L626.44 599.65 L625.79 599.28 L625.14 598.9 L624.5 598.51 L623.87 598.11 L623.24 597.7 L622.61 597.29 L621.99 596.86 L621.38 596.44 L620.77 596 L620.16 595.55 L619.57 595.1 L618.98 594.63 L618.4 594.16 L617.83 593.67 L617.28 593.16 L616.74 592.64 L616.22 592.1 L615.7 591.55 L615.2 591 L614.72 590.43 L614.24 589.84 L613.79 589.25 L613.34 588.64 L612.91 588.03 L612.5 587.4 L612.12 586.76 L611.77 586.1 L611.45 585.42 L611.14 584.73 L610.84 584.05 L610.54 583.36 L610.25 582.66 L609.98 581.97 L609.7 581.27 L609.41 580.5 L609.1 579.69 L608.84 578.97 L608.65 578.46" fill="none" stroke="#ff0000" stroke-width="1.3"/>
<path d="M478.8 580.9L482.5 586.9L475.1 586.9Z"/>
<path d="M479.64 579.09L483.34 585.09L475.94 585.09Z"/>
<path d="M480.5 577.28L484.2 583.28L476.8 583.28Z"/>
<path d="M481.41 575.5L485.11 581.5L477.71 581.5Z"/>
<path d="M482.42 573.77L486.12 579.77L478.72 579.77Z"/>
<path d="M483.49 572.08L487.19 578.08L479.79 578.08Z"/>
<path d="M484.59 570.41L488.29 576.41L480.89 576.41Z"/>
<path d="M485.73 568.77L489.43 574.77L482.03 574.77Z"/>
<path d="M486.9 567.14L490.6 573.14L483.2 573.14Z"/>
<path d="M488.05 565.51L491.75 571.51L484.35 571.51Z"/>
<path d="M489.25 563.91L492.95 569.91L485.55 569.91Z"/>
<path d="M490.53 562.37L494.23 568.37L486.83 568.37Z"/>
<path d="M491.88 560.9L495.58 566.9L488.18 566.9Z"/>
<path d="M493.37 559.57L497.07 565.57L489.67 565.57Z"/>
<path d="M494.97 558.37L498.67 564.37L491.27 564.37Z"/>
<path d="M496.58 557.19L500.28 563.19L492.88 563.19Z"/>
<path d="M498.17 555.97L501.87 561.97L494.47 561.97Z"/>
<path d="M499.77 554.77L503.47 560.77L496.07 560.77Z"/>
<path d="M501.4 553.61L505.1 559.61L497.7 559.61Z"/>
<path d="M503.05 552.48L506.75 558.48L499.35 558.48Z"/>
<path d="M504.7 551.35L508.4 557.35L501 557.35Z"/>
<path d="M506.36 550.23L510.06 556.23L502.66 556.23Z"/>
<path d="M508.02 549.12L511.72 555.12L504.32 555.12Z"/>
<path d="M509.7 548.03L513.4 554.03L506 554.03Z"/>
<path d="M511.42 547.01L515.12 553.01L507.72 553.01Z"/>
<path d="M513.2 546.1L516.9 552.1L509.5 552.1Z"/>
<path d="M514.99 545.2L518.69 551.2L511.29 551.2Z"/>
<path d="M516.78 544.31L520.48 550.31L513.08 550.31Z"/>
<path d="M517.8 543.8L521.5 549.8L514.1 549.8Z"/>
<path d="M525.5 540.7L529.2 546.7L521.8 546.7Z"/>
<path d="M533.9 537.1L537.6 543.1L530.2 543.1Z"/>
<path d="M543.3 532.7L547 538.7L539.6 538.7Z"/>
<path d="M553.7 530.7L557.4 536.7L550 536.7Z"/>
<path d="M564.5 529.4L568.2 535.4L560.8 535.4Z"/>
<path d="M576.6 529.2L580.3 535.2L572.9 535.2Z"/>
<path d="M588.7 529.2L592.4 535.2L585 535.2Z"/>
<path d="M600 530.7L603.7 536.7L596.3 536.7Z"/>
<path d="M611.5 532.7L615.2 538.7L607.8 538.7Z"/>
<path d="M622.5 536.1L626.2 542.1L618.8 542.1Z"/>
<path d="M632.3 539L636 545L628.6 545Z"/>
<path d="M640.7 543.2L644.4 549.2L637 549.2Z"/>
<path d="M648 546.9L651.7 552.9L644.3 552.9Z"/>
<path d="M654.2 551.1L657.9 557.1L650.5 557.1Z"/>
<path d="M657.21 554.03L660.91 560.03L653.51 560.03Z"/>
<path d="M660.09 557.09L663.79 563.09L656.39 563.09Z"/>
<path d="M662.71 560.36L666.41 566.36L659.01 566.36Z"/>
<path d="M663.6 561.5L667.3 567.5L659.9 567.5Z"/>
<path d="M665.36 563.93L669.06 569.93L661.66 569.93Z"/>
<path d="M667.03 566.42L670.73 572.42L663.33 572.42Z"/>
<path d="M668.48 569.05L672.18 575.05L664.78 575.05Z"/>
<path d="M669.69 571.79L673.39 577.79L665.99 577.79Z"/>
<path d="M670.48 574.68L674.18 580.68L666.78 580.68Z"/>
<path d="M670.87 577.65L674.57 583.65L667.17 583.65Z"/>
<path d="M670.92 580.65L674.62 586.65L667.22 586.65Z"/>
<path d="M670.59 583.63L674.29 589.63L666.89 589.63Z"/>
<path d="M669.83 586.53L673.53 592.53L666.13 592.53Z"/>
<path d="M668.64 589.28L672.34 595.28L664.94 595.28Z"/>
<path d="M666.93 591.74L670.63 597.74L663.23 597.74Z"/>
<path d="M664.79 593.83L668.49 599.83L661.09 599.83Z"/>
<path d="M662.31 595.52L666.01 601.52L658.61 601.52Z"/>
<path d="M659.64 596.89L663.34 602.89L655.94 602.89Z"/>
<path d="M656.86 598.01L660.56 604.01L653.16 604.01Z"/>
<path d="M654 598.89L657.7 604.89L650.3 604.89Z"/>
<path d="M651.07 599.56L654.77 605.56L647.37 605.56Z"/>
<path d="M648.1 599.99L651.8 605.99L644.4 605.99Z"/>
<path d="M645.11 600.2L648.81 606.2L641.41 606.2Z"/>
<path d="M642.11 600.19L645.81 606.19L638.41 606.19Z"/>
<path d="M639.12 599.95L642.82 605.95L635.42 605.95Z"/>
<path d="M636.15 599.51L639.85 605.51L632.45 605.51Z"/>
<path d="M633.26 598.75L636.96 604.75L629.56 604.75Z"/>
<path d="M630.46 597.67L634.16 603.67L626.76 603.67Z"/>
<path d="M627.75 596.37L631.45 602.37L624.05 602.37Z"/>
<path d="M625.14 594.9L628.84 600.9L621.44 600.9Z"/>
<path d="M622.61 593.29L626.31 599.29L618.91 599.29Z"/>
<path d="M620.16 591.55L623.86 597.55L616.46 597.55Z"/>
<path d="M617.83 589.67L621.53 595.67L614.13 595.67Z"/>
<path d="M615.7 587.55L619.4 593.55L612 593.55Z"/>
<path d="M613.79 585.25L617.49 591.25L610.09 591.25Z"/>
<path d="M612.12 582.76L615.82 588.76L608.42 588.76Z"/>
<path d="M610.84 580.05L614.54 586.05L607.14 586.05Z"/>
<path d="M609.7 577.27L613.4 583.27L606 583.27Z"/>
<path d="M608.65 574.46L612.35 580.46L604.95 580.46Z"/>
</g>
<g fill="#008000"><path d="M504 591.2 L503.78 590.87 L503.47 590.39 L503.13 589.86 L502.82 589.35 L502.53 588.87 L502.25 588.4 L501.98 587.91 L501.77 587.42 L501.6 586.9 L501.47 586.36 L501.37 585.82 L501.31 585.28 L501.3 584.73 L501.32 584.18 L501.37 583.63 L501.43 583.08 L501.51 582.54 L501.61 582 L501.71 581.46 L501.81 580.92 L501.9 580.37 L501.99 579.83 L502.09 579.29 L502.21 578.75 L502.37 578.23 L502.55 577.71 L502.75 577.2 L502.98 576.7 L503.25 576.22 L503.55 575.76 L503.87 575.31 L504.2 574.87 L504.55 574.45 L504.92 574.04 L505.3 573.64 L505.69 573.25 L506.09 572.88 L506.5 572.51 L506.92 572.16 L507.35 571.81 L507.79 571.48 L508.24 571.17 L508.69 570.85 L509.13 570.52 L509.56 570.18 L509.98 569.83 L510.4 569.47 L510.81 569.11 L511.22 568.73 L511.62 568.35 L512.01 567.97 L512.41 567.59 L512.81 567.21 L513.21 566.84 L513.61 566.46 L514 566.08 L514.38 565.68 L514.75 565.27 L515.11 564.86 L515.47 564.44 L515.82 564.01 L516.16 563.58 L516.5 563.15 L516.84 562.71 L517.01 562.4 L517.07 562.16 L517.35 561.77 L518.18 560.97 L519.79 559.53 L521.96 557.63 L524.34 555.68 L526.6 554.1 L528.68 553.05 L530.75 552.3 L532.82 551.65 L534.9 550.9 L537 550.02 L539.1 549.11 L541.2 548.17 L543.3 547.2 L545.38 546.15 L547.45 545.03 L549.52 543.94 L551.6 543 L553.65 542.26 L555.67 541.64 L557.76 541.09 L560 540.5 L562.48 539.89 L565.14 539.3 L567.82 538.68 L570.4 538 L572.78 537.22 L575.06 536.38 L577.36 535.52 L579.8 534.7 L582.39 533.9 L585.07 533.09 L587.87 532.34 L590.8 531.7 L593.93 531.18 L597.23 530.74 L600.57 530.39 L603.8 530.1 L606.88 529.89 L609.89 529.75 L612.88 529.66 L615.9 529.6 L618.91 529.55 L621.89 529.54 L624.96 529.55 L628.2 529.6 L631.79 529.63 L635.62 529.66 L639.39 529.78 L642.8 530.1 L645.67 530.72 L648.19 531.55 L650.62 532.43 L653.2 533.2 L656 533.78 L658.89 534.27 L661.81 534.76 L664.7 535.3 L667.6 535.9 L670.53 536.52 L673.39 537.21 L676.1 538 L678.59 538.91 L680.92 539.92 L683.2 541.02 L685.5 542.2 L687.87 543.52 L690.26 544.96 L692.62 546.42 L694.9 547.8 L697.15 549.04 L699.36 550.2 L701.45 551.36 L703.3 552.6 L704.88 553.99 L706.25 555.47 L707.45 556.91 L708.5 558.2 L709.37 559.25 L710.05 560.15 L710.64 561 L711.23 561.9 L711.85 562.91 L712.44 563.96 L712.99 564.99 L713.47 565.91 L713.86 566.68 L714.17 567.35 L714.44 568 L714.7 568.7 L714.95 569.49 L715.17 570.31 L715.38 571.15 L715.57 571.99 L715.77 572.81 L715.96 573.64 L716.13 574.48 L716.25 575.31 L716.34 576.16 L716.39 577.01 L716.4 577.86 L716.39 578.71 L716.33 579.55 L716.24 580.4 L716.13 581.24 L715.99 582.08 L715.83 582.92 L715.65 583.75 L715.44 584.57 L715.2 585.39 L714.94 586.19 L714.64 586.98 L714.32 587.76 L713.96 588.53 L713.55 589.27 L713.1 589.99 L712.64 590.71 L712.16 591.41 L711.68 592.11 L711.18 592.81 L710.68 593.49 L710.15 594.16 L709.61 594.81 L709.06 595.46 L708.49 596.09 L707.91 596.71 L707.3 597.3 L706.67 597.88 L706.03 598.43 L705.37 598.97 L704.69 599.48 L704 599.97 L703.28 600.43 L702.56 600.88 L701.83 601.32 L701.09 601.73 L700.34 602.13 L699.57 602.5 L698.8 602.84 L698.01 603.16 L697.21 603.46 L696.41 603.73 L695.6 603.98 L694.77 604.19 L693.95 604.39 L693.12 604.57 L692.28 604.75 L691.45 604.9 L690.61 605.04 L689.77 605.16 L688.92 605.26 L688.08 605.33 L687.23 605.39 L686.38 605.44 L685.47 605.49 L684.52 605.52 L683.66 605.54 L682.98 605.56 L682.69 605.61 L682.66 605.66 L682.57 605.68 L682.1 605.6 L681.06 605.45 L679.66 605.24 L678.16 604.92 L676.84 604.44 L675.65 603.75 L674.51 602.9 L673.54 601.93 L672.88 600.89 L672.57 599.68 L672.52 598.31 L672.75 596.99 L673.28 595.96 L674.22 595.3 L675.53 594.89 L676.99 594.6 L678.38 594.28 L679.68 593.93 L680.99 593.59 L682.31 593.29 L683.63 593.03 L684.96 592.81 L686.3 592.64 L687.64 592.5 L688.99 592.36 L690.33 592.25 L691.68 592.17 L693.02 592.08 L694.37 591.95 L695.83 591.75 L697.37 591.5 L698.74 591.26 L699.7 591.1" fill="none" stroke="#008000" stroke-width="1.3"/>
<path d="M500.4 589.13L507.6 589.13L504 595.33Z"/>
<path d="M499.22 587.28L506.42 587.28L502.82 593.48Z"/>
<path d="M498.17 585.35L505.37 585.35L501.77 591.55Z"/>
<path d="M497.71 583.21L504.91 583.21L501.31 589.41Z"/>
<path d="M497.83 581.02L505.03 581.02L501.43 587.22Z"/>
<path d="M498.21 578.85L505.41 578.85L501.81 585.05Z"/>
<path d="M498.61 576.69L505.81 576.69L502.21 582.89Z"/>
<path d="M499.38 574.63L506.58 574.63L502.98 580.83Z"/>
<path d="M500.6 572.81L507.8 572.81L504.2 579.01Z"/>
<path d="M502.09 571.18L509.29 571.18L505.69 577.38Z"/>
<path d="M503.75 569.75L510.95 569.75L507.35 575.95Z"/>
<path d="M505.53 568.46L512.73 568.46L509.13 574.66Z"/>
<path d="M507.21 567.04L514.41 567.04L510.81 573.24Z"/>
<path d="M508.81 565.52L516.01 565.52L512.41 571.72Z"/>
<path d="M510.4 564.01L517.6 564.01L514 570.21Z"/>
<path d="M511.87 562.37L519.07 562.37L515.47 568.57Z"/>
<path d="M513.24 560.65L520.44 560.65L516.84 566.85Z"/>
<path d="M514.58 558.9L521.78 558.9L518.18 565.1Z"/>
<path d="M523 552.03L530.2 552.03L526.6 558.23Z"/>
<path d="M531.3 548.83L538.5 548.83L534.9 555.03Z"/>
<path d="M539.7 545.13L546.9 545.13L543.3 551.33Z"/>
<path d="M548 540.93L555.2 540.93L551.6 547.13Z"/>
<path d="M556.4 538.43L563.6 538.43L560 544.63Z"/>
<path d="M566.8 535.93L574 535.93L570.4 542.13Z"/>
<path d="M576.2 532.63L583.4 532.63L579.8 538.83Z"/>
<path d="M587.2 529.63L594.4 529.63L590.8 535.83Z"/>
<path d="M600.2 528.03L607.4 528.03L603.8 534.23Z"/>
<path d="M612.3 527.53L619.5 527.53L615.9 533.73Z"/>
<path d="M624.6 527.53L631.8 527.53L628.2 533.73Z"/>
<path d="M639.2 528.03L646.4 528.03L642.8 534.23Z"/>
<path d="M649.6 531.13L656.8 531.13L653.2 537.33Z"/>
<path d="M661.1 533.23L668.3 533.23L664.7 539.43Z"/>
<path d="M672.5 535.93L679.7 535.93L676.1 542.13Z"/>
<path d="M681.9 540.13L689.1 540.13L685.5 546.33Z"/>
<path d="M691.3 545.73L698.5 545.73L694.9 551.93Z"/>
<path d="M699.7 550.53L706.9 550.53L703.3 556.73Z"/>
<path d="M704.9 556.13L712.1 556.13L708.5 562.33Z"/>
<path d="M707.63 559.84L714.83 559.84L711.23 566.04Z"/>
<path d="M709.87 563.84L717.07 563.84L713.47 570.04Z"/>
<path d="M711.1 566.63L718.3 566.63L714.7 572.83Z"/>
<path d="M711.97 569.92L719.17 569.92L715.57 576.12Z"/>
<path d="M712.65 573.25L719.85 573.25L716.25 579.45Z"/>
<path d="M712.79 576.64L719.99 576.64L716.39 582.84Z"/>
<path d="M712.39 580.01L719.59 580.01L715.99 586.21Z"/>
<path d="M711.6 583.32L718.8 583.32L715.2 589.52Z"/>
<path d="M710.36 586.46L717.56 586.46L713.96 592.66Z"/>
<path d="M708.56 589.35L715.76 589.35L712.16 595.55Z"/>
<path d="M706.55 592.09L713.75 592.09L710.15 598.29Z"/>
<path d="M704.31 594.64L711.51 594.64L707.91 600.84Z"/>
<path d="M701.77 596.9L708.97 596.9L705.37 603.1Z"/>
<path d="M698.96 598.82L706.16 598.82L702.56 605.02Z"/>
<path d="M695.97 600.43L703.17 600.43L699.57 606.63Z"/>
<path d="M692.81 601.67L700.01 601.67L696.41 607.87Z"/>
<path d="M689.52 602.51L696.72 602.51L693.12 608.71Z"/>
<path d="M686.17 603.09L693.37 603.09L689.77 609.29Z"/>
<path d="M682.78 603.38L689.98 603.38L686.38 609.58Z"/>
<path d="M679.38 603.5L686.58 603.5L682.98 609.7Z"/>
<path d="M678.5 603.53L685.7 603.53L682.1 609.73Z"/>
<path d="M673.24 602.37L680.44 602.37L676.84 608.57Z"/>
<path d="M669.28 598.82L676.48 598.82L672.88 605.02Z"/>
<path d="M669.68 593.89L676.88 593.89L673.28 600.09Z"/>
<path d="M674.78 592.22L681.98 592.22L678.38 598.42Z"/>
<path d="M680.03 590.96L687.23 590.96L683.63 597.16Z"/>
<path d="M685.39 590.29L692.59 590.29L688.99 596.49Z"/>
<path d="M690.77 589.88L697.97 589.88L694.37 596.08Z"/>
<path d="M696.1 589.03L703.3 589.03L699.7 595.23Z"/>
</g>
<g fill="#800080"><path d="M515 564.5 L514.64 564.8 L514.12 565.22 L513.55 565.71 L513.01 566.18 L512.53 566.61 L512.06 567.06 L511.6 567.52 L511.15 567.99 L510.71 568.47 L510.29 568.96 L509.88 569.46 L509.47 569.97 L509.06 570.47 L508.66 570.99 L508.26 571.5 L507.87 572.02 L507.49 572.55 L507.12 573.08 L506.74 573.61 L506.36 574.14 L505.97 574.65 L505.56 575.17 L505.16 575.68 L504.78 576.2 L504.41 576.74 L504.05 577.28 L503.71 577.83 L503.41 578.41 L503.16 579.04 L502.95 579.71 L502.76 580.35 L502.61 580.88 L502.14 581.36 L501.46 581.81 L501.28 582.08 L502.3 582 L505.42 581.3 L510.04 580.13 L514.58 579.03 L517.5 578.5 L518.13 578.92 L517.39 579.94 L516.07 580.98 L515 581.5 L514.29 581.13 L513.53 580.25 L512.76 579.37 L512 579 L511.26 579.39 L510.53 580.22 L509.79 581.19 L509 582 L508.16 582.58 L507.28 583.09 L506.39 583.56 L505.5 584 L504.52 584.5 L503.46 585.02 L502.55 585.41 L502 585.5 L501.95 585.18 L502.27 584.56 L502.73 583.83 L503.14 583.16 L503.46 582.6 L503.79 582.04 L504.14 581.49 L504.5 580.95 L504.87 580.42 L505.25 579.89 L505.65 579.37 L506.04 578.86 L506.44 578.34 L506.84 577.83 L507.25 577.33 L507.66 576.82 L508.08 576.32 L508.5 575.83 L508.92 575.34 L509.34 574.83 L509.73 574.32 L510.12 573.79 L510.5 573.27 L510.88 572.74 L511.26 572.22 L511.64 571.69 L512.03 571.17 L512.42 570.65 L512.84 570.13 L513.28 569.61 L513.71 569.12 L514.1 568.67 L514.38 568.32 L514.59 568.03 L514.86 567.73 L515.3 567.3 L515.92 566.78 L516.65 566.21 L517.56 565.48 L518.7 564.5 L520.21 563.15 L522.01 561.5 L523.86 559.78 L525.5 558.2 L526.82 556.84 L527.97 555.57 L529.08 554.32 L530.3 553 L531.64 551.61 L533.02 550.19 L534.48 548.73 L536 547.2 L537.59 545.57 L539.23 543.85 L540.96 542.13 L542.8 540.5 L544.75 539.01 L546.81 537.6 L548.96 536.19 L551.2 534.7 L553.49 533.09 L555.84 531.41 L558.33 529.7 L561 528 L563.9 526.3 L566.98 524.59 L570.19 522.91 L573.5 521.3 L576.85 519.76 L580.29 518.27 L583.88 516.84 L587.7 515.5 L591.83 514.23 L596.2 513.04 L600.7 511.92 L605.2 510.9 L609.56 509.89 L613.88 508.92 L618.41 508.14 L623.4 507.7 L629.22 507.78 L635.64 508.25 L641.99 508.82 L647.6 509.2 L652.16 509.22 L656.07 509.06 L659.74 508.97 L663.6 509.2 L667.73 509.83 L671.91 510.71 L676.11 511.79 L680.3 513 L684.55 514.38 L688.84 515.94 L693.04 517.59 L697 519.2 L700.69 520.74 L704.19 522.26 L707.5 523.82 L710.6 525.5 L713.45 527.31 L716.06 529.23 L718.55 531.2 L721 533.2 L723.5 535.27 L725.96 537.4 L728.3 539.51 L730.4 541.5 L732.23 543.36 L733.84 545.14 L735.28 546.83 L736.6 548.4 L737.77 549.82 L738.77 551.11 L739.69 552.35 L740.62 553.63 L741.6 554.96 L742.57 556.31 L743.5 557.67 L744.33 559.09 L745.07 560.55 L745.74 562.07 L746.33 563.61 L746.87 565.16 L747.38 566.73 L747.83 568.33 L748.21 569.94 L748.47 571.56 L748.61 573.19 L748.65 574.85 L748.58 576.5 L748.42 578.14 L748.14 579.75 L747.74 581.35 L747.27 582.95 L746.79 584.53 L746.32 586.11 L745.84 587.7 L745.29 589.26 L744.62 590.75 L743.81 592.17 L742.89 593.54 L741.88 594.84 L740.79 596.07 L739.61 597.2 L738.33 598.25 L736.99 599.23 L735.61 600.14 L734.19 600.97 L732.73 601.72 L731.23 602.42 L729.71 603.07 L728.19 603.69 L726.63 604.25 L725.07 604.78 L723.49 605.26 L721.9 605.72 L720.3 606.13 L718.7 606.51 L717.08 606.82 L715.45 607.07 L713.81 607.27 L712.17 607.41 L710.52 607.52 L708.87 607.58 L707.22 607.59 L705.57 607.55 L703.92 607.49 L702.27 607.39 L700.61 607.24 L698.96 607.08 L697.35 606.9 L695.72 606.72 L694.08 606.51 L692.54 606.31 L691.2 606.1 L690.14 605.9 L689.28 605.7 L688.51 605.49 L687.69 605.28 L686.82 605.07 L685.94 604.86 L685.07 604.64 L684.2 604.41 L683.34 604.16 L682.47 603.9 L681.61 603.64 L680.76 603.36 L679.9 603.08 L679.05 602.79 L678.2 602.49 L677.35 602.2 L676.5 601.91 L675.65 601.61 L674.8 601.33 L673.94 601.05 L673.08 600.79 L672.21 600.55 L671.35 600.3 L670.48 600.05 L669.62 599.8 L668.75 599.55 L667.89 599.28 L667.05 598.98 L666.22 598.63 L665.4 598.26 L664.59 597.85 L663.8 597.44 L663.02 596.99 L662.25 596.52 L661.48 596.05 L660.71 595.59 L659.93 595.14 L659.14 594.7 L658.35 594.27 L657.56 593.85 L656.71 593.42 L655.83 592.98 L655.01 592.58 L654.33 592.25 L654.01 592.06 L653.95 591.96 L653.74 591.85 L653 591.6 L651.47 591.13 L649.4 590.51 L647.21 589.89 L645.3 589.4 L643.79 589.1 L642.47 588.92 L641.23 588.77 L640 588.6 L638.73 588.45 L637.48 588.35 L636.29 588.15 L635.2 587.7 L634.17 586.82 L633.2 585.64 L632.38 584.49 L631.8 583.7" fill="none" stroke="#800080" stroke-width="1.3"/>
<path d="M515 560.35L518.75 564.5L515 568.65L511.25 564.5Z"/>
<path d="M513.01 562.03L516.76 566.18L513.01 570.33L509.26 566.18Z"/>
<path d="M511.15 563.84L514.9 567.99L511.15 572.14L507.4 567.99Z"/>
<path d="M509.47 565.82L513.22 569.97L509.47 574.12L505.72 569.97Z"/>
<path d="M507.87 567.87L511.62 572.02L507.87 576.17L504.12 572.02Z"/>
<path d="M506.36 569.99L510.11 574.14L506.36 578.29L502.61 574.14Z"/>
<path d="M504.78 572.05L508.53 576.2L504.78 580.35L501.03 576.2Z"/>
<path d="M503.41 574.26L507.16 578.41L503.41 582.56L499.66 578.41Z"/>
<path d="M502.61 576.73L506.36 580.88L502.61 585.03L498.86 580.88Z"/>
<path d="M502.3 577.85L506.05 582L502.3 586.15L498.55 582Z"/>
<path d="M517.5 574.35L521.25 578.5L517.5 582.65L513.75 578.5Z"/>
<path d="M515 577.35L518.75 581.5L515 585.65L511.25 581.5Z"/>
<path d="M512 574.85L515.75 579L512 583.15L508.25 579Z"/>
<path d="M509 577.85L512.75 582L509 586.15L505.25 582Z"/>
<path d="M505.5 579.85L509.25 584L505.5 588.15L501.75 584Z"/>
<path d="M502 581.35L505.75 585.5L502 589.65L498.25 585.5Z"/>
<path d="M503.14 579.01L506.89 583.16L503.14 587.31L499.39 583.16Z"/>
<path d="M504.5 576.8L508.25 580.95L504.5 585.1L500.75 580.95Z"/>
<path d="M506.04 574.71L509.79 578.86L506.04 583.01L502.29 578.86Z"/>
<path d="M507.66 572.67L511.41 576.82L507.66 580.97L503.91 576.82Z"/>
<path d="M509.34 570.68L513.09 574.83L509.34 578.98L505.59 574.83Z"/>
<path d="M510.88 568.59L514.63 572.74L510.88 576.89L507.13 572.74Z"/>
<path d="M512.42 566.5L516.17 570.65L512.42 574.8L508.67 570.65Z"/>
<path d="M514.1 564.52L517.85 568.67L514.1 572.82L510.35 568.67Z"/>
<path d="M515.3 563.15L519.05 567.3L515.3 571.45L511.55 567.3Z"/>
<path d="M518.7 560.35L522.45 564.5L518.7 568.65L514.95 564.5Z"/>
<path d="M525.5 554.05L529.25 558.2L525.5 562.35L521.75 558.2Z"/>
<path d="M530.3 548.85L534.05 553L530.3 557.15L526.55 553Z"/>
<path d="M536 543.05L539.75 547.2L536 551.35L532.25 547.2Z"/>
<path d="M542.8 536.35L546.55 540.5L542.8 544.65L539.05 540.5Z"/>
<path d="M551.2 530.55L554.95 534.7L551.2 538.85L547.45 534.7Z"/>
<path d="M561 523.85L564.75 528L561 532.15L557.25 528Z"/>
<path d="M573.5 517.15L577.25 521.3L573.5 525.45L569.75 521.3Z"/>
<path d="M587.7 511.35L591.45 515.5L587.7 519.65L583.95 515.5Z"/>
<path d="M605.2 506.75L608.95 510.9L605.2 515.05L601.45 510.9Z"/>
<path d="M623.4 503.55L627.15 507.7L623.4 511.85L619.65 507.7Z"/>
<path d="M647.6 505.05L651.35 509.2L647.6 513.35L643.85 509.2Z"/>
<path d="M663.6 505.05L667.35 509.2L663.6 513.35L659.85 509.2Z"/>
<path d="M680.3 508.85L684.05 513L680.3 517.15L676.55 513Z"/>
<path d="M697 515.05L700.75 519.2L697 523.35L693.25 519.2Z"/>
<path d="M710.6 521.35L714.35 525.5L710.6 529.65L706.85 525.5Z"/>
<path d="M721 529.05L724.75 533.2L721 537.35L717.25 533.2Z"/>
<path d="M730.4 537.35L734.15 541.5L730.4 545.65L726.65 541.5Z"/>
<path d="M736.6 544.25L740.35 548.4L736.6 552.55L732.85 548.4Z"/>
<path d="M740.62 549.48L744.37 553.63L740.62 557.78L736.87 553.63Z"/>
<path d="M744.33 554.94L748.08 559.09L744.33 563.24L740.58 559.09Z"/>
<path d="M746.87 561.01L750.62 565.16L746.87 569.31L743.12 565.16Z"/>
<path d="M748.47 567.41L752.22 571.56L748.47 575.71L744.72 571.56Z"/>
<path d="M748.42 573.99L752.17 578.14L748.42 582.29L744.67 578.14Z"/>
<path d="M746.79 580.38L750.54 584.53L746.79 588.68L743.04 584.53Z"/>
<path d="M744.62 586.6L748.37 590.75L744.62 594.9L740.87 590.75Z"/>
<path d="M740.79 591.92L744.54 596.07L740.79 600.22L737.04 596.07Z"/>
<path d="M735.61 595.99L739.36 600.14L735.61 604.29L731.86 600.14Z"/>
<path d="M729.71 598.92L733.46 603.07L729.71 607.22L725.96 603.07Z"/>
<path d="M723.49 601.11L727.24 605.26L723.49 609.41L719.74 605.26Z"/>
<path d="M717.08 602.67L720.83 606.82L717.08 610.97L713.33 606.82Z"/>
<path d="M710.52 603.37L714.27 607.52L710.52 611.67L706.77 607.52Z"/>
<path d="M703.92 603.34L707.67 607.49L703.92 611.64L700.17 607.49Z"/>
<path d="M697.35 602.75L701.1 606.9L697.35 611.05L693.6 606.9Z"/>
<path d="M691.2 601.95L694.95 606.1L691.2 610.25L687.45 606.1Z"/>
<path d="M687.69 601.13L691.44 605.28L687.69 609.43L683.94 605.28Z"/>
<path d="M684.2 600.26L687.95 604.41L684.2 608.56L680.45 604.41Z"/>
<path d="M680.76 599.21L684.51 603.36L680.76 607.51L677.01 603.36Z"/>
<path d="M677.35 598.05L681.1 602.2L677.35 606.35L673.6 602.2Z"/>
<path d="M673.94 596.9L677.69 601.05L673.94 605.2L670.19 601.05Z"/>
<path d="M670.48 595.9L674.23 600.05L670.48 604.2L666.73 600.05Z"/>
<path d="M667.05 594.83L670.8 598.98L667.05 603.13L663.3 598.98Z"/>
<path d="M663.8 593.29L667.55 597.44L663.8 601.59L660.05 597.44Z"/>
<path d="M660.71 591.44L664.46 595.59L660.71 599.74L656.96 595.59Z"/>
<path d="M657.56 589.7L661.31 593.85L657.56 598L653.81 593.85Z"/>
<path d="M654.33 588.1L658.08 592.25L654.33 596.4L650.58 592.25Z"/>
<path d="M653 587.45L656.75 591.6L653 595.75L649.25 591.6Z"/>
<path d="M645.3 585.25L649.05 589.4L645.3 593.55L641.55 589.4Z"/>
<path d="M640 584.45L643.75 588.6L640 592.75L636.25 588.6Z"/>
<path d="M635.2 583.55L638.95 587.7L635.2 591.85L631.45 587.7Z"/>
<path d="M631.8 579.55L635.55 583.7L631.8 587.85L628.05 583.7Z"/>
</g>
<rect x="464.1" y="370.4" width="312.3" height="248.1" fill="none" stroke="#000" stroke-width="2"/>
<line x1="459.1" y1="618.77" x2="464.1" y2="618.77" stroke="#000" stroke-width="2"/>
<line x1="461.1" y1="602.24" x2="464.1" y2="602.24" stroke="#000" stroke-width="2"/>
<line x1="459.1" y1="585.7" x2="464.1" y2="585.7" stroke="#000" stroke-width="2"/>
<line x1="461.1" y1="569.17" x2="464.1" y2="569.17" stroke="#000" stroke-width="2"/>
<line x1="459.1" y1="552.63" x2="464.1" y2="552.63" stroke="#000" stroke-width="2"/>
<line x1="461.1" y1="536.1" x2="464.1" y2="536.1" stroke="#000" stroke-width="2"/>
<line x1="459.1" y1="519.56" x2="464.1" y2="519.56" stroke="#000" stroke-width="2"/>
<line x1="461.1" y1="503.03" x2="464.1" y2="503.03" stroke="#000" stroke-width="2"/>
<line x1="459.1" y1="486.49" x2="464.1" y2="486.49" stroke="#000" stroke-width="2"/>
<line x1="461.1" y1="469.96" x2="464.1" y2="469.96" stroke="#000" stroke-width="2"/>
<line x1="459.1" y1="453.42" x2="464.1" y2="453.42" stroke="#000" stroke-width="2"/>
<line x1="461.1" y1="436.89" x2="464.1" y2="436.89" stroke="#000" stroke-width="2"/>
<line x1="459.1" y1="420.35" x2="464.1" y2="420.35" stroke="#000" stroke-width="2"/>
<line x1="461.1" y1="403.82" x2="464.1" y2="403.82" stroke="#000" stroke-width="2"/>
<line x1="459.1" y1="387.28" x2="464.1" y2="387.28" stroke="#000" stroke-width="2"/>
<line x1="463.9" y1="618.5" x2="463.9" y2="623.5" stroke="#000" stroke-width="2"/>
<line x1="484.75" y1="618.5" x2="484.75" y2="621.5" stroke="#000" stroke-width="2"/>
<line x1="505.59" y1="618.5" x2="505.59" y2="623.5" stroke="#000" stroke-width="2"/>
<line x1="526.43" y1="618.5" x2="526.43" y2="621.5" stroke="#000" stroke-width="2"/>
<line x1="547.28" y1="618.5" x2="547.28" y2="623.5" stroke="#000" stroke-width="2"/>
<line x1="568.12" y1="618.5" x2="568.12" y2="621.5" stroke="#000" stroke-width="2"/>
<line x1="588.97" y1="618.5" x2="588.97" y2="623.5" stroke="#000" stroke-width="2"/>
<line x1="609.81" y1="618.5" x2="609.81" y2="621.5" stroke="#000" stroke-width="2"/>
<line x1="630.66" y1="618.5" x2="630.66" y2="623.5" stroke="#000" stroke-width="2"/>
<line x1="651.5" y1="618.5" x2="651.5" y2="621.5" stroke="#000" stroke-width="2"/>
<line x1="672.35" y1="618.5" x2="672.35" y2="623.5" stroke="#000" stroke-width="2"/>
<line x1="693.19" y1="618.5" x2="693.19" y2="621.5" stroke="#000" stroke-width="2"/>
<line x1="714.04" y1="618.5" x2="714.04" y2="623.5" stroke="#000" stroke-width="2"/>
<line x1="734.88" y1="618.5" x2="734.88" y2="621.5" stroke="#000" stroke-width="2"/>
<line x1="755.73" y1="618.5" x2="755.73" y2="623.5" stroke="#000" stroke-width="2"/>
<line x1="776.57" y1="618.5" x2="776.57" y2="621.5" stroke="#000" stroke-width="2"/>
<text x="441.93" y="623.67" style="font-size:14px;font-weight:bold;fill:#222;">-1</text>
<text x="446.78" y="590.6" style="font-size:14px;font-weight:bold;fill:#222;">0</text>
<text x="446.59" y="557.53" style="font-size:14px;font-weight:bold;fill:#222;">1</text>
<text x="446.76" y="524.46" style="font-size:14px;font-weight:bold;fill:#222;">2</text>
<text x="446.71" y="491.39" style="font-size:14px;font-weight:bold;fill:#222;">3</text>
<text x="446.29" y="458.32" style="font-size:14px;font-weight:bold;fill:#222;">4</text>
<text x="446.59" y="425.25" style="font-size:14px;font-weight:bold;fill:#222;">5</text>
<text x="446.71" y="392.18" style="font-size:14px;font-weight:bold;fill:#222;">6</text>
<text x="460.01" y="637.4" style="font-size:14px;font-weight:bold;fill:#222;">0</text>
<text x="501.45" y="637.4" style="font-size:14px;font-weight:bold;fill:#222;">1</text>
<text x="543.42" y="637.4" style="font-size:14px;font-weight:bold;fill:#222;">2</text>
<text x="585.17" y="637.4" style="font-size:14px;font-weight:bold;fill:#222;">3</text>
<text x="626.7" y="637.4" style="font-size:14px;font-weight:bold;fill:#222;">4</text>
<text x="668.44" y="637.4" style="font-size:14px;font-weight:bold;fill:#222;">5</text>
<text x="710.14" y="637.4" style="font-size:14px;font-weight:bold;fill:#222;">6</text>
<text x="751.85" y="637.4" style="font-size:14px;font-weight:bold;fill:#222;">7</text>
<g transform="translate(0,0)"><text transform="translate(469.06,389.2) scale(0.97,1)" style="font-size:14px;font-weight:bold;fill:#222;">15 wt.%</text><text transform="translate(524.79,389.2) scale(0.99,1)" style="font-size:14px;font-weight:bold;fill:#222;">HC</text><text x="545.98" y="389.2" style="font-size:14px;font-weight:bold;fill:#222;">I</text><text x="551.16" y="389.2" style="font-size:14px;font-weight:bold;fill:#222;">:</text><text transform="translate(557.82,389.2) scale(1.01,1)" style="font-size:14px;font-weight:bold;fill:#222;">90</text><text transform="translate(574.82,384.8) scale(0.92,1)" style="font-size:10px;font-weight:bold;fill:#222;">O</text><text transform="translate(582.29,389.2) scale(0.9,1)" style="font-size:14px;font-weight:bold;fill:#222;">C</text></g>
<g transform="translate(398.6,-4)"><text transform="translate(177.74,667.4) scale(0.99,1)" style="font-size:16px;font-weight:bold;">Z</text><text transform="translate(186.82,671.6) scale(1.1,1)" style="font-size:15px;font-weight:bold;">re</text><text x="204.36" y="667.2" style="font-size:15px;font-weight:bold;">(</text><text transform="translate(209.73,667.2) scale(1.49,1)" style="font-size:14px;font-weight:normal;">Ω</text><text transform="translate(226.25,667.2) scale(0.94,1)" style="font-size:15px;font-weight:bold;">cm</text><text transform="translate(247.76,660.2) scale(1.07,1)" style="font-size:12px;font-weight:bold;">2</text><text x="257.29" y="667.2" style="font-size:15px;font-weight:bold;">)</text></g>
<g transform="translate(432.6,545.2) rotate(-90)"><text transform="translate(-0.19,0) scale(0.8,1)" style="font-size:15px;font-weight:bold;">−</text><text transform="translate(7.93,0.2) scale(1.02,1)" style="font-size:16px;font-weight:bold;">Z</text><text transform="translate(17.68,2.7) scale(0.89,1)" style="font-size:15px;font-weight:bold;">img</text><text x="42.87" y="0" style="font-size:15px;font-weight:bold;">(</text><text transform="translate(50.39,0) scale(1.21,1)" style="font-size:14px;font-weight:normal;">Ω</text><text transform="translate(64.74,0) scale(0.96,1)" style="font-size:15px;font-weight:bold;">cm</text><text transform="translate(85.76,-8.6) scale(1.12,1)" style="font-size:11.5px;font-weight:bold;">2</text><text x="94.98" y="0" style="font-size:15px;font-weight:bold;">)</text></g>
<rect x="631.4" y="375.4" width="140.2" height="82.4" fill="#fff" stroke="#111" stroke-width="1.2"/>
<line x1="632.4" y1="384.1" x2="661.2" y2="384.1" stroke="#000000" stroke-width="1.3"/>
<g fill="#000000"><rect x="644.3" y="381.3" width="5.6" height="5.6"/></g>
<text transform="translate(665.06,388.4) scale(1.04,1)" style="font-size:12.2px;font-weight:normal;fill:#222;">Blank</text>
<line x1="632.4" y1="400.5" x2="661.2" y2="400.5" stroke="#0000ff" stroke-width="1.3"/>
<g fill="#0000ff"><circle cx="647.1" cy="400.5" r="3.25"/></g>
<text transform="translate(666.07,404.8) scale(1.04,1)" style="font-size:12.2px;font-weight:normal;fill:#222;">Aspartame</text>
<line x1="632.4" y1="416.8" x2="661.2" y2="416.8" stroke="#ff0000" stroke-width="1.3"/>
<g fill="#ff0000"><path d="M647.1 412.8L650.8 418.8L643.4 418.8Z"/></g>
<text transform="translate(666.07,421.1) scale(1.04,1)" style="font-size:12.2px;font-weight:normal;fill:#222;">Aspartame + SDS</text>
<line x1="632.4" y1="432.7" x2="661.2" y2="432.7" stroke="#008000" stroke-width="1.3"/>
<g fill="#008000"><path d="M643.5 430.63L650.7 430.63L647.1 436.83Z"/></g>
<text transform="translate(666.07,437) scale(1.04,1)" style="font-size:12.2px;font-weight:normal;fill:#222;">Aspartame + KI</text>
<line x1="632.4" y1="448.7" x2="661.2" y2="448.7" stroke="#800080" stroke-width="1.3"/>
<g fill="#800080"><path d="M647.1 444.55L650.85 448.7L647.1 452.85L643.35 448.7Z"/></g>
<text transform="translate(665.06,453) scale(1.04,1)" style="font-size:12.2px;font-weight:normal;fill:#222;">Formulation</text>
</svg>
</body></html>
